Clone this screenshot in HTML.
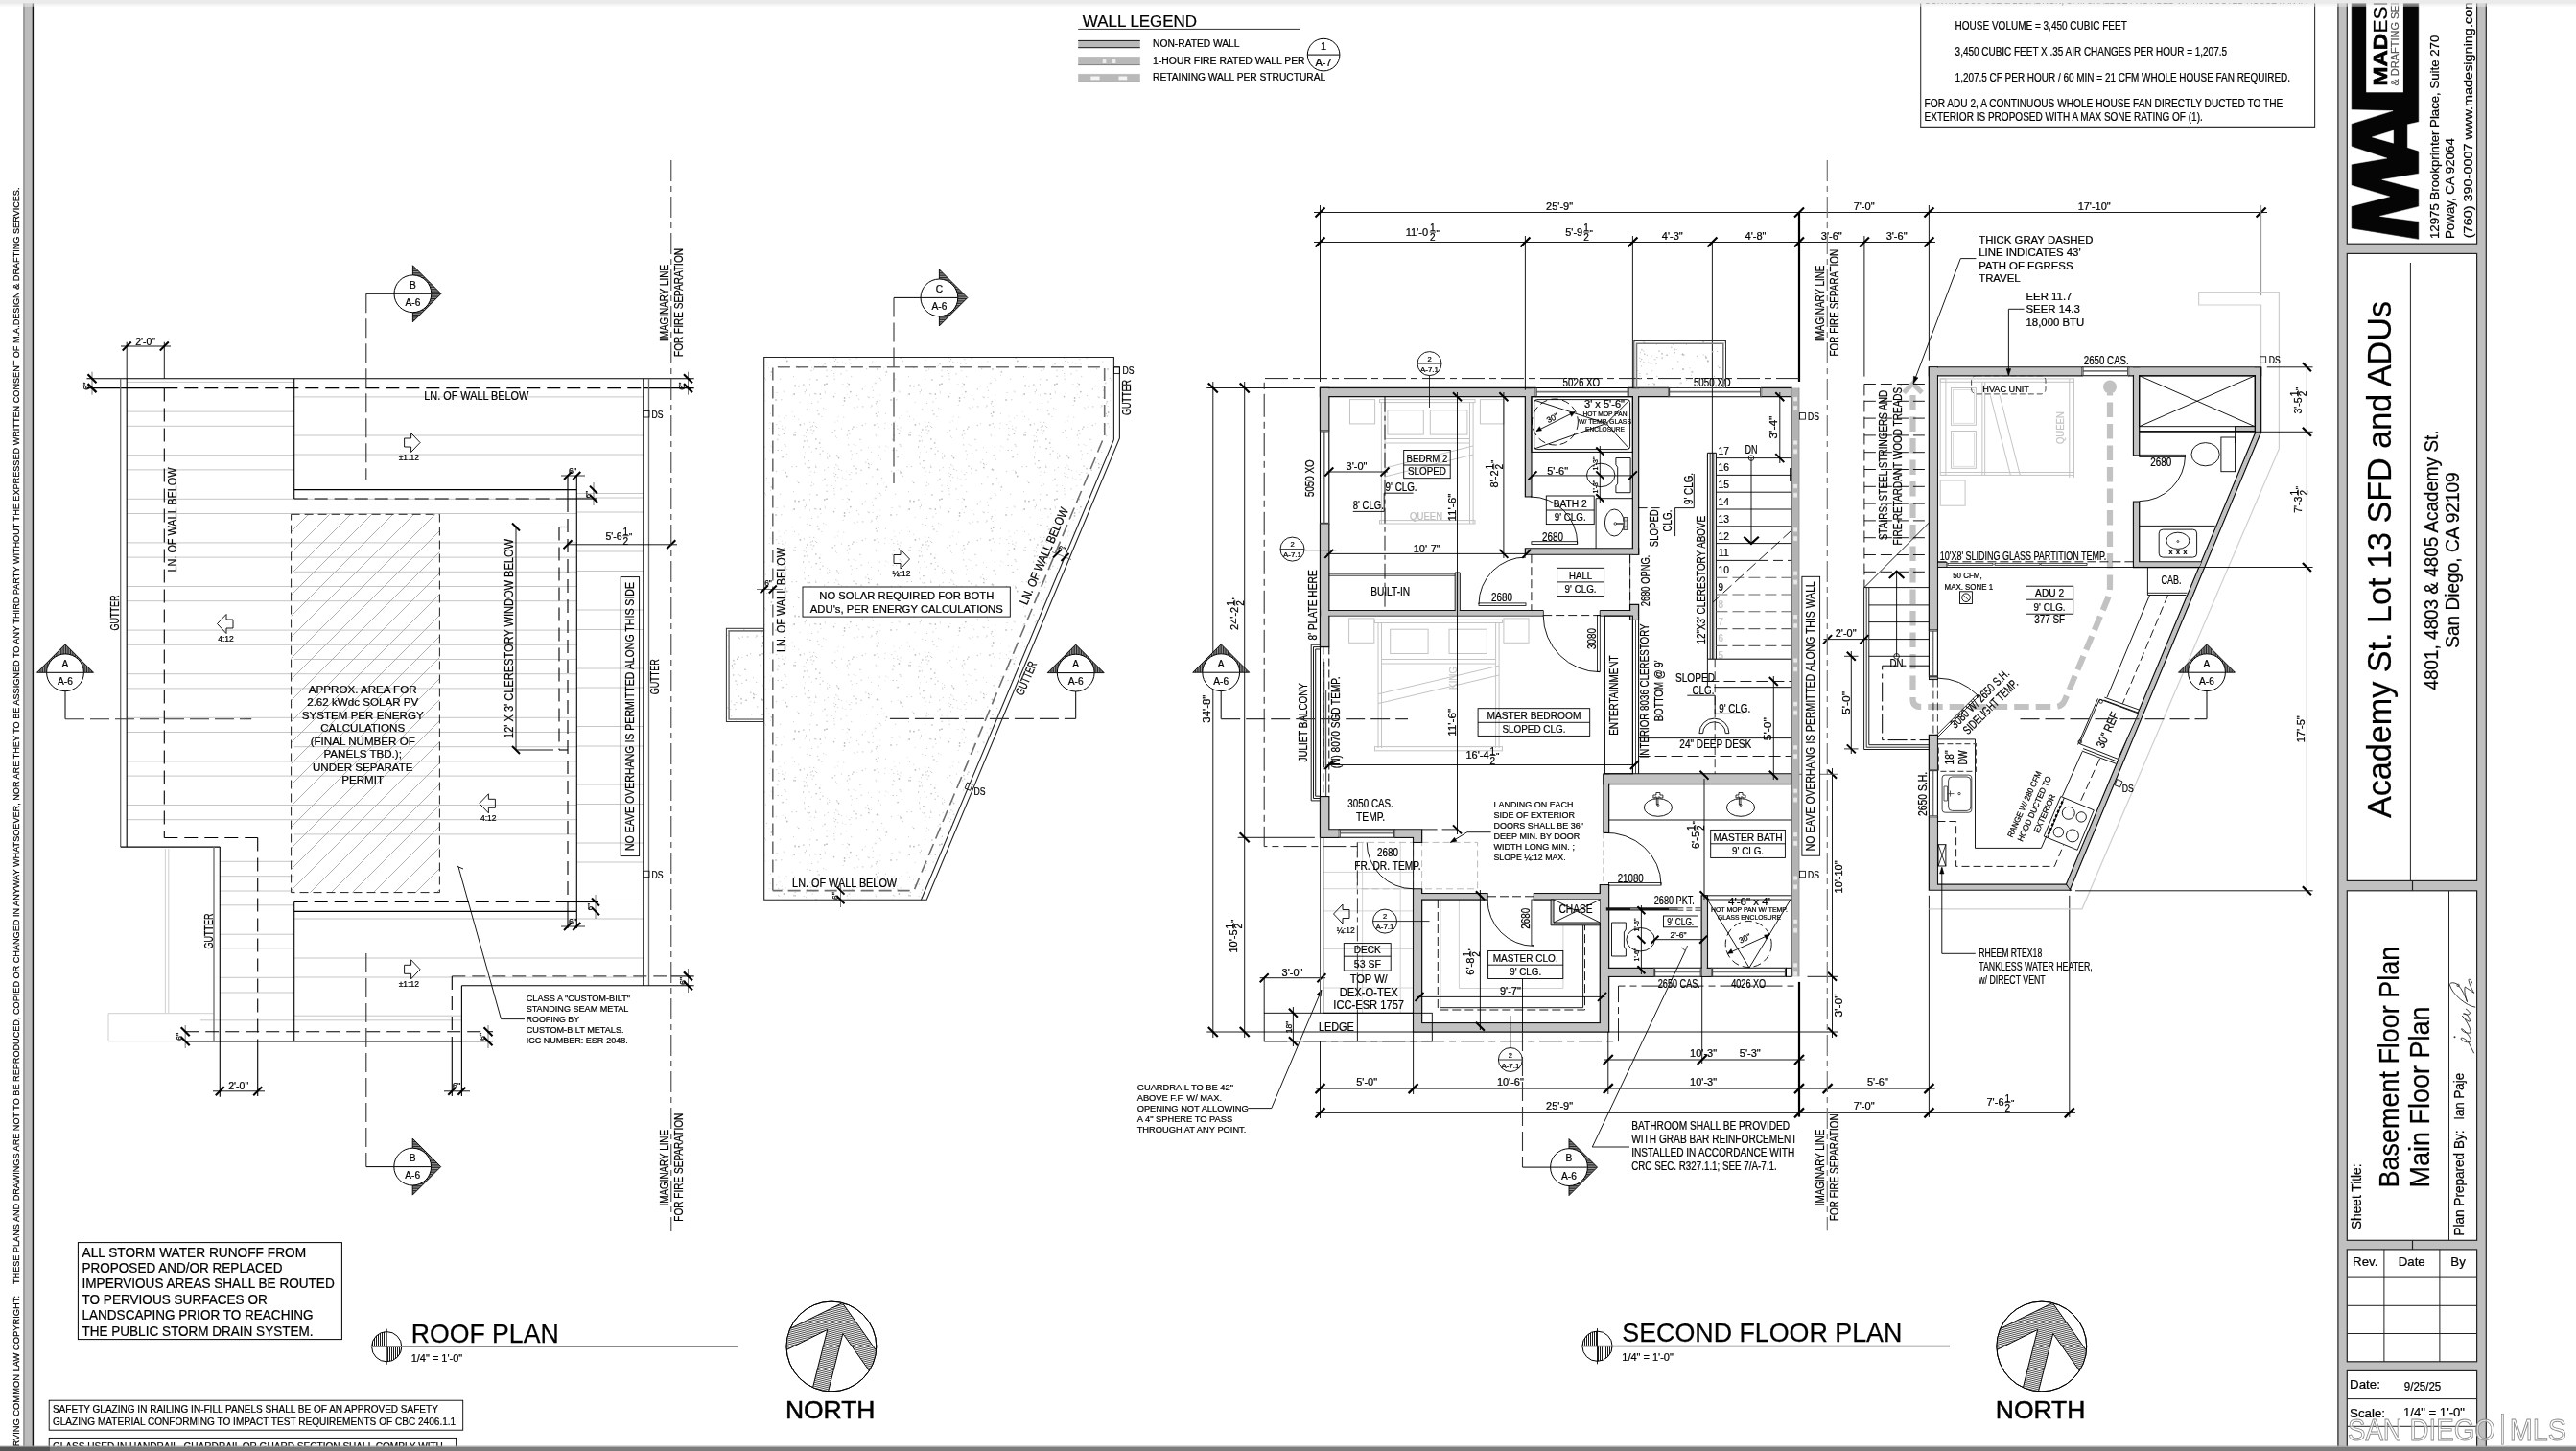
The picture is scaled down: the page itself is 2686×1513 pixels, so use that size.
<!DOCTYPE html>
<html><head><meta charset="utf-8"><title>Second Floor Plan</title>
<style>html,body{margin:0;padding:0;background:#fff;}svg{display:block}text{font-family:"Liberation Sans",sans-serif;}</style></head>
<body>
<svg xmlns="http://www.w3.org/2000/svg" width="2686" height="1513" viewBox="0 0 2686 1513" font-family="Liberation Sans, sans-serif" style="will-change:transform">
<defs>
<pattern id="hat" width="3" height="1.7" patternUnits="userSpaceOnUse"><rect width="3" height="1.7" fill="#e8e8e8"/><line x1="0" y1="0.6" x2="3" y2="0.6" stroke="#222" stroke-width="1.2"/></pattern>
<pattern id="hatu" width="1.7" height="3" patternUnits="userSpaceOnUse"><rect width="1.7" height="3" fill="#e8e8e8"/><line x1="0.6" y1="0" x2="0.6" y2="3" stroke="#222" stroke-width="1.2"/></pattern>
<pattern id="hatn" width="3" height="1.9" patternUnits="userSpaceOnUse"><rect width="3" height="1.9" fill="#fff"/><line x1="0" y1="0.5" x2="3" y2="0.5" stroke="#111" stroke-width="0.75"/></pattern>
<pattern id="hatv" width="2" height="3" patternUnits="userSpaceOnUse"><rect width="2" height="3" fill="#fff"/><line x1="0.5" y1="0" x2="0.5" y2="3" stroke="#000" stroke-width="0.9"/></pattern>
<pattern id="hatd" width="3" height="3" patternUnits="userSpaceOnUse" patternTransform="rotate(28)"><rect width="3" height="3" fill="#fff"/><line x1="0" y1="0.5" x2="3" y2="0.5" stroke="#000" stroke-width="1.1"/></pattern>
<pattern id="hats" width="22" height="22" patternUnits="userSpaceOnUse"><path d="M-1,23 L23,-1 M-12,12 L12,-12 M10,34 L34,10" stroke="#a8a8a8" stroke-width="0.9"/></pattern>
<pattern id="stip" width="120" height="120" patternUnits="userSpaceOnUse"><circle cx="38.9" cy="18.1" r="0.5" fill="#bdbdbd"/><circle cx="98.6" cy="11.3" r="0.6" fill="#bdbdbd"/><circle cx="4.5" cy="52.0" r="0.6" fill="#bdbdbd"/><circle cx="10.9" cy="50.9" r="0.6" fill="#bdbdbd"/><circle cx="75.7" cy="70.0" r="0.9" fill="#bdbdbd"/><circle cx="6.0" cy="26.5" r="0.7" fill="#cfcfcf"/><circle cx="50.3" cy="64.9" r="0.6" fill="#d9d9d9"/><circle cx="12.4" cy="68.5" r="0.7" fill="#cfcfcf"/><circle cx="11.7" cy="85.5" r="0.6" fill="#bdbdbd"/><circle cx="59.6" cy="63.8" r="0.9" fill="#d9d9d9"/><circle cx="70.3" cy="54.4" r="0.6" fill="#d9d9d9"/><circle cx="95.3" cy="83.9" r="0.5" fill="#cfcfcf"/><circle cx="68.9" cy="63.0" r="0.9" fill="#d9d9d9"/><circle cx="34.6" cy="117.6" r="0.9" fill="#bdbdbd"/><circle cx="19.8" cy="41.0" r="0.9" fill="#c4c4c4"/><circle cx="4.7" cy="80.2" r="0.7" fill="#d9d9d9"/><circle cx="83.4" cy="71.3" r="0.5" fill="#c4c4c4"/><circle cx="100.8" cy="113.4" r="0.5" fill="#c4c4c4"/><circle cx="7.3" cy="84.2" r="0.7" fill="#c4c4c4"/><circle cx="86.0" cy="106.4" r="0.5" fill="#d9d9d9"/><circle cx="112.9" cy="42.7" r="0.9" fill="#bdbdbd"/><circle cx="7.1" cy="92.2" r="0.6" fill="#cfcfcf"/><circle cx="47.7" cy="110.0" r="0.5" fill="#c4c4c4"/><circle cx="20.0" cy="48.2" r="0.6" fill="#d9d9d9"/><circle cx="98.3" cy="103.7" r="0.9" fill="#d9d9d9"/><circle cx="118.4" cy="81.9" r="0.6" fill="#c4c4c4"/><circle cx="18.1" cy="21.1" r="0.6" fill="#cfcfcf"/><circle cx="1.4" cy="99.7" r="0.7" fill="#cfcfcf"/><circle cx="33.8" cy="17.5" r="0.7" fill="#d9d9d9"/><circle cx="114.4" cy="82.9" r="0.9" fill="#bdbdbd"/><circle cx="107.9" cy="93.6" r="0.9" fill="#c4c4c4"/><circle cx="47.9" cy="12.4" r="0.5" fill="#c4c4c4"/><circle cx="22.9" cy="118.2" r="0.6" fill="#c4c4c4"/><circle cx="13.2" cy="72.1" r="0.5" fill="#bdbdbd"/><circle cx="68.0" cy="64.4" r="0.5" fill="#d9d9d9"/><circle cx="8.4" cy="25.0" r="0.6" fill="#c4c4c4"/><circle cx="76.1" cy="114.7" r="0.9" fill="#d9d9d9"/><circle cx="14.7" cy="101.9" r="0.9" fill="#c4c4c4"/><circle cx="58.1" cy="10.3" r="0.7" fill="#bdbdbd"/><circle cx="88.8" cy="57.4" r="0.5" fill="#cfcfcf"/><circle cx="24.6" cy="114.2" r="0.6" fill="#d9d9d9"/><circle cx="82.8" cy="109.7" r="0.5" fill="#d9d9d9"/><circle cx="83.5" cy="31.3" r="0.6" fill="#d9d9d9"/><circle cx="42.7" cy="26.7" r="0.6" fill="#d9d9d9"/><circle cx="73.6" cy="94.6" r="0.6" fill="#cfcfcf"/><circle cx="98.2" cy="88.8" r="0.6" fill="#cfcfcf"/><circle cx="62.1" cy="42.7" r="0.5" fill="#bdbdbd"/><circle cx="94.8" cy="56.7" r="0.7" fill="#cfcfcf"/><circle cx="53.7" cy="112.4" r="0.7" fill="#d9d9d9"/><circle cx="9.7" cy="12.3" r="0.6" fill="#c4c4c4"/><circle cx="40.5" cy="57.9" r="0.9" fill="#bdbdbd"/><circle cx="109.1" cy="41.3" r="0.5" fill="#bdbdbd"/><circle cx="109.2" cy="93.9" r="0.9" fill="#cfcfcf"/><circle cx="106.7" cy="52.1" r="0.5" fill="#d9d9d9"/><circle cx="96.1" cy="116.6" r="0.9" fill="#c4c4c4"/><circle cx="48.2" cy="113.6" r="0.6" fill="#cfcfcf"/><circle cx="119.2" cy="3.3" r="0.6" fill="#c4c4c4"/><circle cx="73.4" cy="71.5" r="0.7" fill="#c4c4c4"/><circle cx="18.7" cy="65.8" r="0.5" fill="#bdbdbd"/><circle cx="95.9" cy="87.2" r="0.6" fill="#bdbdbd"/><circle cx="52.1" cy="104.6" r="0.5" fill="#cfcfcf"/><circle cx="30.2" cy="35.2" r="0.7" fill="#cfcfcf"/><circle cx="31.1" cy="50.3" r="0.5" fill="#cfcfcf"/><circle cx="109.2" cy="42.5" r="0.9" fill="#c4c4c4"/><circle cx="99.3" cy="105.4" r="0.6" fill="#cfcfcf"/><circle cx="62.8" cy="2.2" r="0.6" fill="#c4c4c4"/><circle cx="73.0" cy="93.1" r="0.6" fill="#cfcfcf"/><circle cx="17.0" cy="74.3" r="0.5" fill="#bdbdbd"/><circle cx="39.1" cy="62.2" r="0.5" fill="#c4c4c4"/><circle cx="106.0" cy="6.8" r="0.7" fill="#cfcfcf"/><circle cx="5.1" cy="11.7" r="0.5" fill="#c4c4c4"/><circle cx="91.2" cy="109.5" r="0.7" fill="#c4c4c4"/><circle cx="73.5" cy="60.7" r="0.7" fill="#cfcfcf"/><circle cx="54.3" cy="64.0" r="0.6" fill="#c4c4c4"/><circle cx="83.9" cy="105.2" r="0.6" fill="#d9d9d9"/><circle cx="100.8" cy="16.5" r="0.9" fill="#bdbdbd"/><circle cx="53.1" cy="8.7" r="0.9" fill="#cfcfcf"/><circle cx="8.8" cy="80.3" r="0.6" fill="#bdbdbd"/><circle cx="112.7" cy="77.2" r="0.6" fill="#d9d9d9"/><circle cx="30.4" cy="16.5" r="0.6" fill="#c4c4c4"/><circle cx="89.6" cy="11.3" r="0.6" fill="#c4c4c4"/><circle cx="118.8" cy="99.9" r="0.9" fill="#cfcfcf"/><circle cx="119.3" cy="48.5" r="0.6" fill="#c4c4c4"/><circle cx="42.8" cy="11.1" r="0.5" fill="#d9d9d9"/><circle cx="40.6" cy="55.0" r="0.9" fill="#bdbdbd"/><circle cx="39.8" cy="74.9" r="0.5" fill="#bdbdbd"/><circle cx="118.2" cy="94.6" r="0.5" fill="#bdbdbd"/><circle cx="31.9" cy="4.8" r="0.7" fill="#cfcfcf"/><circle cx="90.7" cy="98.4" r="0.9" fill="#d9d9d9"/><circle cx="17.9" cy="110.3" r="0.7" fill="#c4c4c4"/><circle cx="10.7" cy="6.9" r="0.9" fill="#cfcfcf"/><circle cx="107.4" cy="32.3" r="0.5" fill="#bdbdbd"/><circle cx="96.2" cy="10.0" r="0.5" fill="#cfcfcf"/><circle cx="31.7" cy="14.6" r="0.7" fill="#bdbdbd"/><circle cx="119.3" cy="50.1" r="0.6" fill="#d9d9d9"/><circle cx="5.2" cy="85.1" r="0.6" fill="#bdbdbd"/><circle cx="31.4" cy="21.7" r="0.7" fill="#d9d9d9"/><circle cx="63.7" cy="24.7" r="0.6" fill="#c4c4c4"/><circle cx="32.5" cy="96.4" r="0.5" fill="#d9d9d9"/><circle cx="1.8" cy="88.0" r="0.9" fill="#cfcfcf"/><circle cx="29.5" cy="53.6" r="0.9" fill="#c4c4c4"/><circle cx="65.5" cy="106.6" r="0.6" fill="#d9d9d9"/><circle cx="117.9" cy="41.1" r="0.9" fill="#cfcfcf"/><circle cx="118.7" cy="117.8" r="0.5" fill="#cfcfcf"/><circle cx="8.5" cy="88.9" r="0.9" fill="#d9d9d9"/><circle cx="19.6" cy="10.1" r="0.7" fill="#c4c4c4"/><circle cx="71.9" cy="83.1" r="0.9" fill="#bdbdbd"/><circle cx="22.2" cy="32.3" r="0.7" fill="#bdbdbd"/><circle cx="43.7" cy="39.5" r="0.6" fill="#d9d9d9"/><circle cx="4.1" cy="105.9" r="0.7" fill="#cfcfcf"/><circle cx="22.0" cy="40.2" r="0.9" fill="#bdbdbd"/><circle cx="33.5" cy="78.7" r="0.5" fill="#cfcfcf"/><circle cx="10.9" cy="98.0" r="0.9" fill="#cfcfcf"/><circle cx="70.4" cy="47.3" r="0.7" fill="#d9d9d9"/><circle cx="75.6" cy="10.1" r="0.9" fill="#cfcfcf"/><circle cx="91.7" cy="86.5" r="0.6" fill="#c4c4c4"/><circle cx="34.1" cy="74.2" r="0.5" fill="#cfcfcf"/><circle cx="99.0" cy="85.8" r="0.6" fill="#c4c4c4"/><circle cx="109.2" cy="90.3" r="0.6" fill="#bdbdbd"/><circle cx="10.2" cy="5.0" r="0.5" fill="#d9d9d9"/><circle cx="45.2" cy="54.2" r="0.5" fill="#bdbdbd"/><circle cx="75.1" cy="81.7" r="0.7" fill="#c4c4c4"/><circle cx="0.4" cy="95.7" r="0.5" fill="#bdbdbd"/><circle cx="89.5" cy="56.9" r="0.7" fill="#bdbdbd"/><circle cx="28.2" cy="90.8" r="0.9" fill="#cfcfcf"/><circle cx="59.3" cy="45.9" r="0.7" fill="#c4c4c4"/><circle cx="92.0" cy="74.0" r="0.5" fill="#cfcfcf"/><circle cx="72.0" cy="39.8" r="0.6" fill="#d9d9d9"/><circle cx="1.5" cy="7.3" r="0.5" fill="#d9d9d9"/><circle cx="83.1" cy="81.1" r="0.7" fill="#d9d9d9"/><circle cx="55.8" cy="56.0" r="0.6" fill="#bdbdbd"/><circle cx="37.4" cy="10.3" r="0.5" fill="#c4c4c4"/><circle cx="34.8" cy="9.2" r="0.7" fill="#c4c4c4"/><circle cx="46.4" cy="110.0" r="0.5" fill="#cfcfcf"/><circle cx="69.8" cy="17.0" r="0.7" fill="#d9d9d9"/><circle cx="15.9" cy="98.4" r="0.5" fill="#d9d9d9"/><circle cx="84.4" cy="27.8" r="0.9" fill="#c4c4c4"/><circle cx="3.0" cy="0.4" r="0.9" fill="#c4c4c4"/><circle cx="48.7" cy="87.3" r="0.7" fill="#c4c4c4"/><circle cx="45.1" cy="14.5" r="0.5" fill="#d9d9d9"/><circle cx="38.9" cy="40.6" r="0.5" fill="#c4c4c4"/><circle cx="112.8" cy="23.5" r="0.7" fill="#bdbdbd"/><circle cx="30.4" cy="7.8" r="0.5" fill="#c4c4c4"/><circle cx="43.3" cy="51.4" r="0.5" fill="#d9d9d9"/><circle cx="33.7" cy="6.2" r="0.6" fill="#d9d9d9"/><circle cx="29.9" cy="31.9" r="0.6" fill="#d9d9d9"/><circle cx="92.8" cy="94.2" r="0.5" fill="#c4c4c4"/><circle cx="97.4" cy="75.7" r="0.5" fill="#cfcfcf"/><circle cx="5.9" cy="87.9" r="0.6" fill="#c4c4c4"/><circle cx="77.3" cy="34.3" r="0.6" fill="#bdbdbd"/><circle cx="20.5" cy="49.8" r="0.7" fill="#d9d9d9"/><circle cx="30.7" cy="88.6" r="0.9" fill="#d9d9d9"/><circle cx="78.7" cy="36.1" r="0.5" fill="#c4c4c4"/><circle cx="20.1" cy="19.4" r="0.9" fill="#cfcfcf"/><circle cx="66.0" cy="54.4" r="0.9" fill="#d9d9d9"/><circle cx="51.3" cy="65.7" r="0.5" fill="#cfcfcf"/><circle cx="21.0" cy="66.7" r="0.6" fill="#d9d9d9"/><circle cx="44.2" cy="97.1" r="0.5" fill="#cfcfcf"/><circle cx="90.0" cy="49.5" r="0.6" fill="#c4c4c4"/><circle cx="45.2" cy="40.6" r="0.9" fill="#bdbdbd"/><circle cx="33.3" cy="116.1" r="0.6" fill="#cfcfcf"/><circle cx="11.1" cy="107.6" r="0.9" fill="#c4c4c4"/><circle cx="77.5" cy="51.8" r="0.5" fill="#d9d9d9"/><circle cx="15.3" cy="51.0" r="0.9" fill="#c4c4c4"/><circle cx="0.0" cy="47.0" r="0.9" fill="#c4c4c4"/><circle cx="29.8" cy="13.1" r="0.6" fill="#cfcfcf"/><circle cx="62.7" cy="81.8" r="0.5" fill="#c4c4c4"/><circle cx="66.2" cy="4.7" r="0.6" fill="#cfcfcf"/><circle cx="68.3" cy="4.5" r="0.6" fill="#d9d9d9"/><circle cx="75.2" cy="63.4" r="0.5" fill="#c4c4c4"/><circle cx="11.9" cy="36.0" r="0.9" fill="#cfcfcf"/><circle cx="31.3" cy="94.9" r="0.5" fill="#bdbdbd"/><circle cx="64.5" cy="119.6" r="0.7" fill="#d9d9d9"/><circle cx="77.3" cy="106.1" r="0.6" fill="#c4c4c4"/><circle cx="65.6" cy="3.5" r="0.7" fill="#c4c4c4"/><circle cx="6.6" cy="23.3" r="0.5" fill="#c4c4c4"/><circle cx="30.9" cy="80.1" r="0.6" fill="#d9d9d9"/><circle cx="59.2" cy="83.5" r="0.7" fill="#c4c4c4"/><circle cx="81.9" cy="23.8" r="0.5" fill="#d9d9d9"/><circle cx="24.6" cy="116.4" r="0.6" fill="#d9d9d9"/><circle cx="27.7" cy="26.6" r="0.5" fill="#d9d9d9"/><circle cx="114.2" cy="59.5" r="0.6" fill="#cfcfcf"/><circle cx="58.2" cy="109.2" r="0.6" fill="#bdbdbd"/><circle cx="110.6" cy="6.5" r="0.6" fill="#bdbdbd"/><circle cx="49.8" cy="85.2" r="0.9" fill="#cfcfcf"/><circle cx="54.0" cy="85.4" r="0.5" fill="#d9d9d9"/><circle cx="119.7" cy="111.8" r="0.6" fill="#d9d9d9"/><circle cx="22.3" cy="112.3" r="0.5" fill="#c4c4c4"/><circle cx="37.4" cy="87.0" r="0.7" fill="#d9d9d9"/><circle cx="53.1" cy="13.1" r="0.7" fill="#bdbdbd"/><circle cx="9.7" cy="50.4" r="0.6" fill="#bdbdbd"/><circle cx="45.6" cy="92.2" r="0.9" fill="#d9d9d9"/><circle cx="10.5" cy="84.6" r="0.7" fill="#cfcfcf"/><circle cx="65.0" cy="53.6" r="0.7" fill="#d9d9d9"/><circle cx="88.5" cy="56.9" r="0.6" fill="#c4c4c4"/><circle cx="97.4" cy="92.0" r="0.9" fill="#bdbdbd"/><circle cx="4.2" cy="7.5" r="0.7" fill="#bdbdbd"/><circle cx="23.4" cy="7.5" r="0.7" fill="#d9d9d9"/><circle cx="32.7" cy="114.9" r="0.7" fill="#bdbdbd"/><circle cx="89.6" cy="82.7" r="0.7" fill="#d9d9d9"/><circle cx="0.5" cy="90.7" r="0.5" fill="#bdbdbd"/><circle cx="99.1" cy="12.9" r="0.9" fill="#c4c4c4"/><circle cx="94.8" cy="109.6" r="0.6" fill="#c4c4c4"/><circle cx="111.4" cy="22.0" r="0.6" fill="#d9d9d9"/><circle cx="72.9" cy="39.3" r="0.9" fill="#d9d9d9"/><circle cx="43.4" cy="93.9" r="0.6" fill="#bdbdbd"/><circle cx="47.0" cy="19.2" r="0.5" fill="#c4c4c4"/><circle cx="77.9" cy="57.8" r="0.6" fill="#d9d9d9"/><circle cx="117.6" cy="106.0" r="0.7" fill="#bdbdbd"/><circle cx="75.0" cy="25.0" r="0.9" fill="#c4c4c4"/><circle cx="118.6" cy="116.7" r="0.6" fill="#cfcfcf"/><circle cx="16.0" cy="55.3" r="0.5" fill="#cfcfcf"/><circle cx="93.6" cy="35.3" r="0.7" fill="#d9d9d9"/><circle cx="44.8" cy="88.6" r="0.9" fill="#cfcfcf"/><circle cx="29.7" cy="29.4" r="0.7" fill="#cfcfcf"/><circle cx="106.1" cy="69.4" r="0.5" fill="#d9d9d9"/><circle cx="47.5" cy="119.1" r="0.5" fill="#cfcfcf"/><circle cx="78.4" cy="118.9" r="0.5" fill="#bdbdbd"/><circle cx="57.0" cy="98.3" r="0.7" fill="#c4c4c4"/><circle cx="4.8" cy="35.2" r="0.5" fill="#bdbdbd"/><circle cx="22.7" cy="116.8" r="0.5" fill="#cfcfcf"/><circle cx="44.7" cy="103.9" r="0.7" fill="#c4c4c4"/><circle cx="93.0" cy="79.8" r="0.5" fill="#bdbdbd"/><circle cx="76.5" cy="85.2" r="0.6" fill="#d9d9d9"/><circle cx="4.5" cy="40.8" r="0.6" fill="#bdbdbd"/><circle cx="120.0" cy="4.6" r="0.5" fill="#cfcfcf"/><circle cx="98.3" cy="49.1" r="0.6" fill="#d9d9d9"/><circle cx="74.5" cy="9.4" r="0.9" fill="#bdbdbd"/><circle cx="65.8" cy="7.6" r="0.9" fill="#bdbdbd"/><circle cx="79.7" cy="18.5" r="0.6" fill="#bdbdbd"/><circle cx="47.7" cy="32.5" r="0.7" fill="#d9d9d9"/><circle cx="50.1" cy="6.2" r="0.9" fill="#d9d9d9"/><circle cx="50.0" cy="103.7" r="0.6" fill="#d9d9d9"/><circle cx="46.9" cy="48.6" r="0.9" fill="#bdbdbd"/><circle cx="108.2" cy="50.9" r="0.9" fill="#bdbdbd"/><circle cx="69.3" cy="43.8" r="0.6" fill="#cfcfcf"/><circle cx="1.8" cy="66.2" r="0.5" fill="#c4c4c4"/><circle cx="68.7" cy="111.3" r="0.6" fill="#cfcfcf"/><circle cx="41.8" cy="19.4" r="0.5" fill="#cfcfcf"/><circle cx="13.1" cy="58.9" r="0.7" fill="#cfcfcf"/><circle cx="15.2" cy="113.2" r="0.7" fill="#c4c4c4"/><circle cx="6.4" cy="111.1" r="0.5" fill="#c4c4c4"/><circle cx="108.5" cy="74.4" r="0.6" fill="#cfcfcf"/><circle cx="74.5" cy="73.8" r="0.9" fill="#cfcfcf"/><circle cx="22.0" cy="26.2" r="0.6" fill="#c4c4c4"/><circle cx="46.0" cy="14.8" r="0.6" fill="#cfcfcf"/><circle cx="4.9" cy="67.5" r="0.7" fill="#bdbdbd"/><circle cx="14.1" cy="71.9" r="0.9" fill="#d9d9d9"/><circle cx="37.0" cy="29.9" r="0.7" fill="#c4c4c4"/><circle cx="53.6" cy="52.6" r="0.5" fill="#bdbdbd"/><circle cx="74.3" cy="58.7" r="0.9" fill="#cfcfcf"/><circle cx="91.6" cy="93.6" r="0.6" fill="#c4c4c4"/><circle cx="97.3" cy="48.0" r="0.6" fill="#bdbdbd"/><circle cx="43.0" cy="43.8" r="0.5" fill="#c4c4c4"/><circle cx="4.9" cy="15.6" r="0.5" fill="#d9d9d9"/><circle cx="6.5" cy="60.5" r="0.6" fill="#c4c4c4"/><circle cx="3.1" cy="8.0" r="0.6" fill="#bdbdbd"/><circle cx="15.8" cy="106.3" r="0.6" fill="#d9d9d9"/><circle cx="82.3" cy="86.5" r="0.5" fill="#cfcfcf"/><circle cx="100.0" cy="73.3" r="0.6" fill="#d9d9d9"/></pattern>
<pattern id="firev" width="7.8" height="45.4" patternUnits="userSpaceOnUse" patternTransform="translate(1868.2 411.1)"><rect width="7.8" height="45.4" fill="#b3b3b3"/><rect x="2" y="3" width="3.8" height="4.2" fill="#e9e9e9"/><rect x="2" y="12" width="3.8" height="4.6" fill="#e9e9e9"/></pattern>
<linearGradient id="lg1" x1="0" y1="0" x2="1" y2="0"><stop offset="0" stop-color="#3a3a3a"/><stop offset="0.12" stop-color="#000"/><stop offset="0.85" stop-color="#000"/><stop offset="1" stop-color="#444"/></linearGradient>
</defs>
<rect x="0" y="0" width="2686" height="1513" fill="#fff" stroke="none" stroke-width="0"/>
<rect x="24.6" y="0" width="10" height="1513" fill="#bcbcbc" stroke="none" stroke-width="0"/>
<line x1="24.9" y1="0" x2="24.9" y2="1513" stroke="#555" stroke-width="0.8"/>
<line x1="34.4" y1="0" x2="34.4" y2="1513" stroke="#111" stroke-width="1.4"/>
<text x="19.9" y="1534" font-size="9.9" transform="rotate(-90 19.9 1534)" textLength="183" lengthAdjust="spacingAndGlyphs" stroke="#000" stroke-width="0.22">RESERVING COMMON LAW COPYRIGHT:</text>
<text x="19.9" y="1339" font-size="9.9" transform="rotate(-90 19.9 1339)" textLength="1143.5" lengthAdjust="spacingAndGlyphs" stroke="#000" stroke-width="0.22">THESE PLANS AND DRAWINGS ARE NOT  TO BE REPRODUCED, COPIED OR CHANGED IN ANYWAY WHATSOEVER, NOR ARE THEY TO BE ASSIGNED TO ANY THIRD PARTY WITHOUT THE EXPRESSED WRITTEN CONSENT OF M.A.DESIGN &amp; DRAFTING SERVICES.</text>
<text x="1128.8" y="28.3" font-size="16.2" textLength="119.3" lengthAdjust="spacingAndGlyphs" stroke="#000" stroke-width="0.22">WALL LEGEND</text>
<line x1="1124.2" y1="30.4" x2="1355.9" y2="30.4" stroke="#333" stroke-width="1"/>
<rect x="1124.2" y="42.4" width="64.6" height="7.2" fill="#b9b9b9" stroke="none" stroke-width="0"/>
<line x1="1124.2" y1="42.4" x2="1188.8" y2="42.4" stroke="#111" stroke-width="1"/>
<line x1="1124.2" y1="49.7" x2="1188.8" y2="49.7" stroke="#111" stroke-width="1"/>
<rect x="1124.2" y="59.6" width="64.6" height="7.9" fill="#b9b9b9" stroke="none" stroke-width="0"/>
<line x1="1124.2" y1="67.6" x2="1188.8" y2="67.6" stroke="#666" stroke-width="0.8"/>
<line x1="1124.2" y1="59.5" x2="1188.8" y2="59.5" stroke="#aaa" stroke-width="0.6"/>
<rect x="1149.7" y="61" width="3.7" height="5" fill="#ececec" stroke="none" stroke-width="0"/>
<rect x="1159" y="61" width="4.4" height="5" fill="#ececec" stroke="none" stroke-width="0"/>
<rect x="1124.2" y="77.5" width="64.6" height="7.8" fill="#b9b9b9" stroke="none" stroke-width="0"/>
<line x1="1124.2" y1="85.4" x2="1188.8" y2="85.4" stroke="#888" stroke-width="0.8"/>
<line x1="1124.2" y1="77.4" x2="1188.8" y2="77.4" stroke="#aaa" stroke-width="0.6"/>
<rect x="1137.3" y="79.5" width="9.3" height="3.8" fill="#f4f4f4" stroke="none" stroke-width="0"/>
<rect x="1166.5" y="79.5" width="8.7" height="3.8" fill="#f4f4f4" stroke="none" stroke-width="0"/>
<text x="1202.1" y="48.7" font-size="10" textLength="90.4" lengthAdjust="spacingAndGlyphs" stroke="#000" stroke-width="0.22">NON-RATED WALL</text>
<text x="1202.1" y="66.5" font-size="10" textLength="158.5" lengthAdjust="spacingAndGlyphs" stroke="#000" stroke-width="0.22">1-HOUR FIRE RATED WALL  PER</text>
<text x="1202.1" y="83.6" font-size="10" textLength="180.1" lengthAdjust="spacingAndGlyphs" stroke="#000" stroke-width="0.22">RETAINING WALL PER STRUCTURAL</text>
<circle cx="1380.1" cy="57.1" r="16.8" fill="none" stroke="#000" stroke-width="1"/>
<line x1="1363.3" y1="57.1" x2="1396.9" y2="57.1" stroke="#000" stroke-width="1"/>
<text x="1380.1" y="51.8" font-size="11" text-anchor="middle" stroke="#000" stroke-width="0.22">1</text>
<text x="1380.1" y="68.8" font-size="11" text-anchor="middle" stroke="#000" stroke-width="0.22">A-7</text>
<polyline points="2002.7,0 2002.7,132.4 2413.6,132.4 2413.6,0" fill="none" stroke="#333" stroke-width="1.1"/>
<text x="2006.6" y="4.3" font-size="12" textLength="400" lengthAdjust="spacingAndGlyphs" fill="#111" stroke="#111" stroke-width="0.22">CONTINUOUS USE &amp; LOCAL NON, CFM SHALL BE PROVIDED WITH A DUCTED HOUSE FAN IF:</text>
<text x="2038.6" y="31.1" font-size="12" textLength="179.2" lengthAdjust="spacingAndGlyphs" stroke="#000" stroke-width="0.22">HOUSE VOLUME = 3,450 CUBIC FEET</text>
<text x="2038.6" y="58.2" font-size="12" textLength="283.4" lengthAdjust="spacingAndGlyphs" stroke="#000" stroke-width="0.22">3,450 CUBIC FEET X .35 AIR CHANGES PER HOUR = 1,207.5</text>
<text x="2038.6" y="85.4" font-size="12" textLength="349.4" lengthAdjust="spacingAndGlyphs" stroke="#000" stroke-width="0.22">1,207.5 CF PER HOUR / 60 MIN = 21 CFM WHOLE HOUSE FAN REQUIRED.</text>
<text x="2006.6" y="112.2" font-size="12" textLength="373.7" lengthAdjust="spacingAndGlyphs" stroke="#000" stroke-width="0.22">FOR ADU 2, A CONTINUOUS WHOLE HOUSE FAN DIRECTLY DUCTED TO THE</text>
<text x="2006.6" y="125.8" font-size="12" textLength="290.2" lengthAdjust="spacingAndGlyphs" stroke="#000" stroke-width="0.22">EXTERIOR IS PROPOSED WITH A MAX SONE RATING OF (1).</text>
<line x1="132.2" y1="429.1" x2="306.7" y2="429.1" stroke="#c6c6c6" stroke-width="1"/>
<line x1="132.2" y1="444.3" x2="306.7" y2="444.3" stroke="#c6c6c6" stroke-width="1"/>
<line x1="132.2" y1="474.7" x2="306.7" y2="474.7" stroke="#c6c6c6" stroke-width="1"/>
<line x1="132.2" y1="489.9" x2="306.7" y2="489.9" stroke="#c6c6c6" stroke-width="1"/>
<line x1="132.2" y1="520.3" x2="601.3" y2="520.3" stroke="#c6c6c6" stroke-width="1"/>
<line x1="132.2" y1="535.5" x2="601.3" y2="535.5" stroke="#c6c6c6" stroke-width="1"/>
<line x1="132.2" y1="565.9" x2="601.3" y2="565.9" stroke="#c6c6c6" stroke-width="1"/>
<line x1="132.2" y1="581.1" x2="601.3" y2="581.1" stroke="#c6c6c6" stroke-width="1"/>
<line x1="306.7" y1="596.3" x2="601.3" y2="596.3" stroke="#c6c6c6" stroke-width="1"/>
<line x1="132.2" y1="611.5" x2="601.3" y2="611.5" stroke="#c6c6c6" stroke-width="1"/>
<line x1="132.2" y1="626.7" x2="601.3" y2="626.7" stroke="#c6c6c6" stroke-width="1"/>
<line x1="132.2" y1="657.1" x2="601.3" y2="657.1" stroke="#c6c6c6" stroke-width="1"/>
<line x1="132.2" y1="672.3" x2="601.3" y2="672.3" stroke="#c6c6c6" stroke-width="1"/>
<line x1="306.7" y1="687.5" x2="601.3" y2="687.5" stroke="#c6c6c6" stroke-width="1"/>
<line x1="132.2" y1="702.7" x2="601.3" y2="702.7" stroke="#c6c6c6" stroke-width="1"/>
<line x1="132.2" y1="717.9" x2="601.3" y2="717.9" stroke="#c6c6c6" stroke-width="1"/>
<line x1="132.2" y1="748.3" x2="601.3" y2="748.3" stroke="#c6c6c6" stroke-width="1"/>
<line x1="132.2" y1="763.5" x2="601.3" y2="763.5" stroke="#c6c6c6" stroke-width="1"/>
<line x1="306.7" y1="778.7" x2="601.3" y2="778.7" stroke="#c6c6c6" stroke-width="1"/>
<line x1="132.2" y1="793.9" x2="601.3" y2="793.9" stroke="#c6c6c6" stroke-width="1"/>
<line x1="132.2" y1="809.1" x2="601.3" y2="809.1" stroke="#c6c6c6" stroke-width="1"/>
<line x1="132.2" y1="839.5" x2="601.3" y2="839.5" stroke="#c6c6c6" stroke-width="1"/>
<line x1="132.2" y1="854.7" x2="601.3" y2="854.7" stroke="#c6c6c6" stroke-width="1"/>
<line x1="306.7" y1="869.9" x2="601.3" y2="869.9" stroke="#c6c6c6" stroke-width="1"/>
<line x1="306.7" y1="413.9" x2="670.8" y2="413.9" stroke="#c6c6c6" stroke-width="1"/>
<line x1="306.7" y1="454" x2="670.8" y2="454" stroke="#c6c6c6" stroke-width="1"/>
<line x1="306.7" y1="474" x2="670.8" y2="474" stroke="#c6c6c6" stroke-width="1"/>
<line x1="132.2" y1="398.4" x2="306.7" y2="398.4" stroke="#c6c6c6" stroke-width="1"/>
<line x1="601.3" y1="514.5" x2="670.8" y2="514.5" stroke="#c6c6c6" stroke-width="1"/>
<line x1="601.3" y1="519" x2="670.8" y2="519" stroke="#c6c6c6" stroke-width="1"/>
<line x1="601.3" y1="534" x2="670.8" y2="534" stroke="#c6c6c6" stroke-width="1"/>
<line x1="601.3" y1="575" x2="670.8" y2="575" stroke="#c6c6c6" stroke-width="1"/>
<line x1="601.3" y1="595.5" x2="670.8" y2="595.5" stroke="#c6c6c6" stroke-width="1"/>
<line x1="601.3" y1="636" x2="670.8" y2="636" stroke="#c6c6c6" stroke-width="1"/>
<line x1="601.3" y1="656.5" x2="670.8" y2="656.5" stroke="#c6c6c6" stroke-width="1"/>
<line x1="601.3" y1="697" x2="670.8" y2="697" stroke="#c6c6c6" stroke-width="1"/>
<line x1="601.3" y1="717" x2="670.8" y2="717" stroke="#c6c6c6" stroke-width="1"/>
<line x1="601.3" y1="757.5" x2="670.8" y2="757.5" stroke="#c6c6c6" stroke-width="1"/>
<line x1="601.3" y1="778" x2="670.8" y2="778" stroke="#c6c6c6" stroke-width="1"/>
<line x1="601.3" y1="818" x2="670.8" y2="818" stroke="#c6c6c6" stroke-width="1"/>
<line x1="601.3" y1="838.5" x2="670.8" y2="838.5" stroke="#c6c6c6" stroke-width="1"/>
<line x1="601.3" y1="879" x2="670.8" y2="879" stroke="#c6c6c6" stroke-width="1"/>
<line x1="601.3" y1="899" x2="670.8" y2="899" stroke="#c6c6c6" stroke-width="1"/>
<line x1="601.3" y1="939.5" x2="670.8" y2="939.5" stroke="#c6c6c6" stroke-width="1"/>
<line x1="229.3" y1="898.3" x2="306.7" y2="898.3" stroke="#c6c6c6" stroke-width="1"/>
<line x1="229.3" y1="913.7" x2="306.7" y2="913.7" stroke="#c6c6c6" stroke-width="1"/>
<line x1="229.3" y1="929" x2="306.7" y2="929" stroke="#c6c6c6" stroke-width="1"/>
<line x1="229.3" y1="943.8" x2="306.7" y2="943.8" stroke="#c6c6c6" stroke-width="1"/>
<line x1="229.3" y1="974.2" x2="306.7" y2="974.2" stroke="#c6c6c6" stroke-width="1"/>
<line x1="229.3" y1="988.8" x2="306.7" y2="988.8" stroke="#c6c6c6" stroke-width="1"/>
<line x1="229.3" y1="1019.3" x2="306.7" y2="1019.3" stroke="#c6c6c6" stroke-width="1"/>
<line x1="229.3" y1="1035" x2="306.7" y2="1035" stroke="#c6c6c6" stroke-width="1"/>
<line x1="306.7" y1="958" x2="670.8" y2="958" stroke="#c6c6c6" stroke-width="1"/>
<line x1="306.7" y1="999" x2="670.8" y2="999" stroke="#c6c6c6" stroke-width="1"/>
<line x1="306.7" y1="1019" x2="670.8" y2="1019" stroke="#c6c6c6" stroke-width="1"/>
<line x1="306.7" y1="1059.2" x2="481.4" y2="1059.2" stroke="#c6c6c6" stroke-width="1"/>
<line x1="209" y1="1063.8" x2="481.4" y2="1063.8" stroke="#c6c6c6" stroke-width="1"/>
<polyline points="223,1056.7 113,1056.7 113,1085.7 193,1085.7" fill="none" stroke="#cfcfcf" stroke-width="1"/>
<line x1="172.4" y1="885" x2="172.4" y2="1056.7" stroke="#cfcfcf" stroke-width="1"/>
<line x1="175.8" y1="885" x2="175.8" y2="1056.7" stroke="#cfcfcf" stroke-width="1"/>
<rect x="303.6" y="536.3" width="154.8" height="394.3" fill="url(#hats)" stroke="none" stroke-width="0"/>
<rect x="303.6" y="536.3" width="154.8" height="394.3" fill="none" stroke="#222" stroke-width="1" stroke-dasharray="9 5"/>
<line x1="90.5" y1="394.7" x2="723.7" y2="394.7" stroke="#000" stroke-width="1.1"/>
<line x1="90.5" y1="404.6" x2="171.3" y2="404.6" stroke="#000" stroke-width="1.1"/>
<line x1="670.8" y1="404.6" x2="723.7" y2="404.6" stroke="#000" stroke-width="1.1"/>
<line x1="171.3" y1="404.6" x2="670.8" y2="404.6" stroke="#000" stroke-width="1.1" stroke-dasharray="14 7"/>
<line x1="125.7" y1="394.7" x2="125.7" y2="883.1" stroke="#6a6a6a" stroke-width="1.3"/>
<line x1="132.2" y1="394.7" x2="132.2" y2="883.1" stroke="#000" stroke-width="1.1"/>
<line x1="125.7" y1="883.1" x2="229.3" y2="883.1" stroke="#000" stroke-width="1.4000000000000001"/>
<line x1="223" y1="883.1" x2="223" y2="1085.7" stroke="#6a6a6a" stroke-width="1.3"/>
<line x1="229.3" y1="883.1" x2="229.3" y2="1143.8" stroke="#000" stroke-width="1.1"/>
<line x1="670.8" y1="394.7" x2="670.8" y2="1027.7" stroke="#000" stroke-width="1.1"/>
<line x1="676.5" y1="394.7" x2="676.5" y2="1027.7" stroke="#6a6a6a" stroke-width="1.3"/>
<line x1="306.7" y1="394.7" x2="306.7" y2="520" stroke="#000" stroke-width="1.1"/>
<line x1="306.7" y1="510.7" x2="601.3" y2="510.7" stroke="#000" stroke-width="1.3"/>
<line x1="306.7" y1="520" x2="592.9" y2="520" stroke="#000" stroke-width="1.1" stroke-dasharray="14 7"/>
<line x1="592.9" y1="520" x2="622" y2="520" stroke="#000" stroke-width="1.1"/>
<line x1="601.3" y1="496" x2="601.3" y2="950.3" stroke="#000" stroke-width="1.1"/>
<line x1="592" y1="496" x2="592" y2="520" stroke="#000" stroke-width="1.1"/>
<line x1="592" y1="520" x2="592" y2="940.5" stroke="#000" stroke-width="1.1" stroke-dasharray="14 7"/>
<line x1="583" y1="549.5" x2="583" y2="782" stroke="#000" stroke-width="1.1" stroke-dasharray="14 7"/>
<line x1="583" y1="549.5" x2="592" y2="549.5" stroke="#000" stroke-width="1.1"/>
<line x1="583" y1="782" x2="592" y2="782" stroke="#000" stroke-width="1.1"/>
<line x1="306.7" y1="940.5" x2="592" y2="940.5" stroke="#000" stroke-width="1.1" stroke-dasharray="14 7"/>
<line x1="592" y1="940.5" x2="624" y2="940.5" stroke="#000" stroke-width="1.1"/>
<line x1="306.7" y1="950.3" x2="601.3" y2="950.3" stroke="#000" stroke-width="1.3"/>
<line x1="306.7" y1="940.5" x2="306.7" y2="1085.7" stroke="#000" stroke-width="1.1"/>
<line x1="592" y1="940.5" x2="592" y2="968" stroke="#000" stroke-width="1.1"/>
<line x1="601.3" y1="950.3" x2="601.3" y2="968" stroke="#000" stroke-width="1.1"/>
<line x1="171.3" y1="404.6" x2="171.3" y2="873.5" stroke="#000" stroke-width="1.1" stroke-dasharray="14 7"/>
<line x1="171.3" y1="873.5" x2="268.7" y2="873.5" stroke="#000" stroke-width="1.1" stroke-dasharray="14 7"/>
<line x1="268.7" y1="873.5" x2="268.7" y2="1085.7" stroke="#000" stroke-width="1.1" stroke-dasharray="14 7"/>
<line x1="268.7" y1="1085.7" x2="268.7" y2="1143" stroke="#000" stroke-width="1.1"/>
<line x1="193.2" y1="1085.7" x2="481.4" y2="1085.7" stroke="#000" stroke-width="1.4000000000000001"/>
<line x1="481.4" y1="1085.7" x2="514" y2="1085.7" stroke="#000" stroke-width="1.1"/>
<line x1="193.2" y1="1075.8" x2="514" y2="1075.8" stroke="#000" stroke-width="1.1" stroke-dasharray="14 7"/>
<line x1="471.3" y1="1017.9" x2="699.8" y2="1017.9" stroke="#444" stroke-width="1.1" stroke-dasharray="14 7"/>
<line x1="699.8" y1="1017.9" x2="723.7" y2="1017.9" stroke="#000" stroke-width="1.1"/>
<line x1="481.4" y1="1027.7" x2="723.7" y2="1027.7" stroke="#000" stroke-width="1.1"/>
<line x1="471.3" y1="1017.9" x2="471.3" y2="1085.7" stroke="#000" stroke-width="1.1" stroke-dasharray="14 7"/>
<line x1="471.3" y1="1085.7" x2="471.3" y2="1143" stroke="#000" stroke-width="1.1"/>
<line x1="481.4" y1="1027.7" x2="481.4" y2="1143" stroke="#000" stroke-width="1.1"/>
<line x1="132.2" y1="356.7" x2="132.2" y2="394.7" stroke="#000" stroke-width="0.9"/>
<line x1="171.3" y1="356.7" x2="171.3" y2="394.7" stroke="#000" stroke-width="0.9"/>
<line x1="126" y1="361" x2="178" y2="361" stroke="#000" stroke-width="0.9"/>
<line x1="127.7" y1="365.5" x2="136.7" y2="356.5" stroke="#000" stroke-width="2" stroke-linecap="butt"/>
<line x1="166.8" y1="365.5" x2="175.8" y2="356.5" stroke="#000" stroke-width="2" stroke-linecap="butt"/>
<text x="151.6" y="359.5" font-size="10.5" text-anchor="middle" stroke="#000" stroke-width="0.22">2&#x27;-0&quot;</text>
<line x1="96" y1="387.7" x2="96" y2="411.6" stroke="#555" stroke-width="0.8"/>
<line x1="91.5" y1="390.2" x2="100.5" y2="399.2" stroke="#000" stroke-width="2.2" stroke-linecap="butt"/>
<line x1="91.5" y1="400.1" x2="100.5" y2="409.1" stroke="#000" stroke-width="2.2" stroke-linecap="butt"/>
<text x="93" y="402.6" font-size="9" text-anchor="middle" transform="rotate(-90 93 402.6)" stroke="#000" stroke-width="0.22">6&quot;</text>
<line x1="717.5" y1="387.7" x2="717.5" y2="411.6" stroke="#555" stroke-width="0.8"/>
<line x1="713" y1="390.2" x2="722" y2="399.2" stroke="#000" stroke-width="2.2" stroke-linecap="butt"/>
<line x1="713" y1="400.1" x2="722" y2="409.1" stroke="#000" stroke-width="2.2" stroke-linecap="butt"/>
<text x="714.5" y="402.6" font-size="9" text-anchor="middle" transform="rotate(-90 714.5 402.6)" stroke="#000" stroke-width="0.22">6&quot;</text>
<line x1="585" y1="496" x2="610" y2="496" stroke="#000" stroke-width="0.8"/>
<line x1="588" y1="500" x2="596" y2="492" stroke="#000" stroke-width="2" stroke-linecap="butt"/>
<line x1="597.3" y1="500" x2="605.3" y2="492" stroke="#000" stroke-width="2" stroke-linecap="butt"/>
<text x="597" y="493.5" font-size="9" text-anchor="middle" stroke="#000" stroke-width="0.22">6&quot;</text>
<line x1="619" y1="503" x2="619" y2="527" stroke="#555" stroke-width="0.8"/>
<line x1="615" y1="506.7" x2="623" y2="514.7" stroke="#000" stroke-width="2" stroke-linecap="butt"/>
<line x1="615" y1="516" x2="623" y2="524" stroke="#000" stroke-width="2" stroke-linecap="butt"/>
<text x="616" y="515.5" font-size="8" text-anchor="middle" transform="rotate(-90 616 515.5)" stroke="#000" stroke-width="0.22">6&quot;</text>
<line x1="621" y1="933" x2="621" y2="958" stroke="#555" stroke-width="0.8"/>
<line x1="617" y1="936.5" x2="625" y2="944.5" stroke="#000" stroke-width="2" stroke-linecap="butt"/>
<line x1="617" y1="946.3" x2="625" y2="954.3" stroke="#000" stroke-width="2" stroke-linecap="butt"/>
<text x="618" y="945.5" font-size="8" text-anchor="middle" transform="rotate(-90 618 945.5)" stroke="#000" stroke-width="0.22">6&quot;</text>
<line x1="585" y1="966" x2="610" y2="966" stroke="#000" stroke-width="0.8"/>
<line x1="588" y1="970" x2="596" y2="962" stroke="#000" stroke-width="2" stroke-linecap="butt"/>
<line x1="597.3" y1="970" x2="605.3" y2="962" stroke="#000" stroke-width="2" stroke-linecap="butt"/>
<text x="597" y="963.5" font-size="9" text-anchor="middle" stroke="#000" stroke-width="0.22">6&quot;</text>
<line x1="717.5" y1="1010" x2="717.5" y2="1035" stroke="#555" stroke-width="0.8"/>
<line x1="713" y1="1013.4" x2="722" y2="1022.4" stroke="#000" stroke-width="2.2" stroke-linecap="butt"/>
<line x1="713" y1="1023.2" x2="722" y2="1032.2" stroke="#000" stroke-width="2.2" stroke-linecap="butt"/>
<text x="714.5" y="1023" font-size="9" text-anchor="middle" transform="rotate(-90 714.5 1023)" stroke="#000" stroke-width="0.22">6&quot;</text>
<line x1="193.2" y1="1069" x2="193.2" y2="1093" stroke="#555" stroke-width="0.8"/>
<line x1="188.7" y1="1071.3" x2="197.7" y2="1080.3" stroke="#000" stroke-width="2.2" stroke-linecap="butt"/>
<line x1="188.7" y1="1081.2" x2="197.7" y2="1090.2" stroke="#000" stroke-width="2.2" stroke-linecap="butt"/>
<text x="190.2" y="1081" font-size="9" text-anchor="middle" transform="rotate(-90 190.2 1081)" stroke="#000" stroke-width="0.22">6&quot;</text>
<line x1="509" y1="1069" x2="509" y2="1093" stroke="#555" stroke-width="0.8"/>
<line x1="504.5" y1="1071.3" x2="513.5" y2="1080.3" stroke="#000" stroke-width="2.2" stroke-linecap="butt"/>
<line x1="504.5" y1="1081.2" x2="513.5" y2="1090.2" stroke="#000" stroke-width="2.2" stroke-linecap="butt"/>
<text x="506" y="1081" font-size="9" text-anchor="middle" transform="rotate(-90 506 1081)" stroke="#000" stroke-width="0.22">6&quot;</text>
<line x1="222" y1="1137.8" x2="276" y2="1137.8" stroke="#000" stroke-width="0.9"/>
<line x1="224.8" y1="1142.3" x2="233.8" y2="1133.3" stroke="#000" stroke-width="2" stroke-linecap="butt"/>
<line x1="264.2" y1="1142.3" x2="273.2" y2="1133.3" stroke="#000" stroke-width="2" stroke-linecap="butt"/>
<text x="248.7" y="1135.5" font-size="10.5" text-anchor="middle" stroke="#000" stroke-width="0.22">2&#x27;-0&quot;</text>
<line x1="463" y1="1137.8" x2="490" y2="1137.8" stroke="#000" stroke-width="0.9"/>
<line x1="467.3" y1="1141.8" x2="475.3" y2="1133.8" stroke="#000" stroke-width="2" stroke-linecap="butt"/>
<line x1="477.4" y1="1141.8" x2="485.4" y2="1133.8" stroke="#000" stroke-width="2" stroke-linecap="butt"/>
<text x="476" y="1134.5" font-size="9.5" text-anchor="middle" stroke="#000" stroke-width="0.22">6&quot;</text>
<line x1="592" y1="567.8" x2="706" y2="567.8" stroke="#000" stroke-width="0.9"/>
<line x1="587.5" y1="572.3" x2="596.5" y2="563.3" stroke="#000" stroke-width="2" stroke-linecap="butt"/>
<line x1="695.3" y1="572.3" x2="704.3" y2="563.3" stroke="#000" stroke-width="2" stroke-linecap="butt"/>
<text x="631.4" y="562.5" font-size="10.5" stroke="#000" stroke-width="0.22">5&#x27;-6</text>
<text x="652.4" y="557.9" font-size="10" text-anchor="middle" stroke="#000" stroke-width="0.22">1</text>
<line x1="649.4" y1="558.7" x2="655.6" y2="558.7" stroke="#000" stroke-width="0.8"/>
<text x="652.4" y="567.8" font-size="10" text-anchor="middle" stroke="#000" stroke-width="0.22">2</text>
<text x="656" y="562.3" font-size="9.0" stroke="#000" stroke-width="0.22">&quot;</text>
<line x1="538" y1="548" x2="538" y2="782" stroke="#000" stroke-width="0.9"/>
<line x1="538" y1="549.5" x2="577" y2="549.5" stroke="#000" stroke-width="0.9"/>
<line x1="538" y1="782" x2="577" y2="782" stroke="#000" stroke-width="0.9"/>
<line x1="534" y1="545.5" x2="542" y2="553.5" stroke="#000" stroke-width="2" stroke-linecap="butt"/>
<line x1="534" y1="778" x2="542" y2="786" stroke="#000" stroke-width="2" stroke-linecap="butt"/>
<text x="535.3" y="666" font-size="12.8" text-anchor="middle" transform="rotate(-90 535.3 666)" textLength="208" lengthAdjust="spacingAndGlyphs" stroke="#000" stroke-width="0.22">12&#x27; X 3&#x27; CLERESTORY WINDOW BELOW</text>
<line x1="699.8" y1="167" x2="699.8" y2="1284" stroke="#333" stroke-width="1" stroke-dasharray="22 5 6 5"/>
<text x="696.6" y="316" font-size="12.8" text-anchor="middle" transform="rotate(-90 696.6 316)" textLength="80" lengthAdjust="spacingAndGlyphs" stroke="#000" stroke-width="0.22">IMAGINARY LINE</text>
<text x="711.6" y="315.5" font-size="12.8" text-anchor="middle" transform="rotate(-90 711.6 315.5)" textLength="113" lengthAdjust="spacingAndGlyphs" stroke="#000" stroke-width="0.22">FOR FIRE SEPARATION</text>
<text x="696.6" y="1217.7" font-size="12.8" text-anchor="middle" transform="rotate(-90 696.6 1217.7)" textLength="79.5" lengthAdjust="spacingAndGlyphs" stroke="#000" stroke-width="0.22">IMAGINARY LINE</text>
<text x="711.6" y="1217.2" font-size="12.8" text-anchor="middle" transform="rotate(-90 711.6 1217.2)" textLength="113" lengthAdjust="spacingAndGlyphs" stroke="#000" stroke-width="0.22">FOR FIRE SEPARATION</text>
<line x1="381.8" y1="306.3" x2="411" y2="306.3" stroke="#000" stroke-width="1"/>
<line x1="381.8" y1="306.3" x2="381.8" y2="500.3" stroke="#333" stroke-width="1.1" stroke-dasharray="20 6"/>
<polygon points="430.4,276.8 459.9,306.3 430.4,335.8" fill="url(#hat)" stroke="#000" stroke-width="0.9"/>
<circle cx="430.4" cy="306.3" r="19.4" fill="#fff" stroke="#000" stroke-width="1"/>
<line x1="411" y1="306.3" x2="449.8" y2="306.3" stroke="#000" stroke-width="1"/>
<text x="430.4" y="300.6" font-size="10.2" text-anchor="middle" stroke="#000" stroke-width="0.22">B</text>
<text x="430.4" y="318.9" font-size="10.2" text-anchor="middle" stroke="#000" stroke-width="0.22">A-6</text>
<line x1="381.8" y1="994" x2="381.8" y2="1216.6" stroke="#333" stroke-width="1.1" stroke-dasharray="20 6"/>
<line x1="381.8" y1="1216.6" x2="411" y2="1216.6" stroke="#000" stroke-width="1"/>
<polygon points="430.2,1187.1 459.7,1216.6 430.2,1246.1" fill="url(#hat)" stroke="#000" stroke-width="0.9"/>
<circle cx="430.2" cy="1216.6" r="19.4" fill="#fff" stroke="#000" stroke-width="1"/>
<line x1="410.8" y1="1216.6" x2="449.6" y2="1216.6" stroke="#000" stroke-width="1"/>
<text x="430.2" y="1210.9" font-size="10.2" text-anchor="middle" stroke="#000" stroke-width="0.22">B</text>
<text x="430.2" y="1229.2" font-size="10.2" text-anchor="middle" stroke="#000" stroke-width="0.22">A-6</text>
<line x1="68" y1="720" x2="68" y2="749.7" stroke="#000" stroke-width="1"/>
<line x1="68" y1="749.7" x2="262.2" y2="749.7" stroke="#333" stroke-width="1.1" stroke-dasharray="20 6"/>
<polygon points="38.5,701.3 68,671.8 97.5,701.3" fill="url(#hatu)" stroke="#000" stroke-width="0.9"/>
<circle cx="68" cy="701.3" r="19.4" fill="#fff" stroke="#000" stroke-width="1"/>
<line x1="48.6" y1="701.3" x2="87.4" y2="701.3" stroke="#000" stroke-width="1"/>
<text x="68" y="695.6" font-size="10.2" text-anchor="middle" stroke="#000" stroke-width="0.22">A</text>
<text x="68" y="713.9" font-size="10.2" text-anchor="middle" stroke="#000" stroke-width="0.22">A-6</text>
<text x="496.8" y="416.5" font-size="12.8" text-anchor="middle" textLength="109" lengthAdjust="spacingAndGlyphs" stroke="#000" stroke-width="0.22">LN. OF WALL BELOW</text>
<text x="184" y="542" font-size="12.8" text-anchor="middle" transform="rotate(-90 184 542)" textLength="109" lengthAdjust="spacingAndGlyphs" stroke="#000" stroke-width="0.22">LN. OF WALL BELOW</text>
<text x="124" y="639" font-size="12.8" text-anchor="middle" transform="rotate(-90 124 639)" textLength="37" lengthAdjust="spacingAndGlyphs" stroke="#000" stroke-width="0.22">GUTTER</text>
<text x="221.5" y="971" font-size="12.8" text-anchor="middle" transform="rotate(-90 221.5 971)" textLength="37" lengthAdjust="spacingAndGlyphs" stroke="#000" stroke-width="0.22">GUTTER</text>
<text x="687.5" y="705.7" font-size="12.8" text-anchor="middle" transform="rotate(-90 687.5 705.7)" textLength="37" lengthAdjust="spacingAndGlyphs" stroke="#000" stroke-width="0.22">GUTTER</text>
<rect x="647.2" y="601.6" width="19.4" height="291" fill="none" stroke="#000" stroke-width="0.9"/>
<text x="660.5" y="747" font-size="12.8" text-anchor="middle" transform="rotate(-90 660.5 747)" textLength="280" lengthAdjust="spacingAndGlyphs" stroke="#000" stroke-width="0.22">NO EAVE OVERHANG IS PERMITTED ALONG THIS SIDE</text>
<rect x="671" y="428.5" width="6" height="6.5" fill="none" stroke="#000" stroke-width="0.8"/>
<text x="679.5" y="435.8" font-size="10.5" textLength="12" lengthAdjust="spacingAndGlyphs" stroke="#000" stroke-width="0.22">DS</text>
<rect x="671" y="908.2" width="6" height="6.5" fill="none" stroke="#000" stroke-width="0.8"/>
<text x="679.5" y="915.5" font-size="10.5" textLength="12" lengthAdjust="spacingAndGlyphs" stroke="#000" stroke-width="0.22">DS</text>
<polygon points="421.6,457 428.6,457 428.6,451.5 438.1,461.5 428.6,471.5 428.6,466 421.6,466" fill="none" stroke="#000" stroke-width="0.9"/>
<text x="426.3" y="479.5" font-size="8.5" text-anchor="middle" stroke="#000" stroke-width="0.22">±1:12</text>
<polygon points="421.6,1006.3 428.6,1006.3 428.6,1000.8 438.1,1010.8 428.6,1020.8 428.6,1015.3 421.6,1015.3" fill="none" stroke="#000" stroke-width="0.9"/>
<text x="426.3" y="1028.5" font-size="8.5" text-anchor="middle" stroke="#000" stroke-width="0.22">±1:12</text>
<polygon points="243,646 236,646 236,640.5 226.5,650.5 236,660.5 236,655 243,655" fill="none" stroke="#000" stroke-width="0.9"/>
<text x="235.5" y="669" font-size="8.5" text-anchor="middle" stroke="#000" stroke-width="0.22">4:12</text>
<polygon points="516.4,833.3 509.4,833.3 509.4,827.8 499.9,837.8 509.4,847.8 509.4,842.3 516.4,842.3" fill="none" stroke="#000" stroke-width="0.9"/>
<text x="509.3" y="856" font-size="8.5" text-anchor="middle" stroke="#000" stroke-width="0.22">4:12</text>
<text x="378.2" y="722.5" font-size="11.6" text-anchor="middle" stroke="#000" stroke-width="0.22">APPROX. AREA FOR</text>
<text x="378.2" y="736" font-size="11.6" text-anchor="middle" stroke="#000" stroke-width="0.22">2.62 kWdc SOLAR PV</text>
<text x="378.2" y="749.6" font-size="11.6" text-anchor="middle" stroke="#000" stroke-width="0.22">SYSTEM PER ENERGY</text>
<text x="378.2" y="763.1" font-size="11.6" text-anchor="middle" stroke="#000" stroke-width="0.22">CALCULATIONS</text>
<text x="378.2" y="776.7" font-size="11.6" text-anchor="middle" stroke="#000" stroke-width="0.22">(FINAL NUMBER OF</text>
<text x="378.2" y="790.2" font-size="11.6" text-anchor="middle" stroke="#000" stroke-width="0.22">PANELS TBD.);</text>
<text x="378.2" y="803.8" font-size="11.6" text-anchor="middle" stroke="#000" stroke-width="0.22">UNDER SEPARATE</text>
<text x="378.2" y="817.4" font-size="11.6" text-anchor="middle" stroke="#000" stroke-width="0.22">PERMIT</text>
<text x="548.7" y="1044" font-size="9.4" textLength="108.4" lengthAdjust="spacingAndGlyphs" stroke="#000" stroke-width="0.22">CLASS A &quot;CUSTOM-BILT&quot;</text>
<text x="548.7" y="1055" font-size="9.4" textLength="106.7" lengthAdjust="spacingAndGlyphs" stroke="#000" stroke-width="0.22">STANDING SEAM METAL</text>
<text x="548.7" y="1066" font-size="9.4" textLength="55.4" lengthAdjust="spacingAndGlyphs" stroke="#000" stroke-width="0.22">ROOFING BY</text>
<text x="548.7" y="1077" font-size="9.4" textLength="101.9" lengthAdjust="spacingAndGlyphs" stroke="#000" stroke-width="0.22">CUSTOM-BILT METALS.</text>
<text x="548.7" y="1088" font-size="9.4" textLength="106.1" lengthAdjust="spacingAndGlyphs" stroke="#000" stroke-width="0.22">ICC NUMBER: ESR-2048.</text>
<polyline points="478,903.9 522.5,1062.6 547,1062.6" fill="none" stroke="#000" stroke-width="0.9"/>
<polyline points="476,902 478,903.9 483,906" fill="none" stroke="#000" stroke-width="0.9"/>
<rect x="757.6" y="656" width="38.9" height="96.8" fill="url(#stip)" stroke="none" stroke-width="0"/>
<rect x="757.6" y="656" width="38.9" height="96.8" fill="url(#stip)" stroke="none" stroke-width="0"/>
<rect x="757.4" y="655.3" width="39.1" height="97.2" fill="none" stroke="#333" stroke-width="1"/>
<polyline points="796.5,657.9 760.1,657.9 760.1,750 796.5,750" fill="none" stroke="#7c7c7c" stroke-width="1.6"/>
<polygon points="796.7,372.5 1161.4,372.5 1161.4,458.5 960.5,938.2 796.7,938.2" fill="url(#stip)" stroke="none" stroke-width="0"/>
<polygon points="796.7,372.5 1161.4,372.5 1161.4,458.5 960.5,938.2 796.7,938.2" fill="none" stroke="#222" stroke-width="1.1"/>
<polyline points="1161.4,382.7 1167.4,382.7 1167.4,457 966.2,938.2 960.5,938.2" fill="none" stroke="#222" stroke-width="1.1"/>
<polyline points="805.8,928.6 805.8,382.7 1151.7,382.7 1151.7,454.3 953,928.6 805.8,928.6" fill="none" stroke="#6e6e6e" stroke-width="1.6" stroke-dasharray="13 6"/>
<line x1="932" y1="310.4" x2="960.2" y2="310.4" stroke="#000" stroke-width="1"/>
<line x1="932" y1="310.4" x2="932" y2="504" stroke="#333" stroke-width="1.1" stroke-dasharray="20 6"/>
<polygon points="979.4,280.9 1008.9,310.4 979.4,339.9" fill="url(#hat)" stroke="#000" stroke-width="0.9"/>
<circle cx="979.4" cy="310.4" r="19.4" fill="#fff" stroke="#000" stroke-width="1"/>
<line x1="960" y1="310.4" x2="998.8" y2="310.4" stroke="#000" stroke-width="1"/>
<text x="979.4" y="304.7" font-size="10.2" text-anchor="middle" stroke="#000" stroke-width="0.22">C</text>
<text x="979.4" y="323" font-size="10.2" text-anchor="middle" stroke="#000" stroke-width="0.22">A-6</text>
<line x1="1121.7" y1="720" x2="1121.7" y2="749.4" stroke="#000" stroke-width="1"/>
<line x1="927.9" y1="749.4" x2="1121.7" y2="749.4" stroke="#333" stroke-width="1.1" stroke-dasharray="20 6"/>
<polygon points="1092.2,701.6 1121.7,672.1 1151.2,701.6" fill="url(#hatu)" stroke="#000" stroke-width="0.9"/>
<circle cx="1121.7" cy="701.6" r="19.4" fill="#fff" stroke="#000" stroke-width="1"/>
<line x1="1102.3" y1="701.6" x2="1141.1" y2="701.6" stroke="#000" stroke-width="1"/>
<text x="1121.7" y="695.9" font-size="10.2" text-anchor="middle" stroke="#000" stroke-width="0.22">A</text>
<text x="1121.7" y="714.2" font-size="10.2" text-anchor="middle" stroke="#000" stroke-width="0.22">A-6</text>
<rect x="1161.6" y="382.9" width="6" height="6.5" fill="none" stroke="#000" stroke-width="0.8"/>
<text x="1170.6" y="390.2" font-size="10.5" textLength="12" lengthAdjust="spacingAndGlyphs" stroke="#000" stroke-width="0.22">DS</text>
<text x="1178.8" y="414.4" font-size="12.8" text-anchor="middle" transform="rotate(-90 1178.8 414.4)" textLength="37" lengthAdjust="spacingAndGlyphs" stroke="#000" stroke-width="0.22">GUTTER</text>
<text x="1074" y="709" font-size="12.8" text-anchor="middle" transform="rotate(-66.5 1074 709)" textLength="37" lengthAdjust="spacingAndGlyphs" stroke="#000" stroke-width="0.22">GUTTER</text>
<rect x="1008.5" y="816" width="6" height="6.5" fill="none" stroke="#000" stroke-width="0.8" transform="rotate(22 1008.5 816)"/>
<text x="1015.5" y="829.3" font-size="10.5" textLength="12" lengthAdjust="spacingAndGlyphs" stroke="#000" stroke-width="0.22">DS</text>
<polygon points="932,578.5 939,578.5 939,573 948.5,583 939,593 939,587.5 932,587.5" fill="none" stroke="#000" stroke-width="0.9"/>
<text x="940" y="600.5" font-size="8.5" text-anchor="middle" stroke="#000" stroke-width="0.22">¼:12</text>
<rect x="837" y="612" width="216.3" height="31.1" fill="#fff" stroke="#000" stroke-width="0.9"/>
<text x="945.3" y="624.6" font-size="11.5" text-anchor="middle" textLength="182" lengthAdjust="spacingAndGlyphs" stroke="#000" stroke-width="0.22">NO SOLAR REQUIRED FOR BOTH</text>
<text x="945.3" y="638.6" font-size="11.5" text-anchor="middle" textLength="201" lengthAdjust="spacingAndGlyphs" stroke="#000" stroke-width="0.22">ADU&#x27;s, PER ENERGY CALCULATIONS</text>
<text x="818.5" y="625.5" font-size="12.8" text-anchor="middle" transform="rotate(-90 818.5 625.5)" textLength="109" lengthAdjust="spacingAndGlyphs" stroke="#000" stroke-width="0.22">LN. OF WALL BELOW</text>
<text x="1092.5" y="581.5" font-size="12.8" text-anchor="middle" transform="rotate(-66.5 1092.5 581.5)" textLength="109" lengthAdjust="spacingAndGlyphs" stroke="#000" stroke-width="0.22">LN. OF WALL BELOW</text>
<text x="880.6" y="925" font-size="12.8" text-anchor="middle" textLength="109" lengthAdjust="spacingAndGlyphs" stroke="#000" stroke-width="0.22">LN. OF WALL BELOW</text>
<line x1="789" y1="614.5" x2="816" y2="614.5" stroke="#555" stroke-width="0.8"/>
<line x1="792.7" y1="618.5" x2="800.7" y2="610.5" stroke="#000" stroke-width="2" stroke-linecap="butt"/>
<line x1="801.8" y1="618.5" x2="809.8" y2="610.5" stroke="#000" stroke-width="2" stroke-linecap="butt"/>
<text x="801" y="611" font-size="8.5" text-anchor="middle" stroke="#000" stroke-width="0.22">6&quot;</text>
<line x1="876.5" y1="921" x2="876.5" y2="946" stroke="#555" stroke-width="0.8"/>
<line x1="872.5" y1="924.6" x2="880.5" y2="932.6" stroke="#000" stroke-width="2" stroke-linecap="butt"/>
<line x1="872.5" y1="934.2" x2="880.5" y2="942.2" stroke="#000" stroke-width="2" stroke-linecap="butt"/>
<text x="873.5" y="934" font-size="8.5" text-anchor="middle" transform="rotate(-90 873.5 934)" stroke="#000" stroke-width="0.22">6&quot;</text>
<line x1="1097" y1="575.5" x2="1117" y2="583.5" stroke="#555" stroke-width="0.8"/>
<line x1="1098" y1="581.5" x2="1106" y2="573.5" stroke="#000" stroke-width="2" stroke-linecap="butt"/>
<line x1="1106.5" y1="585" x2="1114.5" y2="577" stroke="#000" stroke-width="2" stroke-linecap="butt"/>
<text x="1106" y="575" font-size="8" text-anchor="middle" transform="rotate(22 1106 575)" stroke="#000" stroke-width="0.22">6&quot;</text>
<rect x="81.4" y="1295.6" width="275" height="101" fill="none" stroke="#000" stroke-width="1"/>
<text x="85.5" y="1310.6" font-size="14.4" textLength="233.6" lengthAdjust="spacingAndGlyphs" stroke="#000" stroke-width="0.22">ALL STORM WATER RUNOFF FROM</text>
<text x="85.5" y="1327" font-size="14.4" textLength="209" lengthAdjust="spacingAndGlyphs" stroke="#000" stroke-width="0.22">PROPOSED AND/OR REPLACED</text>
<text x="85.5" y="1343.4" font-size="14.4" textLength="263.2" lengthAdjust="spacingAndGlyphs" stroke="#000" stroke-width="0.22">IMPERVIOUS AREAS SHALL BE ROUTED</text>
<text x="85.5" y="1359.8" font-size="14.4" textLength="193.3" lengthAdjust="spacingAndGlyphs" stroke="#000" stroke-width="0.22">TO PERVIOUS SURFACES OR</text>
<text x="85.5" y="1376.2" font-size="14.4" textLength="241" lengthAdjust="spacingAndGlyphs" stroke="#000" stroke-width="0.22">LANDSCAPING PRIOR TO REACHING</text>
<text x="85.5" y="1392.6" font-size="14.4" textLength="241" lengthAdjust="spacingAndGlyphs" stroke="#000" stroke-width="0.22">THE PUBLIC STORM DRAIN SYSTEM.</text>
<rect x="51.2" y="1460.2" width="431.5" height="31" fill="none" stroke="#000" stroke-width="0.9"/>
<text x="54.9" y="1472.8" font-size="11" textLength="402" lengthAdjust="spacingAndGlyphs" stroke="#000" stroke-width="0.22">SAFETY GLAZING IN RAILING IN-FILL PANELS SHALL BE OF AN APPROVED SAFETY</text>
<text x="54.9" y="1486.4" font-size="11" textLength="420.3" lengthAdjust="spacingAndGlyphs" stroke="#000" stroke-width="0.22">GLAZING MATERIAL CONFORMING TO IMPACT TEST REQUIREMENTS OF CBC 2406.1.1</text>
<rect x="51.2" y="1499.4" width="424.4" height="20.6" fill="none" stroke="#000" stroke-width="0.9"/>
<text x="54.9" y="1511.8" font-size="11" textLength="407" lengthAdjust="spacingAndGlyphs" stroke="#000" stroke-width="0.22">GLASS USED IN HANDRAIL, GUARDRAIL OR GUARD SECTION SHALL COMPLY WITH</text>
<rect x="1407.5" y="416.6" width="26.1" height="25.3" fill="none" stroke="#c4c4c4" stroke-width="1"/>
<rect x="1543.4" y="416.6" width="24.5" height="25.3" fill="none" stroke="#c4c4c4" stroke-width="1"/>
<rect x="1438.5" y="416.6" width="99.5" height="3" fill="none" stroke="#c4c4c4" stroke-width="1"/>
<line x1="1440.4" y1="419.6" x2="1440.4" y2="546" stroke="#c4c4c4" stroke-width="1"/>
<line x1="1444" y1="419.6" x2="1444" y2="546" stroke="#c4c4c4" stroke-width="1"/>
<line x1="1536.1" y1="419.6" x2="1536.1" y2="546" stroke="#c4c4c4" stroke-width="1"/>
<line x1="1532.5" y1="419.6" x2="1532.5" y2="546" stroke="#c4c4c4" stroke-width="1"/>
<rect x="1446.9" y="427.8" width="37.4" height="25.3" fill="none" stroke="#c4c4c4" stroke-width="1"/>
<rect x="1491.3" y="427.8" width="38.6" height="25.3" fill="none" stroke="#c4c4c4" stroke-width="1"/>
<line x1="1444" y1="457.5" x2="1532.5" y2="457.5" stroke="#c4c4c4" stroke-width="1"/>
<line x1="1444" y1="462" x2="1532.5" y2="462" stroke="#c4c4c4" stroke-width="1"/>
<line x1="1444" y1="488" x2="1536" y2="465" stroke="#c4c4c4" stroke-width="1"/>
<line x1="1444" y1="497" x2="1536" y2="474" stroke="#c4c4c4" stroke-width="1"/>
<rect x="1438.5" y="542.6" width="99.5" height="3.4" fill="none" stroke="#c4c4c4" stroke-width="1"/>
<text x="1487.1" y="542" font-size="11" text-anchor="middle" textLength="34" lengthAdjust="spacingAndGlyphs" fill="#bdbdbd" stroke="#bdbdbd" stroke-width="0.22">QUEEN</text>
<rect x="1406.6" y="644.9" width="26.2" height="25.4" fill="none" stroke="#c4c4c4" stroke-width="1"/>
<rect x="1567.9" y="644.9" width="26.1" height="25.4" fill="none" stroke="#c4c4c4" stroke-width="1"/>
<rect x="1433.5" y="646.3" width="133" height="3.2" fill="none" stroke="#c4c4c4" stroke-width="1"/>
<line x1="1437" y1="649.5" x2="1437" y2="780" stroke="#c4c4c4" stroke-width="1"/>
<line x1="1440.5" y1="649.5" x2="1440.5" y2="780" stroke="#c4c4c4" stroke-width="1"/>
<line x1="1563.1" y1="649.5" x2="1563.1" y2="780" stroke="#c4c4c4" stroke-width="1"/>
<line x1="1559.6" y1="649.5" x2="1559.6" y2="780" stroke="#c4c4c4" stroke-width="1"/>
<rect x="1449.7" y="656.2" width="39.4" height="25.3" fill="none" stroke="#c4c4c4" stroke-width="1"/>
<rect x="1511" y="656.2" width="39.4" height="25.3" fill="none" stroke="#c4c4c4" stroke-width="1"/>
<line x1="1440.5" y1="687.5" x2="1559.6" y2="687.5" stroke="#c4c4c4" stroke-width="1"/>
<line x1="1440.5" y1="692" x2="1559.6" y2="692" stroke="#c4c4c4" stroke-width="1"/>
<line x1="1437" y1="723.7" x2="1563.1" y2="694.2" stroke="#c4c4c4" stroke-width="1"/>
<line x1="1437" y1="733.6" x2="1563.1" y2="704" stroke="#c4c4c4" stroke-width="1"/>
<rect x="1433.5" y="778.6" width="133" height="4.2" fill="none" stroke="#c4c4c4" stroke-width="1"/>
<text x="1519" y="706.9" font-size="11" text-anchor="middle" transform="rotate(-90 1519 706.9)" textLength="24" lengthAdjust="spacingAndGlyphs" fill="#c9c9c9" stroke="#c9c9c9" stroke-width="0.22">KING</text>
<polyline points="1521.4,938 1521.4,1030.5 1629.9,1030.5 1629.9,964.8" fill="none" stroke="#d0d0d0" stroke-width="1"/>
<line x1="1380" y1="909.4" x2="1473.6" y2="909.4" stroke="#d4d4d4" stroke-width="1"/>
<line x1="1380" y1="926.7" x2="1473.6" y2="926.7" stroke="#d4d4d4" stroke-width="1"/>
<line x1="1380" y1="949.9" x2="1473.6" y2="949.9" stroke="#d4d4d4" stroke-width="1"/>
<line x1="1380" y1="989.5" x2="1473.6" y2="989.5" stroke="#d4d4d4" stroke-width="1"/>
<line x1="1380" y1="1030" x2="1473.6" y2="1030" stroke="#d4d4d4" stroke-width="1"/>
<line x1="1420.6" y1="878.4" x2="1420.6" y2="1056.3" stroke="#d4d4d4" stroke-width="1"/>
<line x1="1460.2" y1="878.4" x2="1460.2" y2="1056.3" stroke="#d4d4d4" stroke-width="1"/>
<rect x="1415" y="878.4" width="58.6" height="48.4" fill="none" stroke="#bbb" stroke-width="1" stroke-dasharray="7 4"/>
<rect x="1482.6" y="878.4" width="58" height="48.4" fill="none" stroke="#bbb" stroke-width="1" stroke-dasharray="7 4"/>
<polygon points="1376.5,404.5 1601.1,404.5 1601.1,413.7 1376.5,413.7" fill="#c2c2c2" stroke="#111" stroke-width="1.3" stroke-linejoin="miter"/>
<polygon points="1698.2,404.5 1739.6,404.5 1739.6,413.7 1698.2,413.7" fill="#c2c2c2" stroke="#111" stroke-width="1.3" stroke-linejoin="miter"/>
<polygon points="1836.7,404.5 1868.2,404.5 1868.2,413.7 1836.7,413.7" fill="#c2c2c2" stroke="#111" stroke-width="1.3" stroke-linejoin="miter"/>
<polygon points="1376.5,404.5 1385.8,404.5 1385.8,448.9 1376.5,448.9" fill="#c2c2c2" stroke="#111" stroke-width="1.3" stroke-linejoin="miter"/>
<polygon points="1376.5,546.4 1385.8,546.4 1385.8,674.5 1376.5,674.5" fill="#c2c2c2" stroke="#111" stroke-width="1.3" stroke-linejoin="miter"/>
<polygon points="1376.5,830.7 1385.8,830.7 1385.8,864.9 1396.2,864.9 1396.2,873.3 1376.5,873.3" fill="#c2c2c2" stroke="#111" stroke-width="1.3" stroke-linejoin="miter"/>
<polygon points="1454.5,864.9 1482.6,864.9 1482.6,878.4 1473.6,878.4 1473.6,873.3 1454.5,873.3" fill="#c2c2c2" stroke="#111" stroke-width="1.3" stroke-linejoin="miter"/>
<polygon points="1590.4,405.5 1596.9,405.5 1596.9,517.9 1590.4,517.9" fill="#c2c2c2" stroke="#111" stroke-width="1.3" stroke-linejoin="miter"/>
<polygon points="1702.4,405.5 1708.6,405.5 1708.6,578.2 1702.4,578.2" fill="#c2c2c2" stroke="#111" stroke-width="1.3" stroke-linejoin="miter"/>
<polygon points="1590.4,571.8 1708.6,571.8 1708.6,578.2 1590.4,578.2" fill="#c2c2c2" stroke="#111" stroke-width="1.3" stroke-linejoin="miter"/>
<polygon points="1699.6,630.3 1708.6,630.3 1708.6,646.3 1699.6,646.3" fill="#c2c2c2" stroke="#111" stroke-width="1.3" stroke-linejoin="miter"/>
<polygon points="1517.2,597 1522.3,597 1522.3,641 1517.2,641" fill="#c2c2c2" stroke="#111" stroke-width="1" stroke-linejoin="miter"/>
<polygon points="1377.5,636.5 1609.2,636.5 1609.2,642.1 1377.5,642.1" fill="#c2c2c2" stroke="#111" stroke-width="1" stroke-linejoin="miter"/>
<polygon points="1668.3,636.5 1707.5,636.5 1707.5,642.1 1668.3,642.1" fill="#c2c2c2" stroke="#111" stroke-width="1" stroke-linejoin="miter"/>
<polygon points="1672,806.8 1868.2,806.8 1868.2,817.5 1672,817.5" fill="#c2c2c2" stroke="#111" stroke-width="1.3" stroke-linejoin="miter"/>
<polygon points="1672,807.8 1677.6,807.8 1677.6,868.3 1672,868.3" fill="#c2c2c2" stroke="#111" stroke-width="1.3" stroke-linejoin="miter"/>
<polygon points="1473.6,926.8 1482.6,926.8 1482.6,931.6 1551,931.6 1551,938 1482.6,938 1482.6,1066.7 1668.3,1066.7 1668.3,938 1599.4,938 1599.4,931.6 1668.3,931.6 1668.3,922.6 1677.6,922.6 1677.6,1076 1473.6,1076" fill="#c2c2c2" stroke="#111" stroke-width="1.3" stroke-linejoin="miter"/>
<polygon points="1669.3,1009.3 1724.6,1009.3 1724.6,1018.3 1669.3,1018.3" fill="#c2c2c2" stroke="#111" stroke-width="1.3" stroke-linejoin="miter"/>
<polygon points="1774.2,933.8 1780.4,933.8 1780.4,1018.3 1774.2,1018.3" fill="#c2c2c2" stroke="#111" stroke-width="1.3" stroke-linejoin="miter"/>
<polygon points="1774.2,1009.3 1784.6,1009.3 1784.6,1018.3 1774.2,1018.3" fill="#c2c2c2" stroke="#111" stroke-width="1.3" stroke-linejoin="miter"/>
<polygon points="1377.2,405.2 1600.4,405.2 1600.4,413 1377.2,413" fill="#c2c2c2" stroke="none" transform="translate(0,0)" style="paint-order:stroke"/>
<polygon points="1698.9,405.2 1738.9,405.2 1738.9,413 1698.9,413" fill="#c2c2c2" stroke="none" transform="translate(0,0)" style="paint-order:stroke"/>
<polygon points="1837.4,405.2 1867.5,405.2 1867.5,413 1837.4,413" fill="#c2c2c2" stroke="none" transform="translate(0,0)" style="paint-order:stroke"/>
<polygon points="1377.2,405.2 1385.1,405.2 1385.1,448.2 1377.2,448.2" fill="#c2c2c2" stroke="none" transform="translate(0,0)" style="paint-order:stroke"/>
<polygon points="1377.2,547.1 1385.1,547.1 1385.1,673.8 1377.2,673.8" fill="#c2c2c2" stroke="none" transform="translate(0,0)" style="paint-order:stroke"/>
<polygon points="1377.2,831.4 1385.1,831.4 1385.1,865.6 1395.5,865.6 1395.5,872.6 1377.2,872.6" fill="#c2c2c2" stroke="none" transform="translate(0,0)" style="paint-order:stroke"/>
<polygon points="1455.2,865.6 1481.9,865.6 1481.9,877.7 1474.3,877.7 1474.3,872.6 1455.2,872.6" fill="#c2c2c2" stroke="none" transform="translate(0,0)" style="paint-order:stroke"/>
<polygon points="1591.1,406.2 1596.2,406.2 1596.2,517.2 1591.1,517.2" fill="#c2c2c2" stroke="none" transform="translate(0,0)" style="paint-order:stroke"/>
<polygon points="1703.1,406.2 1707.9,406.2 1707.9,577.5 1703.1,577.5" fill="#c2c2c2" stroke="none" transform="translate(0,0)" style="paint-order:stroke"/>
<polygon points="1591.1,572.5 1707.9,572.5 1707.9,577.5 1591.1,577.5" fill="#c2c2c2" stroke="none" transform="translate(0,0)" style="paint-order:stroke"/>
<polygon points="1700.3,631 1707.9,631 1707.9,645.6 1700.3,645.6" fill="#c2c2c2" stroke="none" transform="translate(0,0)" style="paint-order:stroke"/>
<polygon points="1517.8,597.5 1521.8,597.5 1521.8,640.5 1517.8,640.5" fill="#c2c2c2" stroke="none" transform="translate(0,0)" style="paint-order:stroke"/>
<polygon points="1378,637 1608.7,637 1608.7,641.6 1378,641.6" fill="#c2c2c2" stroke="none" transform="translate(0,0)" style="paint-order:stroke"/>
<polygon points="1668.8,637 1707,637 1707,641.6 1668.8,641.6" fill="#c2c2c2" stroke="none" transform="translate(0,0)" style="paint-order:stroke"/>
<polygon points="1672.7,807.5 1867.5,807.5 1867.5,816.8 1672.7,816.8" fill="#c2c2c2" stroke="none" transform="translate(0,0)" style="paint-order:stroke"/>
<polygon points="1672.7,808.5 1676.9,808.5 1676.9,867.6 1672.7,867.6" fill="#c2c2c2" stroke="none" transform="translate(0,0)" style="paint-order:stroke"/>
<polygon points="1474.3,927.5 1481.9,927.5 1481.9,932.3 1550.3,932.3 1550.3,937.3 1481.9,937.3 1481.9,1067.4 1669,1067.4 1669,937.3 1600.1,937.3 1600.1,932.3 1669,932.3 1669,923.3 1676.9,923.3 1676.9,1075.3 1474.3,1075.3" fill="#c2c2c2" stroke="none" transform="translate(0,0)" style="paint-order:stroke"/>
<polygon points="1670,1010 1723.9,1010 1723.9,1017.6 1670,1017.6" fill="#c2c2c2" stroke="none" transform="translate(0,0)" style="paint-order:stroke"/>
<polygon points="1774.9,934.5 1779.7,934.5 1779.7,1017.6 1774.9,1017.6" fill="#c2c2c2" stroke="none" transform="translate(0,0)" style="paint-order:stroke"/>
<polygon points="1774.9,1010 1783.9,1010 1783.9,1017.6 1774.9,1017.6" fill="#c2c2c2" stroke="none" transform="translate(0,0)" style="paint-order:stroke"/>
<rect x="1868.2" y="404.5" width="7.8" height="613.8" fill="url(#firev)" stroke="none" stroke-width="0"/>
<line x1="1868.2" y1="413.7" x2="1868.2" y2="1009.3" stroke="#444" stroke-width="0.9"/>
<line x1="1876" y1="404.5" x2="1876" y2="1018.3" stroke="#888" stroke-width="0.8"/>
<rect x="1601.1" y="404.5" width="97.1" height="9.2" fill="#fff" stroke="none" stroke-width="0"/>
<line x1="1601.1" y1="404.5" x2="1698.2" y2="404.5" stroke="#000" stroke-width="1.1"/>
<line x1="1601.1" y1="413.7" x2="1698.2" y2="413.7" stroke="#000" stroke-width="1.1"/>
<line x1="1602.1" y1="408.6" x2="1697.2" y2="408.6" stroke="#777" stroke-width="1.8"/>
<line x1="1602.1" y1="404.5" x2="1602.1" y2="413.7" stroke="#444" stroke-width="1.2"/>
<line x1="1697.2" y1="404.5" x2="1697.2" y2="413.7" stroke="#444" stroke-width="1.2"/>
<rect x="1739.6" y="404.5" width="97.1" height="9.2" fill="#fff" stroke="none" stroke-width="0"/>
<line x1="1739.6" y1="404.5" x2="1836.7" y2="404.5" stroke="#000" stroke-width="1.1"/>
<line x1="1739.6" y1="413.7" x2="1836.7" y2="413.7" stroke="#000" stroke-width="1.1"/>
<line x1="1740.6" y1="408.6" x2="1835.7" y2="408.6" stroke="#777" stroke-width="1.8"/>
<line x1="1740.6" y1="404.5" x2="1740.6" y2="413.7" stroke="#444" stroke-width="1.2"/>
<line x1="1835.7" y1="404.5" x2="1835.7" y2="413.7" stroke="#444" stroke-width="1.2"/>
<rect x="1376.5" y="448.9" width="9.3" height="97.5" fill="#fff" stroke="none" stroke-width="0"/>
<line x1="1376.5" y1="448.9" x2="1376.5" y2="546.4" stroke="#000" stroke-width="1.1"/>
<line x1="1385.8" y1="448.9" x2="1385.8" y2="546.4" stroke="#000" stroke-width="1.1"/>
<line x1="1380.7" y1="449.9" x2="1380.7" y2="545.4" stroke="#777" stroke-width="1.8"/>
<line x1="1376.5" y1="449.9" x2="1385.8" y2="449.9" stroke="#444" stroke-width="1.2"/>
<line x1="1376.5" y1="545.4" x2="1385.8" y2="545.4" stroke="#444" stroke-width="1.2"/>
<rect x="1396.2" y="864.9" width="58.3" height="8.4" fill="#fff" stroke="none" stroke-width="0"/>
<line x1="1396.2" y1="864.9" x2="1454.5" y2="864.9" stroke="#000" stroke-width="1.1"/>
<line x1="1396.2" y1="873.3" x2="1454.5" y2="873.3" stroke="#000" stroke-width="1.1"/>
<line x1="1397.2" y1="868.7" x2="1453.5" y2="868.7" stroke="#777" stroke-width="1.8"/>
<line x1="1397.2" y1="864.9" x2="1397.2" y2="873.3" stroke="#444" stroke-width="1.2"/>
<line x1="1453.5" y1="864.9" x2="1453.5" y2="873.3" stroke="#444" stroke-width="1.2"/>
<rect x="1724.6" y="1009.3" width="49.6" height="9" fill="#fff" stroke="none" stroke-width="0"/>
<line x1="1724.6" y1="1009.3" x2="1774.2" y2="1009.3" stroke="#000" stroke-width="1.1"/>
<line x1="1724.6" y1="1018.3" x2="1774.2" y2="1018.3" stroke="#000" stroke-width="1.1"/>
<line x1="1725.6" y1="1013.3" x2="1773.2" y2="1013.3" stroke="#777" stroke-width="1.8"/>
<line x1="1725.6" y1="1009.3" x2="1725.6" y2="1018.3" stroke="#444" stroke-width="1.2"/>
<line x1="1773.2" y1="1009.3" x2="1773.2" y2="1018.3" stroke="#444" stroke-width="1.2"/>
<rect x="1784.6" y="1009.3" width="77.9" height="9" fill="#fff" stroke="none" stroke-width="0"/>
<line x1="1784.6" y1="1009.3" x2="1862.5" y2="1009.3" stroke="#000" stroke-width="1.1"/>
<line x1="1784.6" y1="1018.3" x2="1862.5" y2="1018.3" stroke="#000" stroke-width="1.1"/>
<line x1="1785.6" y1="1013.3" x2="1861.5" y2="1013.3" stroke="#777" stroke-width="1.8"/>
<line x1="1785.6" y1="1009.3" x2="1785.6" y2="1018.3" stroke="#444" stroke-width="1.2"/>
<line x1="1861.5" y1="1009.3" x2="1861.5" y2="1018.3" stroke="#444" stroke-width="1.2"/>
<rect x="1862.5" y="1009.3" width="5.7" height="9" fill="#fff" stroke="#000" stroke-width="1"/>
<line x1="1376.5" y1="674.5" x2="1376.5" y2="830.7" stroke="#000" stroke-width="1"/>
<line x1="1385.8" y1="674.5" x2="1385.8" y2="830.7" stroke="#000" stroke-width="1" stroke-dasharray="8 4"/>
<line x1="1379.9" y1="674.5" x2="1379.9" y2="830.7" stroke="#000" stroke-width="0.8" stroke-dasharray="8 4"/>
<line x1="1382.7" y1="720" x2="1382.7" y2="830.7" stroke="#000" stroke-width="0.8"/>
<line x1="1380.7" y1="690" x2="1380.7" y2="800" stroke="#000" stroke-width="0.8"/>
<polyline points="1376.5,672.2 1367.2,672.2 1367.2,834.9 1376.5,834.9" fill="none" stroke="#000" stroke-width="0.9"/>
<polyline points="1376.5,674.6 1369.5,674.6 1369.5,832.5 1376.5,832.5" fill="none" stroke="#000" stroke-width="0.9"/>
<polyline points="1376.5,677 1371.7,677 1371.7,830.2 1376.5,830.2" fill="none" stroke="#000" stroke-width="0.9"/>
<line x1="1702.4" y1="646.3" x2="1702.4" y2="806.8" stroke="#000" stroke-width="1"/>
<line x1="1708.6" y1="646.3" x2="1708.6" y2="806.8" stroke="#000" stroke-width="1"/>
<line x1="1705.5" y1="646.3" x2="1705.5" y2="806.8" stroke="#000" stroke-width="0.7"/>
<line x1="1385.8" y1="598" x2="1517.2" y2="598" stroke="#000" stroke-width="1"/>
<line x1="1385.8" y1="600.2" x2="1517.2" y2="600.2" stroke="#000" stroke-width="0.8"/>
<rect x="1673.4" y="642.1" width="29" height="164.7" fill="none" stroke="#000" stroke-width="1"/>
<rect x="1620" y="938" width="48.3" height="24" fill="#fff" stroke="none" stroke-width="0"/>
<polygon points="1617.1,938 1617.1,964.8 1668.3,964.8 1668.3,962 1620,962 1620,938" fill="#c2c2c2" stroke="#000" stroke-width="0.9"/>
<line x1="1620" y1="938" x2="1668.3" y2="962" stroke="#000" stroke-width="0.9"/>
<line x1="1620" y1="962" x2="1668.3" y2="938" stroke="#000" stroke-width="0.9"/>
<text x="1643" y="952.1" font-size="12.8" text-anchor="middle" textLength="35" lengthAdjust="spacingAndGlyphs" stroke="#000" stroke-width="0.22">CHASE</text>
<polyline points="1501.6,938 1501.6,1050.7 1650.6,1050.7 1650.6,964.8" fill="none" stroke="#000" stroke-width="0.9"/>
<polyline points="1499.3,938 1499.3,1053 1652.5,1053 1652.5,964.8" fill="none" stroke="#000" stroke-width="0.9" stroke-dasharray="9 4"/>
<line x1="1876" y1="221.5" x2="1876" y2="398" stroke="#000" stroke-width="2.2"/>
<line x1="1876" y1="1023.9" x2="1876" y2="1164.6" stroke="#000" stroke-width="2.2"/>
<path d="M1591,581 A49,49 0 0 0 1542,630" fill="none" stroke="#000" stroke-width="0.9" />
<rect x="1542" y="628.9" width="49" height="2.5" fill="none" stroke="#000" stroke-width="0.8"/>
<text x="1565.9" y="627.3" font-size="12.8" text-anchor="middle" textLength="22" lengthAdjust="spacingAndGlyphs" stroke="#000" stroke-width="0.22">2680</text>
<path d="M1596,518 A48.7,48.7 0 0 1 1644.7,566.7" fill="none" stroke="#000" stroke-width="0.9" />
<rect x="1596.9" y="564.7" width="47.8" height="2.8" fill="none" stroke="#000" stroke-width="0.8"/>
<text x="1619.1" y="564" font-size="12.8" text-anchor="middle" textLength="22" lengthAdjust="spacingAndGlyphs" stroke="#000" stroke-width="0.22">2680</text>
<path d="M1609.2,641.6 A59.1,59.1 0 0 0 1668.3,700.7" fill="none" stroke="#000" stroke-width="0.9" />
<rect x="1665.5" y="641.6" width="2.8" height="58.6" fill="none" stroke="#000" stroke-width="0.8"/>
<text x="1663.7" y="666" font-size="12.8" text-anchor="middle" transform="rotate(-90 1663.7 666)" textLength="22" lengthAdjust="spacingAndGlyphs" stroke="#000" stroke-width="0.22">3080</text>
<line x1="1596.9" y1="578.2" x2="1596.9" y2="636.5" stroke="#000" stroke-width="0.9" stroke-dasharray="9 4"/>
<line x1="1699.6" y1="578.2" x2="1699.6" y2="636.5" stroke="#000" stroke-width="0.9" stroke-dasharray="9 4"/>
<line x1="1699.6" y1="578.2" x2="1699.6" y2="630.3" stroke="#000" stroke-width="0.6"/>
<line x1="1609.2" y1="641.6" x2="1668.3" y2="641.6" stroke="#000" stroke-width="0.9" stroke-dasharray="9 4"/>
<path d="M1425.2,878.4 A48.4,48.4 0 0 0 1473.6,926.8" fill="none" stroke="#000" stroke-width="0.9" />
<path d="M1551,938 A48.4,48.4 0 0 0 1599.4,986.4" fill="none" stroke="#000" stroke-width="0.9" />
<rect x="1596.9" y="938" width="2.5" height="47.5" fill="none" stroke="#000" stroke-width="0.8"/>
<text x="1595" y="957.8" font-size="12.8" text-anchor="middle" transform="rotate(-90 1595 957.8)" textLength="22" lengthAdjust="spacingAndGlyphs" stroke="#000" stroke-width="0.22">2680</text>
<line x1="1551" y1="934.8" x2="1599.4" y2="934.8" stroke="#000" stroke-width="0.9" stroke-dasharray="9 4"/>
<path d="M1672,868.3 A57.5,54.3 0 0 1 1732,922.6" fill="none" stroke="#000" stroke-width="0.9" />
<rect x="1677.6" y="920.6" width="54.4" height="2.5" fill="none" stroke="#000" stroke-width="0.8"/>
<text x="1700.2" y="919.6" font-size="12.8" text-anchor="middle" textLength="27" lengthAdjust="spacingAndGlyphs" stroke="#000" stroke-width="0.22">21080</text>
<line x1="1672" y1="868.3" x2="1672" y2="922.6" stroke="#999" stroke-width="0.9" stroke-dasharray="6 3"/>
<rect x="1674.8" y="946.3" width="74.6" height="3.2" fill="#111" stroke="none" stroke-width="0"/>
<line x1="1749.4" y1="946.8" x2="1774.2" y2="946.8" stroke="#000" stroke-width="0.8" stroke-dasharray="6 3"/>
<line x1="1749.4" y1="949.2" x2="1774.2" y2="949.2" stroke="#000" stroke-width="0.8" stroke-dasharray="6 3"/>
<line x1="1700" y1="947.9" x2="1749" y2="947.9" stroke="#fff" stroke-width="0.8" stroke-dasharray="10 30"/>
<text x="1745.8" y="942.6" font-size="12.8" text-anchor="middle" textLength="42" lengthAdjust="spacingAndGlyphs" stroke="#000" stroke-width="0.22">2680 PKT.</text>
<rect x="1596.9" y="413.7" width="105.5" height="57.7" fill="none" stroke="#000" stroke-width="1"/>
<rect x="1599.7" y="416.6" width="99.9" height="52" fill="none" stroke="#000" stroke-width="0.9" rx="3"/>
<line x1="1600.5" y1="417.4" x2="1674.9" y2="441.6" stroke="#000" stroke-width="0.9"/>
<line x1="1698.8" y1="417.4" x2="1674.9" y2="441.6" stroke="#000" stroke-width="0.9"/>
<line x1="1600.5" y1="467.8" x2="1674.9" y2="441.6" stroke="#000" stroke-width="0.9"/>
<line x1="1698.8" y1="467.8" x2="1674.9" y2="441.6" stroke="#000" stroke-width="0.9"/>
<circle cx="1674.9" cy="441.6" r="1.4" fill="#fff" stroke="#000" stroke-width="0.8"/>
<circle cx="1621.4" cy="440" r="24" fill="none" stroke="#000" stroke-width="0.9" stroke-dasharray="8 4"/>
<line x1="1602" y1="449.5" x2="1642" y2="429.5" stroke="#000" stroke-width="0.9"/>
<path d="M1602,449.5 l5.5,-0.6 l-2.2,-4.2 Z M1642,429.5 l-5.5,0.6 l2.2,4.2 Z" fill="#000" stroke="#000" stroke-width="0.5" />
<text x="1620" y="438.5" font-size="8.5" text-anchor="middle" transform="rotate(-27 1620 438.5)" stroke="#000" stroke-width="0.22">30&quot;</text>
<text x="1673" y="425.3" font-size="11.5" text-anchor="middle" textLength="42" lengthAdjust="spacingAndGlyphs" stroke="#000" stroke-width="0.22">3&#x27; x 5&#x27;-6&quot;</text>
<text x="1673.5" y="434" font-size="6.8" text-anchor="middle" textLength="46" lengthAdjust="spacingAndGlyphs" stroke="#000" stroke-width="0.22">HOT MOP PAN</text>
<text x="1673.5" y="442" font-size="6.8" text-anchor="middle" textLength="55" lengthAdjust="spacingAndGlyphs" stroke="#000" stroke-width="0.22">W/ TEMP. GLASS</text>
<text x="1673.5" y="449.8" font-size="6.8" text-anchor="middle" textLength="41" lengthAdjust="spacingAndGlyphs" stroke="#000" stroke-width="0.22">ENCLOSURE</text>
<ellipse cx="1669.2" cy="495.4" rx="14.7" ry="12.2" fill="none" stroke="#000" stroke-width="0.9"/>
<path d="M1684.9,477.5 h15.2 v36.2 h-15.2 v-7 l1.8,-2.5 v-17 l-1.8,-2.5 Z" fill="none" stroke="#000" stroke-width="0.9" />
<line x1="1668.3" y1="465" x2="1668.3" y2="524" stroke="#000" stroke-width="0.9"/>
<line x1="1664.3" y1="466.5" x2="1672.3" y2="474.5" stroke="#000" stroke-width="2" stroke-linecap="butt"/>
<line x1="1664.3" y1="491.4" x2="1672.3" y2="499.4" stroke="#000" stroke-width="2" stroke-linecap="butt"/>
<line x1="1664.3" y1="515.3" x2="1672.3" y2="523.3" stroke="#000" stroke-width="2" stroke-linecap="butt"/>
<text x="1665.5" y="483.5" font-size="7" text-anchor="middle" transform="rotate(-90 1665.5 483.5)" textLength="14" lengthAdjust="spacingAndGlyphs" stroke="#000" stroke-width="0.22">1&#x27;-3&quot;</text>
<text x="1665.5" y="507.5" font-size="7" text-anchor="middle" transform="rotate(-90 1665.5 507.5)" textLength="14" lengthAdjust="spacingAndGlyphs" stroke="#000" stroke-width="0.22">1&#x27;-3&quot;</text>
<polyline points="1702.4,519.7 1664.1,519.7 1664.1,571.8" fill="none" stroke="#000" stroke-width="0.9"/>
<ellipse cx="1683.3" cy="545" rx="9.9" ry="14" fill="none" stroke="#000" stroke-width="0.9"/>
<line x1="1684.5" y1="546" x2="1694" y2="546" stroke="#666" stroke-width="2"/>
<circle cx="1684.3" cy="546" r="1.3" fill="#fff" stroke="#000" stroke-width="0.7"/>
<rect x="1693.5" y="539.5" width="3" height="13" fill="#ddd" stroke="#444" stroke-width="0.8"/>
<rect x="1692.5" y="539.5" width="5" height="3.5" fill="none" stroke="#444" stroke-width="0.7"/>
<rect x="1692.5" y="549" width="5" height="3.5" fill="none" stroke="#444" stroke-width="0.7"/>
<line x1="1677.6" y1="855" x2="1868.2" y2="855" stroke="#000" stroke-width="0.9"/>
<ellipse cx="1728.9" cy="842" rx="14.6" ry="9.3" fill="none" stroke="#000" stroke-width="0.9"/>
<path d="M1723.9,829 h3 v-2.5 h4 v2.5 h3 v3 h-3 v-1 h-2 v8 h-1.6 v-8 h-1.4 v1 h-2 Z" fill="none" stroke="#000" stroke-width="0.8" />
<circle cx="1728.9" cy="839.5" r="1" fill="none" stroke="#000" stroke-width="0.7"/>
<ellipse cx="1815" cy="842" rx="14.6" ry="9.3" fill="none" stroke="#000" stroke-width="0.9"/>
<path d="M1810,829 h3 v-2.5 h4 v2.5 h3 v3 h-3 v-1 h-2 v8 h-1.6 v-8 h-1.4 v1 h-2 Z" fill="none" stroke="#000" stroke-width="0.8" />
<circle cx="1815" cy="839.5" r="1" fill="none" stroke="#000" stroke-width="0.7"/>
<ellipse cx="1710.6" cy="979.7" rx="14.7" ry="12.2" fill="none" stroke="#000" stroke-width="0.9"/>
<path d="M1680.5,962 h14.9 v7 l-2,3 v15 l2,3 v7 h-14.9 Z" fill="none" stroke="#000" stroke-width="0.9" />
<line x1="1711.4" y1="944" x2="1711.4" y2="1016" stroke="#000" stroke-width="0.9"/>
<line x1="1707.4" y1="945.3" x2="1715.4" y2="953.3" stroke="#000" stroke-width="2" stroke-linecap="butt"/>
<line x1="1707.4" y1="975.7" x2="1715.4" y2="983.7" stroke="#000" stroke-width="2" stroke-linecap="butt"/>
<line x1="1707.4" y1="1007.2" x2="1715.4" y2="1015.2" stroke="#000" stroke-width="2" stroke-linecap="butt"/>
<text x="1708.6" y="964.5" font-size="7" text-anchor="middle" transform="rotate(-90 1708.6 964.5)" textLength="14" lengthAdjust="spacingAndGlyphs" stroke="#000" stroke-width="0.22">1&#x27;-6&quot;</text>
<text x="1708.6" y="995.5" font-size="7" text-anchor="middle" transform="rotate(-90 1708.6 995.5)" textLength="14" lengthAdjust="spacingAndGlyphs" stroke="#000" stroke-width="0.22">1&#x27;-6&quot;</text>
<line x1="1724.1" y1="979.7" x2="1777" y2="979.7" stroke="#000" stroke-width="0.9"/>
<line x1="1721.5" y1="983.7" x2="1729.5" y2="975.7" stroke="#000" stroke-width="2" stroke-linecap="butt"/>
<line x1="1772.1" y1="983.7" x2="1780.1" y2="975.7" stroke="#000" stroke-width="2" stroke-linecap="butt"/>
<text x="1750" y="978" font-size="8.5" text-anchor="middle" stroke="#000" stroke-width="0.22">2&#x27;-6&quot;</text>
<rect x="1734.5" y="955" width="36" height="11.8" fill="none" stroke="#000" stroke-width="0.9"/>
<text x="1752.2" y="964.6" font-size="10.5" text-anchor="middle" textLength="28" lengthAdjust="spacingAndGlyphs" stroke="#000" stroke-width="0.22">9&#x27; CLG.</text>
<line x1="1777" y1="933.8" x2="1868.2" y2="933.8" stroke="#000" stroke-width="0.9"/>
<line x1="1780.4" y1="938" x2="1868.2" y2="938" stroke="#000" stroke-width="0.9"/>
<polyline points="1780.4,938 1824,1009 1867,938" fill="none" stroke="#000" stroke-width="0.9"/>
<circle cx="1823.2" cy="984.5" r="24" fill="none" stroke="#000" stroke-width="0.9" stroke-dasharray="8 4"/>
<line x1="1801.5" y1="994.3" x2="1845.1" y2="974.6" stroke="#000" stroke-width="0.9"/>
<path d="M1801.5,994.3 l5.5,-0.4 l-2,-4.3 Z M1845.1,974.6 l-5.5,0.4 l2,4.3 Z" fill="#000" stroke="#000" stroke-width="0.5" />
<text x="1820.5" y="981" font-size="8.5" text-anchor="middle" transform="rotate(-25 1820.5 981)" stroke="#000" stroke-width="0.22">30&quot;</text>
<text x="1824" y="943.7" font-size="11" text-anchor="middle" textLength="44" lengthAdjust="spacingAndGlyphs" stroke="#000" stroke-width="0.22">4&#x27;-6&quot; x 4&#x27;</text>
<text x="1824" y="950.9" font-size="6.6" text-anchor="middle" textLength="80" lengthAdjust="spacingAndGlyphs" stroke="#000" stroke-width="0.22">HOT MOP PAN W/ TEMP.</text>
<text x="1824" y="958.8" font-size="6.6" text-anchor="middle" textLength="66" lengthAdjust="spacingAndGlyphs" stroke="#000" stroke-width="0.22">GLASS ENCLOSURE</text>
<path d="M1771.9,764.6 A15.5,15.5 0 0 1 1802.9,764.6 M1775.6,764.6 A11.8,11.8 0 0 1 1799.2,764.6 M1771.9,764.6 h3.7 M1799.2,764.6 h3.7" fill="none" stroke="#000" stroke-width="0.9" />
<line x1="1780.4" y1="472.3" x2="1780.4" y2="687.2" stroke="#000" stroke-width="1"/>
<line x1="1783.2" y1="472.3" x2="1783.2" y2="687.2" stroke="#000" stroke-width="0.8"/>
<line x1="1786.8" y1="472.3" x2="1786.8" y2="687.2" stroke="#000" stroke-width="0.8"/>
<line x1="1789.4" y1="472.3" x2="1789.4" y2="687.2" stroke="#000" stroke-width="1"/>
<line x1="1780.4" y1="472.3" x2="1789.4" y2="472.3" stroke="#000" stroke-width="1"/>
<line x1="1785.4" y1="252.5" x2="1785.4" y2="687.2" stroke="#000" stroke-width="0.9"/>
<line x1="1789.4" y1="477.6" x2="1868.2" y2="477.6" stroke="#000" stroke-width="0.9"/>
<text x="1791.5" y="473.6" font-size="11" textLength="11.5" lengthAdjust="spacingAndGlyphs" stroke="#000" stroke-width="0.22">17</text>
<line x1="1789.4" y1="495.4" x2="1868.2" y2="495.4" stroke="#000" stroke-width="0.9"/>
<text x="1791.5" y="491.4" font-size="11" textLength="11.5" lengthAdjust="spacingAndGlyphs" stroke="#000" stroke-width="0.22">16</text>
<line x1="1789.4" y1="513.2" x2="1868.2" y2="513.2" stroke="#000" stroke-width="0.9"/>
<text x="1791.5" y="509.2" font-size="11" textLength="11.5" lengthAdjust="spacingAndGlyphs" stroke="#000" stroke-width="0.22">15</text>
<line x1="1789.4" y1="531" x2="1868.2" y2="531" stroke="#000" stroke-width="0.9"/>
<text x="1791.5" y="527" font-size="11" textLength="11.5" lengthAdjust="spacingAndGlyphs" stroke="#000" stroke-width="0.22">14</text>
<line x1="1789.4" y1="548.8" x2="1868.2" y2="548.8" stroke="#000" stroke-width="0.9"/>
<text x="1791.5" y="544.8" font-size="11" textLength="11.5" lengthAdjust="spacingAndGlyphs" stroke="#000" stroke-width="0.22">13</text>
<line x1="1789.4" y1="566.6" x2="1868.2" y2="566.6" stroke="#000" stroke-width="0.9"/>
<text x="1791.5" y="562.6" font-size="11" textLength="11.5" lengthAdjust="spacingAndGlyphs" stroke="#000" stroke-width="0.22">12</text>
<line x1="1789.4" y1="584.4" x2="1834" y2="584.4" stroke="#000" stroke-width="0.9"/>
<line x1="1834" y1="584.4" x2="1868.2" y2="584.4" stroke="#000" stroke-width="0.9" stroke-dasharray="10 5"/>
<text x="1791.5" y="580.4" font-size="11" textLength="11.5" lengthAdjust="spacingAndGlyphs" stroke="#000" stroke-width="0.22">11</text>
<line x1="1789.4" y1="602.2" x2="1868.2" y2="602.2" stroke="#666" stroke-width="1.1" stroke-dasharray="12 5"/>
<text x="1791.5" y="598.2" font-size="11" textLength="11.5" lengthAdjust="spacingAndGlyphs" stroke="#000" stroke-width="0.22">10</text>
<line x1="1789.4" y1="620" x2="1868.2" y2="620" stroke="#666" stroke-width="1.1" stroke-dasharray="12 5"/>
<text x="1791.5" y="616" font-size="11" textLength="5.5" lengthAdjust="spacingAndGlyphs" stroke="#000" stroke-width="0.22">9</text>
<line x1="1789.4" y1="637.8" x2="1868.2" y2="637.8" stroke="#666" stroke-width="1.1" stroke-dasharray="12 5"/>
<text x="1791.5" y="633.8" font-size="11" textLength="5.5" lengthAdjust="spacingAndGlyphs" fill="#c4c4c4" stroke="#c4c4c4" stroke-width="0.22">8</text>
<line x1="1789.4" y1="655.6" x2="1868.2" y2="655.6" stroke="#666" stroke-width="1.1" stroke-dasharray="12 5"/>
<text x="1791.5" y="651.6" font-size="11" textLength="5.5" lengthAdjust="spacingAndGlyphs" fill="#c4c4c4" stroke="#c4c4c4" stroke-width="0.22">7</text>
<line x1="1789.4" y1="673.4" x2="1868.2" y2="673.4" stroke="#666" stroke-width="1.1" stroke-dasharray="12 5"/>
<text x="1791.5" y="669.4" font-size="11" textLength="5.5" lengthAdjust="spacingAndGlyphs" fill="#c4c4c4" stroke="#c4c4c4" stroke-width="0.22">6</text>
<text x="1791.5" y="687.2" font-size="11" textLength="5.5" lengthAdjust="spacingAndGlyphs" fill="#c4c4c4" stroke="#c4c4c4" stroke-width="0.22">5</text>
<line x1="1868.2" y1="552.9" x2="1786" y2="628.1" stroke="#000" stroke-width="0.9" stroke-dasharray="12 5"/>
<line x1="1780.4" y1="687.2" x2="1868.2" y2="687.2" stroke="#000" stroke-width="1"/>
<line x1="1780.4" y1="687.2" x2="1780.4" y2="716.7" stroke="#000" stroke-width="0.9"/>
<line x1="1780.4" y1="710.5" x2="1868.2" y2="710.5" stroke="#000" stroke-width="0.9" stroke-dasharray="12 5"/>
<line x1="1787.4" y1="716.7" x2="1868.2" y2="716.7" stroke="#000" stroke-width="1"/>
<line x1="1788.2" y1="687.2" x2="1788.2" y2="806.8" stroke="#000" stroke-width="0.8" stroke-dasharray="9 4"/>
<text x="1826" y="473" font-size="12.8" text-anchor="middle" textLength="13" lengthAdjust="spacingAndGlyphs" stroke="#000" stroke-width="0.22">DN</text>
<circle cx="1826" cy="477.6" r="2.8" fill="none" stroke="#000" stroke-width="0.8"/>
<line x1="1826" y1="477.6" x2="1826" y2="566.7" stroke="#000" stroke-width="0.9"/>
<polyline points="1818.3,559.7 1826,566.9 1833.8,559.7" fill="none" stroke="#000" stroke-width="2.2"/>
<line x1="1855.8" y1="409" x2="1855.8" y2="483" stroke="#000" stroke-width="0.9"/>
<line x1="1851.3" y1="409.2" x2="1860.3" y2="418.2" stroke="#000" stroke-width="2" stroke-linecap="butt"/>
<line x1="1851.3" y1="473.1" x2="1860.3" y2="482.1" stroke="#000" stroke-width="2" stroke-linecap="butt"/>
<text x="1853.3" y="445.6" font-size="11" text-anchor="middle" transform="rotate(-90 1853.3 445.6)" textLength="24" lengthAdjust="spacingAndGlyphs" stroke="#000" stroke-width="0.22">3&#x27;-4&quot;</text>
<line x1="1867.2" y1="488" x2="1867.2" y2="502" stroke="#000" stroke-width="2"/>
<line x1="1708.6" y1="529.6" x2="1731" y2="529.6" stroke="#000" stroke-width="0.9" stroke-dasharray="9 4"/>
<polyline points="1746.6,559.1 1746.6,529.6 1766.3,529.6 1766.3,494" fill="none" stroke="#000" stroke-width="0.9"/>
<text x="1729.5" y="550.7" font-size="12.8" text-anchor="middle" transform="rotate(-90 1729.5 550.7)" textLength="39" lengthAdjust="spacingAndGlyphs" stroke="#000" stroke-width="0.22">SLOPED</text>
<text x="1742.5" y="543" font-size="12.8" text-anchor="middle" transform="rotate(-90 1742.5 543)" textLength="23" lengthAdjust="spacingAndGlyphs" stroke="#000" stroke-width="0.22">CLG.</text>
<text x="1765" y="509.5" font-size="12.8" text-anchor="middle" transform="rotate(-90 1765 509.5)" textLength="33" lengthAdjust="spacingAndGlyphs" stroke="#000" stroke-width="0.22">9&#x27; CLG.</text>
<text x="1719.8" y="605.5" font-size="12.8" text-anchor="middle" transform="rotate(-90 1719.8 605.5)" textLength="53.5" lengthAdjust="spacingAndGlyphs" stroke="#000" stroke-width="0.22">2680 OPNG.</text>
<text x="1778.3" y="604.7" font-size="12.8" text-anchor="middle" transform="rotate(-90 1778.3 604.7)" textLength="133.7" lengthAdjust="spacingAndGlyphs" stroke="#000" stroke-width="0.22">12&quot;X3&#x27; CLERESTORY ABOVE</text>
<text x="1719.3" y="720.4" font-size="12.8" text-anchor="middle" transform="rotate(-90 1719.3 720.4)" textLength="139.9" lengthAdjust="spacingAndGlyphs" stroke="#000" stroke-width="0.22">INTERIOR 8036 CLERESTORY</text>
<text x="1733.9" y="720.4" font-size="12.8" text-anchor="middle" transform="rotate(-90 1733.9 720.4)" textLength="63.9" lengthAdjust="spacingAndGlyphs" stroke="#000" stroke-width="0.22">BOTTOM @ 9&#x27;</text>
<text x="1788" y="710.5" font-size="12.8" text-anchor="end" textLength="41" lengthAdjust="spacingAndGlyphs" stroke="#000" stroke-width="0.22">SLOPED</text>
<text x="1787.5" y="723.7" font-size="12.8" text-anchor="end" textLength="23" lengthAdjust="spacingAndGlyphs" stroke="#000" stroke-width="0.22">CLG.</text>
<polyline points="1759.3,725.2 1788.2,725.2 1788.2,744.3 1818.3,744.3" fill="none" stroke="#000" stroke-width="0.9"/>
<text x="1792.2" y="742.6" font-size="12.8" textLength="33" lengthAdjust="spacingAndGlyphs" stroke="#000" stroke-width="0.22">9&#x27; CLG.</text>
<line x1="1708.6" y1="769.6" x2="1868.2" y2="769.6" stroke="#000" stroke-width="0.9"/>
<line x1="1708.6" y1="788.5" x2="1868.2" y2="788.5" stroke="#000" stroke-width="0.9" stroke-dasharray="12 5"/>
<text x="1788.8" y="780" font-size="12.8" text-anchor="middle" textLength="75" lengthAdjust="spacingAndGlyphs" stroke="#000" stroke-width="0.22">24&quot; DEEP DESK</text>
<line x1="1849.3" y1="705" x2="1849.3" y2="813" stroke="#000" stroke-width="0.9"/>
<line x1="1844.8" y1="706" x2="1853.8" y2="715" stroke="#000" stroke-width="2" stroke-linecap="butt"/>
<line x1="1844.8" y1="803.7" x2="1853.8" y2="812.7" stroke="#000" stroke-width="2" stroke-linecap="butt"/>
<text x="1847.2" y="760.3" font-size="11" text-anchor="middle" transform="rotate(-90 1847.2 760.3)" textLength="24" lengthAdjust="spacingAndGlyphs" stroke="#000" stroke-width="0.22">5&#x27;-0&quot;</text>
<line x1="1772.5" y1="803.7" x2="1781.5" y2="812.7" stroke="#000" stroke-width="2" stroke-linecap="butt"/>
<line x1="1370" y1="221.5" x2="2364" y2="221.5" stroke="#000" stroke-width="0.9"/>
<line x1="1370" y1="252.5" x2="2018" y2="252.5" stroke="#000" stroke-width="0.9"/>
<line x1="1371.5" y1="226.5" x2="1381.5" y2="216.5" stroke="#000" stroke-width="2.2" stroke-linecap="butt"/>
<line x1="1871" y1="226.5" x2="1881" y2="216.5" stroke="#000" stroke-width="2.2" stroke-linecap="butt"/>
<line x1="2006.4" y1="226.5" x2="2016.4" y2="216.5" stroke="#000" stroke-width="2.2" stroke-linecap="butt"/>
<line x1="2352.6" y1="226.5" x2="2362.6" y2="216.5" stroke="#000" stroke-width="2.2" stroke-linecap="butt"/>
<line x1="1371.5" y1="257.5" x2="1381.5" y2="247.5" stroke="#000" stroke-width="2.2" stroke-linecap="butt"/>
<line x1="1585.4" y1="257.5" x2="1595.4" y2="247.5" stroke="#000" stroke-width="2.2" stroke-linecap="butt"/>
<line x1="1697.4" y1="257.5" x2="1707.4" y2="247.5" stroke="#000" stroke-width="2.2" stroke-linecap="butt"/>
<line x1="1780.4" y1="257.5" x2="1790.4" y2="247.5" stroke="#000" stroke-width="2.2" stroke-linecap="butt"/>
<line x1="1871" y1="257.5" x2="1881" y2="247.5" stroke="#000" stroke-width="2.2" stroke-linecap="butt"/>
<line x1="1938.9" y1="257.5" x2="1948.9" y2="247.5" stroke="#000" stroke-width="2.2" stroke-linecap="butt"/>
<line x1="2006.4" y1="257.5" x2="2016.4" y2="247.5" stroke="#000" stroke-width="2.2" stroke-linecap="butt"/>
<line x1="1376.5" y1="214" x2="1376.5" y2="398" stroke="#000" stroke-width="0.9"/>
<line x1="1590.4" y1="246" x2="1590.4" y2="406.7" stroke="#000" stroke-width="0.9"/>
<line x1="1702.4" y1="246" x2="1702.4" y2="404" stroke="#000" stroke-width="0.9"/>
<line x1="1943.9" y1="246" x2="1943.9" y2="392.6" stroke="#000" stroke-width="0.9"/>
<line x1="2011.4" y1="214" x2="2011.4" y2="375.7" stroke="#000" stroke-width="0.9"/>
<line x1="2357.6" y1="214" x2="2357.6" y2="308.2" stroke="#888" stroke-width="0.9"/>
<text x="1626.1" y="219.3" font-size="11" text-anchor="middle" stroke="#000" stroke-width="0.22">25&#x27;-9&quot;</text>
<text x="1465.8" y="245.8" font-size="11" stroke="#000" stroke-width="0.22">11&#x27;-0</text>
<text x="1493.8" y="241.2" font-size="10" text-anchor="middle" stroke="#000" stroke-width="0.22">1</text>
<line x1="1490.8" y1="242" x2="1497" y2="242" stroke="#000" stroke-width="0.8"/>
<text x="1493.8" y="251.1" font-size="10" text-anchor="middle" stroke="#000" stroke-width="0.22">2</text>
<text x="1497.4" y="245.6" font-size="9.5" stroke="#000" stroke-width="0.22">&quot;</text>
<text x="1632.2" y="245.8" font-size="11" stroke="#000" stroke-width="0.22">5&#x27;-9</text>
<text x="1654" y="241.2" font-size="10" text-anchor="middle" stroke="#000" stroke-width="0.22">1</text>
<line x1="1651" y1="242" x2="1657.2" y2="242" stroke="#000" stroke-width="0.8"/>
<text x="1654" y="251.1" font-size="10" text-anchor="middle" stroke="#000" stroke-width="0.22">2</text>
<text x="1657.6" y="245.6" font-size="9.5" stroke="#000" stroke-width="0.22">&quot;</text>
<text x="1743.8" y="250.3" font-size="11" text-anchor="middle" stroke="#000" stroke-width="0.22">4&#x27;-3&quot;</text>
<text x="1830.5" y="250.3" font-size="11" text-anchor="middle" stroke="#000" stroke-width="0.22">4&#x27;-8&quot;</text>
<text x="1909.8" y="250.3" font-size="11" text-anchor="middle" stroke="#000" stroke-width="0.22">3&#x27;-6&quot;</text>
<text x="1977.6" y="250.3" font-size="11" text-anchor="middle" stroke="#000" stroke-width="0.22">3&#x27;-6&quot;</text>
<text x="1943.6" y="219.3" font-size="11" text-anchor="middle" stroke="#000" stroke-width="0.22">7&#x27;-0&quot;</text>
<text x="2183.7" y="219.3" font-size="11" text-anchor="middle" stroke="#000" stroke-width="0.22">17&#x27;-10&quot;</text>
<line x1="1258.3" y1="404.5" x2="1370.9" y2="404.5" stroke="#000" stroke-width="0.9"/>
<line x1="1264.8" y1="398" x2="1264.8" y2="1082" stroke="#000" stroke-width="0.9"/>
<line x1="1297.7" y1="398" x2="1297.7" y2="1082" stroke="#000" stroke-width="0.9"/>
<line x1="1259.8" y1="399.5" x2="1269.8" y2="409.5" stroke="#000" stroke-width="2.2" stroke-linecap="butt"/>
<line x1="1292.7" y1="399.5" x2="1302.7" y2="409.5" stroke="#000" stroke-width="2.2" stroke-linecap="butt"/>
<line x1="1290.7" y1="873.3" x2="1370.9" y2="873.3" stroke="#000" stroke-width="0.9"/>
<line x1="1292.7" y1="868.3" x2="1302.7" y2="878.3" stroke="#000" stroke-width="2.2" stroke-linecap="butt"/>
<line x1="1258.3" y1="1076" x2="1473.6" y2="1076" stroke="#000" stroke-width="0.9"/>
<line x1="1259.8" y1="1071" x2="1269.8" y2="1081" stroke="#000" stroke-width="2.2" stroke-linecap="butt"/>
<line x1="1292.7" y1="1071" x2="1302.7" y2="1081" stroke="#000" stroke-width="2.2" stroke-linecap="butt"/>
<g transform="rotate(-90 1291.5 639.3)">
<text x="1273.9" y="639.3" font-size="11" stroke="#000" stroke-width="0.22">24&#x27;-2</text>
<text x="1301.9" y="634.7" font-size="10" text-anchor="middle" stroke="#000" stroke-width="0.22">1</text>
<line x1="1298.9" y1="635.5" x2="1305.1" y2="635.5" stroke="#000" stroke-width="0.8"/>
<text x="1301.9" y="644.6" font-size="10" text-anchor="middle" stroke="#000" stroke-width="0.22">2</text>
<text x="1305.5" y="639.1" font-size="9.5" stroke="#000" stroke-width="0.22">&quot;</text>
</g>
<text x="1262.5" y="739.2" font-size="11" text-anchor="middle" transform="rotate(-90 1262.5 739.2)" textLength="29" lengthAdjust="spacingAndGlyphs" stroke="#000" stroke-width="0.22">34&#x27;-8&quot;</text>
<g transform="rotate(-90 1290.2 976)">
<text x="1272.6" y="976" font-size="11" stroke="#000" stroke-width="0.22">10&#x27;-5</text>
<text x="1300.6" y="971.4" font-size="10" text-anchor="middle" stroke="#000" stroke-width="0.22">1</text>
<line x1="1297.6" y1="972.2" x2="1303.8" y2="972.2" stroke="#000" stroke-width="0.8"/>
<text x="1300.6" y="981.3" font-size="10" text-anchor="middle" stroke="#000" stroke-width="0.22">2</text>
<text x="1304.2" y="975.8" font-size="9.5" stroke="#000" stroke-width="0.22">&quot;</text>
</g>
<polyline points="1876,394.6 1318.2,394.6 1318.2,882.6 1415,882.6" fill="none" stroke="#222" stroke-width="1" stroke-dasharray="24 5 7 5"/>
<polyline points="1318.2,1085.8 1687.5,1085.8 1687.5,1028.1 1876,1028.1" fill="none" stroke="#222" stroke-width="1" stroke-dasharray="24 5 7 5"/>
<line x1="1383.5" y1="492" x2="1447" y2="492" stroke="#000" stroke-width="0.9"/>
<line x1="1381.3" y1="496.5" x2="1390.3" y2="487.5" stroke="#000" stroke-width="2" stroke-linecap="butt"/>
<line x1="1439.5" y1="496.5" x2="1448.5" y2="487.5" stroke="#000" stroke-width="2" stroke-linecap="butt"/>
<text x="1414.5" y="489.5" font-size="11" text-anchor="middle" stroke="#000" stroke-width="0.22">3&#x27;-0&quot;</text>
<line x1="1444" y1="413.7" x2="1444" y2="636.5" stroke="#000" stroke-width="0.9" stroke-dasharray="16 4 5 4"/>
<text x="1444.6" y="512.3" font-size="12.8" textLength="33" lengthAdjust="spacingAndGlyphs" stroke="#000" stroke-width="0.22">9&#x27; CLG.</text>
<polyline points="1473.6,514.2 1443.2,514.2 1443.2,533.4 1410.8,533.4" fill="none" stroke="#000" stroke-width="0.9"/>
<text x="1410.8" y="531.1" font-size="12.8" textLength="32" lengthAdjust="spacingAndGlyphs" stroke="#000" stroke-width="0.22">8&#x27; CLG.</text>
<line x1="1519.5" y1="409" x2="1519.5" y2="870" stroke="#000" stroke-width="0.9"/>
<line x1="1515" y1="409.2" x2="1524" y2="418.2" stroke="#000" stroke-width="2" stroke-linecap="butt"/>
<line x1="1515" y1="860.4" x2="1524" y2="869.4" stroke="#000" stroke-width="2" stroke-linecap="butt"/>
<text x="1518" y="529.1" font-size="11" text-anchor="middle" transform="rotate(-90 1518 529.1)" textLength="29" lengthAdjust="spacingAndGlyphs" stroke="#000" stroke-width="0.22">11&#x27;-6&quot;</text>
<text x="1518" y="753.3" font-size="11" text-anchor="middle" transform="rotate(-90 1518 753.3)" textLength="29" lengthAdjust="spacingAndGlyphs" stroke="#000" stroke-width="0.22">11&#x27;-6&quot;</text>
<line x1="1567.9" y1="409" x2="1567.9" y2="582" stroke="#000" stroke-width="0.9"/>
<line x1="1563.4" y1="409.2" x2="1572.4" y2="418.2" stroke="#000" stroke-width="2" stroke-linecap="butt"/>
<line x1="1563.4" y1="572.9" x2="1572.4" y2="581.9" stroke="#000" stroke-width="2" stroke-linecap="butt"/>
<g transform="rotate(-90 1561.5 494)">
<text x="1547" y="494" font-size="11" stroke="#000" stroke-width="0.22">8&#x27;-2</text>
<text x="1568.8" y="489.4" font-size="10" text-anchor="middle" stroke="#000" stroke-width="0.22">1</text>
<line x1="1565.8" y1="490.2" x2="1572" y2="490.2" stroke="#000" stroke-width="0.8"/>
<text x="1568.8" y="499.3" font-size="10" text-anchor="middle" stroke="#000" stroke-width="0.22">2</text>
<text x="1572.4" y="493.8" font-size="9.5" stroke="#000" stroke-width="0.22">&quot;</text>
</g>
<line x1="1383.5" y1="577.4" x2="1591.8" y2="577.4" stroke="#000" stroke-width="0.9"/>
<line x1="1381.3" y1="581.9" x2="1390.3" y2="572.9" stroke="#000" stroke-width="2" stroke-linecap="butt"/>
<line x1="1587.3" y1="581.9" x2="1596.3" y2="572.9" stroke="#000" stroke-width="2" stroke-linecap="butt"/>
<text x="1487.7" y="575.8" font-size="11" text-anchor="middle" stroke="#000" stroke-width="0.22">10&#x27;-7&quot;</text>
<line x1="1596.9" y1="495.9" x2="1702.4" y2="495.9" stroke="#000" stroke-width="0.9"/>
<line x1="1593.5" y1="500.4" x2="1602.5" y2="491.4" stroke="#000" stroke-width="2" stroke-linecap="butt"/>
<line x1="1697.9" y1="500.4" x2="1706.9" y2="491.4" stroke="#000" stroke-width="2" stroke-linecap="butt"/>
<text x="1624.2" y="494.6" font-size="11" text-anchor="middle" stroke="#000" stroke-width="0.22">5&#x27;-6&quot;</text>
<line x1="1383.5" y1="797.5" x2="1706" y2="797.5" stroke="#000" stroke-width="0.9"/>
<line x1="1381.3" y1="802" x2="1390.3" y2="793" stroke="#000" stroke-width="2" stroke-linecap="butt"/>
<line x1="1699.9" y1="802" x2="1708.9" y2="793" stroke="#000" stroke-width="2" stroke-linecap="butt"/>
<text x="1528.4" y="791.3" font-size="11" stroke="#000" stroke-width="0.22">16&#x27;-4</text>
<text x="1556.4" y="786.7" font-size="10" text-anchor="middle" stroke="#000" stroke-width="0.22">1</text>
<line x1="1553.4" y1="787.5" x2="1559.6" y2="787.5" stroke="#000" stroke-width="0.8"/>
<text x="1556.4" y="796.6" font-size="10" text-anchor="middle" stroke="#000" stroke-width="0.22">2</text>
<text x="1560" y="791.1" font-size="9.5" stroke="#000" stroke-width="0.22">&quot;</text>
<line x1="1543.4" y1="928" x2="1543.4" y2="1074" stroke="#000" stroke-width="0.9"/>
<line x1="1538.9" y1="929.3" x2="1547.9" y2="938.3" stroke="#000" stroke-width="2" stroke-linecap="butt"/>
<line x1="1538.9" y1="1065.8" x2="1547.9" y2="1074.8" stroke="#000" stroke-width="2" stroke-linecap="butt"/>
<g transform="rotate(-90 1537.5 1002.2)">
<text x="1523" y="1002.2" font-size="11" stroke="#000" stroke-width="0.22">6&#x27;-8</text>
<text x="1544.8" y="997.6" font-size="10" text-anchor="middle" stroke="#000" stroke-width="0.22">1</text>
<line x1="1541.8" y1="998.4" x2="1548" y2="998.4" stroke="#000" stroke-width="0.8"/>
<text x="1544.8" y="1007.5" font-size="10" text-anchor="middle" stroke="#000" stroke-width="0.22">2</text>
<text x="1548.4" y="1002" font-size="9.5" stroke="#000" stroke-width="0.22">&quot;</text>
</g>
<line x1="1477.8" y1="1039.4" x2="1673.4" y2="1039.4" stroke="#000" stroke-width="0.9"/>
<line x1="1475.5" y1="1043.9" x2="1484.5" y2="1034.9" stroke="#000" stroke-width="2" stroke-linecap="butt"/>
<line x1="1666" y1="1043.9" x2="1675" y2="1034.9" stroke="#000" stroke-width="2" stroke-linecap="butt"/>
<text x="1574.9" y="1037.2" font-size="11" text-anchor="middle" stroke="#000" stroke-width="0.22">9&#x27;-7&quot;</text>
<line x1="1777" y1="812" x2="1777" y2="938" stroke="#000" stroke-width="0.9"/>
<line x1="1772.5" y1="929.3" x2="1781.5" y2="938.3" stroke="#000" stroke-width="2" stroke-linecap="butt"/>
<g transform="rotate(-90 1771.5 870.5)">
<text x="1757" y="870.5" font-size="11" stroke="#000" stroke-width="0.22">6&#x27;-5</text>
<text x="1778.8" y="865.9" font-size="10" text-anchor="middle" stroke="#000" stroke-width="0.22">1</text>
<line x1="1775.8" y1="866.7" x2="1782" y2="866.7" stroke="#000" stroke-width="0.8"/>
<text x="1778.8" y="875.8" font-size="10" text-anchor="middle" stroke="#000" stroke-width="0.22">2</text>
<text x="1782.4" y="870.3" font-size="9.5" stroke="#000" stroke-width="0.22">&quot;</text>
</g>
<line x1="1313.7" y1="1019.7" x2="1382.1" y2="1019.7" stroke="#000" stroke-width="0.9"/>
<line x1="1313.7" y1="1024.2" x2="1322.7" y2="1015.2" stroke="#000" stroke-width="2" stroke-linecap="butt"/>
<line x1="1373.4" y1="1024.2" x2="1382.4" y2="1015.2" stroke="#000" stroke-width="2" stroke-linecap="butt"/>
<text x="1347.5" y="1017.5" font-size="11" text-anchor="middle" stroke="#000" stroke-width="0.22">3&#x27;-0&quot;</text>
<line x1="1318.2" y1="1019.7" x2="1318.2" y2="1056.3" stroke="#000" stroke-width="0.9"/>
<line x1="1348.4" y1="1050" x2="1348.4" y2="1091" stroke="#000" stroke-width="0.9"/>
<line x1="1343.9" y1="1051.8" x2="1352.9" y2="1060.8" stroke="#000" stroke-width="2" stroke-linecap="butt"/>
<line x1="1343.9" y1="1081.3" x2="1352.9" y2="1090.3" stroke="#000" stroke-width="2" stroke-linecap="butt"/>
<text x="1346.5" y="1071" font-size="8.5" text-anchor="middle" transform="rotate(-90 1346.5 1071)" stroke="#000" stroke-width="0.22">18&quot;</text>
<line x1="1372.3" y1="1135.1" x2="2017.6" y2="1135.1" stroke="#000" stroke-width="0.9"/>
<line x1="1371.5" y1="1140.1" x2="1381.5" y2="1130.1" stroke="#000" stroke-width="2.2" stroke-linecap="butt"/>
<line x1="1468.6" y1="1140.1" x2="1478.6" y2="1130.1" stroke="#000" stroke-width="2.2" stroke-linecap="butt"/>
<line x1="1671.8" y1="1140.1" x2="1681.8" y2="1130.1" stroke="#000" stroke-width="2.2" stroke-linecap="butt"/>
<line x1="1871" y1="1140.1" x2="1881" y2="1130.1" stroke="#000" stroke-width="2.2" stroke-linecap="butt"/>
<line x1="1900.6" y1="1140.1" x2="1910.6" y2="1130.1" stroke="#000" stroke-width="2.2" stroke-linecap="butt"/>
<line x1="2006.4" y1="1140.1" x2="2016.4" y2="1130.1" stroke="#000" stroke-width="2.2" stroke-linecap="butt"/>
<line x1="1372.3" y1="1160.4" x2="2164" y2="1160.4" stroke="#000" stroke-width="0.9"/>
<line x1="1371.5" y1="1165.4" x2="1381.5" y2="1155.4" stroke="#000" stroke-width="2.2" stroke-linecap="butt"/>
<line x1="1871" y1="1165.4" x2="1881" y2="1155.4" stroke="#000" stroke-width="2.2" stroke-linecap="butt"/>
<line x1="2006.4" y1="1165.4" x2="2016.4" y2="1155.4" stroke="#000" stroke-width="2.2" stroke-linecap="butt"/>
<line x1="2152.8" y1="1165.4" x2="2162.8" y2="1155.4" stroke="#000" stroke-width="2.2" stroke-linecap="butt"/>
<line x1="1672" y1="1105" x2="1881.7" y2="1105" stroke="#000" stroke-width="0.9"/>
<line x1="1671.8" y1="1110" x2="1681.8" y2="1100" stroke="#000" stroke-width="2.2" stroke-linecap="butt"/>
<line x1="1769.7" y1="1110" x2="1779.7" y2="1100" stroke="#000" stroke-width="2.2" stroke-linecap="butt"/>
<line x1="1871" y1="1110" x2="1881" y2="1100" stroke="#000" stroke-width="2.2" stroke-linecap="butt"/>
<line x1="1376.5" y1="1085.8" x2="1376.5" y2="1166" stroke="#000" stroke-width="0.9"/>
<line x1="1473.6" y1="1076" x2="1473.6" y2="1141" stroke="#000" stroke-width="0.9"/>
<line x1="1676.8" y1="1076" x2="1676.8" y2="1141" stroke="#000" stroke-width="0.9"/>
<line x1="1774.7" y1="1018.3" x2="1774.7" y2="1109" stroke="#000" stroke-width="0.9"/>
<line x1="2011.4" y1="933.8" x2="2011.4" y2="1165" stroke="#000" stroke-width="0.9"/>
<line x1="2157.8" y1="933.8" x2="2157.8" y2="1165" stroke="#000" stroke-width="0.9"/>
<text x="1425.2" y="1132.3" font-size="11" text-anchor="middle" stroke="#000" stroke-width="0.22">5&#x27;-0&quot;</text>
<text x="1574.9" y="1132.3" font-size="11" text-anchor="middle" stroke="#000" stroke-width="0.22">10&#x27;-6&quot;</text>
<text x="1776.1" y="1132.3" font-size="11" text-anchor="middle" stroke="#000" stroke-width="0.22">10&#x27;-3&quot;</text>
<text x="1957.9" y="1132.3" font-size="11" text-anchor="middle" stroke="#000" stroke-width="0.22">5&#x27;-6&quot;</text>
<text x="1626.1" y="1157" font-size="11" text-anchor="middle" stroke="#000" stroke-width="0.22">25&#x27;-9&quot;</text>
<text x="1943.6" y="1157" font-size="11" text-anchor="middle" stroke="#000" stroke-width="0.22">7&#x27;-0&quot;</text>
<text x="2071.5" y="1153.4" font-size="11" stroke="#000" stroke-width="0.22">7&#x27;-6</text>
<text x="2093.3" y="1148.8" font-size="10" text-anchor="middle" stroke="#000" stroke-width="0.22">1</text>
<line x1="2090.3" y1="1149.6" x2="2096.5" y2="1149.6" stroke="#000" stroke-width="0.8"/>
<text x="2093.3" y="1158.7" font-size="10" text-anchor="middle" stroke="#000" stroke-width="0.22">2</text>
<text x="2096.9" y="1153.2" font-size="9.5" stroke="#000" stroke-width="0.22">&quot;</text>
<text x="1776.1" y="1102.1" font-size="11" text-anchor="middle" stroke="#000" stroke-width="0.22">10&#x27;-3&quot;</text>
<text x="1824.8" y="1102.1" font-size="11" text-anchor="middle" stroke="#000" stroke-width="0.22">5&#x27;-3&quot;</text>
<line x1="1910.5" y1="801" x2="1910.5" y2="1082" stroke="#000" stroke-width="0.9"/>
<line x1="1906" y1="802.8" x2="1915" y2="811.8" stroke="#000" stroke-width="2" stroke-linecap="butt"/>
<line x1="1906" y1="1013.8" x2="1915" y2="1022.8" stroke="#000" stroke-width="2" stroke-linecap="butt"/>
<line x1="1906" y1="1071.5" x2="1915" y2="1080.5" stroke="#000" stroke-width="2" stroke-linecap="butt"/>
<line x1="1876" y1="807.3" x2="1916" y2="807.3" stroke="#555" stroke-width="0.9"/>
<line x1="1884.5" y1="1018.3" x2="1916" y2="1018.3" stroke="#000" stroke-width="0.9"/>
<line x1="1677.6" y1="1076" x2="1916" y2="1076" stroke="#000" stroke-width="0.9"/>
<text x="1920.6" y="914.4" font-size="11" text-anchor="middle" transform="rotate(-90 1920.6 914.4)" textLength="34" lengthAdjust="spacingAndGlyphs" stroke="#000" stroke-width="0.22">10&#x27;-10&quot;</text>
<text x="1920.6" y="1048.5" font-size="11" text-anchor="middle" transform="rotate(-90 1920.6 1048.5)" textLength="24" lengthAdjust="spacingAndGlyphs" stroke="#000" stroke-width="0.22">3&#x27;-0&quot;</text>
<line x1="1901.4" y1="666.6" x2="1947.8" y2="666.6" stroke="#000" stroke-width="0.9"/>
<line x1="1901.1" y1="671.1" x2="1910.1" y2="662.1" stroke="#000" stroke-width="2" stroke-linecap="butt"/>
<line x1="1939.4" y1="671.1" x2="1948.4" y2="662.1" stroke="#000" stroke-width="2" stroke-linecap="butt"/>
<text x="1924.7" y="664.4" font-size="11" text-anchor="middle" stroke="#000" stroke-width="0.22">2&#x27;-0&quot;</text>
<line x1="1930.3" y1="679" x2="1930.3" y2="786" stroke="#000" stroke-width="0.9"/>
<line x1="1925.8" y1="679.8" x2="1934.8" y2="688.8" stroke="#000" stroke-width="2" stroke-linecap="butt"/>
<line x1="1925.8" y1="776.4" x2="1934.8" y2="785.4" stroke="#000" stroke-width="2" stroke-linecap="butt"/>
<line x1="1923" y1="684.3" x2="1937.5" y2="684.3" stroke="#000" stroke-width="0.8"/>
<line x1="1923" y1="780.9" x2="1937.5" y2="780.9" stroke="#000" stroke-width="0.8"/>
<text x="1928.5" y="733" font-size="11" text-anchor="middle" transform="rotate(-90 1928.5 733)" textLength="24" lengthAdjust="spacingAndGlyphs" stroke="#000" stroke-width="0.22">5&#x27;-0&quot;</text>
<line x1="1905.3" y1="167" x2="1905.3" y2="1283.2" stroke="#777" stroke-width="1.2" stroke-dasharray="22 5 6 5"/>
<text x="1901.7" y="316.3" font-size="12.8" text-anchor="middle" transform="rotate(-90 1901.7 316.3)" textLength="79.5" lengthAdjust="spacingAndGlyphs" stroke="#000" stroke-width="0.22">IMAGINARY LINE</text>
<text x="1916.7" y="315.6" font-size="12.8" text-anchor="middle" transform="rotate(-90 1916.7 315.6)" textLength="111.7" lengthAdjust="spacingAndGlyphs" stroke="#000" stroke-width="0.22">FOR FIRE SEPARATION</text>
<text x="1901.7" y="1217.5" font-size="12.8" text-anchor="middle" transform="rotate(-90 1901.7 1217.5)" textLength="79.5" lengthAdjust="spacingAndGlyphs" stroke="#000" stroke-width="0.22">IMAGINARY LINE</text>
<text x="1916.7" y="1217.2" font-size="12.8" text-anchor="middle" transform="rotate(-90 1916.7 1217.2)" textLength="111.7" lengthAdjust="spacingAndGlyphs" stroke="#000" stroke-width="0.22">FOR FIRE SEPARATION</text>
<rect x="1878.9" y="601.3" width="18.7" height="290.9" fill="#fff" stroke="#000" stroke-width="0.9"/>
<text x="1892.3" y="746.7" font-size="12.8" text-anchor="middle" transform="rotate(-90 1892.3 746.7)" textLength="281" lengthAdjust="spacingAndGlyphs" stroke="#000" stroke-width="0.22">NO EAVE OVERHANG IS PERMITTED ALONG THIS WALL</text>
<rect x="1876.6" y="430.6" width="6" height="6.5" fill="none" stroke="#000" stroke-width="0.8"/>
<text x="1885" y="437.9" font-size="10.5" textLength="12" lengthAdjust="spacingAndGlyphs" stroke="#000" stroke-width="0.22">DS</text>
<rect x="1876.6" y="908.3" width="6" height="6.5" fill="none" stroke="#000" stroke-width="0.8"/>
<text x="1885" y="915.6" font-size="10.5" textLength="12" lengthAdjust="spacingAndGlyphs" stroke="#000" stroke-width="0.22">DS</text>
<rect x="1463.7" y="469.5" width="48.5" height="29.2" fill="none" stroke="#000" stroke-width="0.9"/>
<line x1="1463.7" y1="485" x2="1512.2" y2="485" stroke="#000" stroke-width="0.9"/>
<text x="1488" y="481.8" font-size="11.5" text-anchor="middle" textLength="43" lengthAdjust="spacingAndGlyphs" stroke="#000" stroke-width="0.22">BEDRM 2</text>
<text x="1488" y="495.3" font-size="11.5" text-anchor="middle" textLength="40" lengthAdjust="spacingAndGlyphs" stroke="#000" stroke-width="0.22">SLOPED</text>
<rect x="1612.3" y="517" width="49.9" height="29.6" fill="none" stroke="#000" stroke-width="0.9"/>
<line x1="1612.3" y1="532" x2="1662.2" y2="532" stroke="#000" stroke-width="0.9"/>
<text x="1637.2" y="528.8" font-size="11.5" text-anchor="middle" textLength="35" lengthAdjust="spacingAndGlyphs" stroke="#000" stroke-width="0.22">BATH 2</text>
<text x="1637.2" y="543.2" font-size="11.5" text-anchor="middle" textLength="33" lengthAdjust="spacingAndGlyphs" stroke="#000" stroke-width="0.22">9&#x27; CLG.</text>
<rect x="1623.6" y="592.3" width="49" height="29.3" fill="none" stroke="#000" stroke-width="0.9"/>
<line x1="1623.6" y1="606.9" x2="1672.6" y2="606.9" stroke="#000" stroke-width="0.9"/>
<text x="1648.1" y="603.7" font-size="11.5" text-anchor="middle" textLength="24" lengthAdjust="spacingAndGlyphs" stroke="#000" stroke-width="0.22">HALL</text>
<text x="1648.1" y="618.2" font-size="11.5" text-anchor="middle" textLength="33" lengthAdjust="spacingAndGlyphs" stroke="#000" stroke-width="0.22">9&#x27; CLG.</text>
<rect x="1541.1" y="738.7" width="116.6" height="28.7" fill="none" stroke="#000" stroke-width="0.9"/>
<line x1="1541.1" y1="753.3" x2="1657.7" y2="753.3" stroke="#000" stroke-width="0.9"/>
<text x="1599.4" y="750.1" font-size="11.5" text-anchor="middle" textLength="98" lengthAdjust="spacingAndGlyphs" stroke="#000" stroke-width="0.22">MASTER BEDROOM</text>
<text x="1599.4" y="764" font-size="11.5" text-anchor="middle" textLength="66" lengthAdjust="spacingAndGlyphs" stroke="#000" stroke-width="0.22">SLOPED CLG.</text>
<rect x="1551.6" y="991.5" width="78.2" height="29" fill="none" stroke="#000" stroke-width="0.9"/>
<line x1="1551.6" y1="1006.2" x2="1629.8" y2="1006.2" stroke="#000" stroke-width="0.9"/>
<text x="1590.7" y="1003" font-size="11.5" text-anchor="middle" textLength="68" lengthAdjust="spacingAndGlyphs" stroke="#000" stroke-width="0.22">MASTER CLO.</text>
<text x="1590.7" y="1017.1" font-size="11.5" text-anchor="middle" textLength="33" lengthAdjust="spacingAndGlyphs" stroke="#000" stroke-width="0.22">9&#x27; CLG.</text>
<rect x="1783.7" y="865.4" width="77.7" height="29" fill="none" stroke="#000" stroke-width="0.9"/>
<line x1="1783.7" y1="879.8" x2="1861.4" y2="879.8" stroke="#000" stroke-width="0.9"/>
<text x="1822.6" y="876.6" font-size="11.5" text-anchor="middle" textLength="72" lengthAdjust="spacingAndGlyphs" stroke="#000" stroke-width="0.22">MASTER BATH</text>
<text x="1822.6" y="891" font-size="11.5" text-anchor="middle" textLength="33" lengthAdjust="spacingAndGlyphs" stroke="#000" stroke-width="0.22">9&#x27; CLG.</text>
<rect x="1401.3" y="983.6" width="48.9" height="28.5" fill="none" stroke="#000" stroke-width="0.9"/>
<line x1="1401.3" y1="997.2" x2="1450.2" y2="997.2" stroke="#000" stroke-width="0.9"/>
<text x="1425.8" y="994" font-size="11.5" text-anchor="middle" textLength="28" lengthAdjust="spacingAndGlyphs" stroke="#000" stroke-width="0.22">DECK</text>
<text x="1425.8" y="1008.7" font-size="11.5" text-anchor="middle" textLength="28" lengthAdjust="spacingAndGlyphs" stroke="#000" stroke-width="0.22">53 SF</text>
<text x="1449.7" y="621" font-size="12.8" text-anchor="middle" textLength="41" lengthAdjust="spacingAndGlyphs" stroke="#000" stroke-width="0.22">BUILT-IN</text>
<text x="1648.9" y="402.8" font-size="12.8" text-anchor="middle" textLength="38.6" lengthAdjust="spacingAndGlyphs" stroke="#000" stroke-width="0.22">5026 XO</text>
<text x="1785.2" y="402.8" font-size="12.8" text-anchor="middle" textLength="38.6" lengthAdjust="spacingAndGlyphs" stroke="#000" stroke-width="0.22">5050 XO</text>
<text x="1370.5" y="498.7" font-size="12.8" text-anchor="middle" transform="rotate(-90 1370.5 498.7)" textLength="38.6" lengthAdjust="spacingAndGlyphs" stroke="#000" stroke-width="0.22">5050 XO</text>
<text x="1373" y="630.9" font-size="12.8" text-anchor="middle" transform="rotate(-90 1373 630.9)" textLength="73.2" lengthAdjust="spacingAndGlyphs" stroke="#000" stroke-width="0.22">8&#x27; PLATE HERE</text>
<text x="1363.5" y="753.3" font-size="12.8" text-anchor="middle" transform="rotate(-90 1363.5 753.3)" textLength="82.5" lengthAdjust="spacingAndGlyphs" stroke="#000" stroke-width="0.22">JULIET BALCONY</text>
<text x="1397.5" y="753.3" font-size="12.8" text-anchor="middle" transform="rotate(-90 1397.5 753.3)" textLength="95.7" lengthAdjust="spacingAndGlyphs" stroke="#000" stroke-width="0.22">(N) 8070 SGD TEMP.</text>
<text x="1687.2" y="725.2" font-size="12.8" text-anchor="middle" transform="rotate(-90 1687.2 725.2)" textLength="83.3" lengthAdjust="spacingAndGlyphs" stroke="#000" stroke-width="0.22">ENTERTAINMENT</text>
<text x="1429.1" y="841.8" font-size="12.8" text-anchor="middle" textLength="47.5" lengthAdjust="spacingAndGlyphs" stroke="#000" stroke-width="0.22">3050 CAS.</text>
<text x="1429.1" y="855.9" font-size="12.8" text-anchor="middle" textLength="30" lengthAdjust="spacingAndGlyphs" stroke="#000" stroke-width="0.22">TEMP.</text>
<text x="1446.9" y="892.5" font-size="12.8" text-anchor="middle" textLength="22" lengthAdjust="spacingAndGlyphs" stroke="#000" stroke-width="0.22">2680</text>
<text x="1446.9" y="906.5" font-size="12.8" text-anchor="middle" textLength="69.2" lengthAdjust="spacingAndGlyphs" stroke="#000" stroke-width="0.22">FR. DR. TEMP.</text>
<text x="1427.2" y="1024.5" font-size="12.8" text-anchor="middle" textLength="39" lengthAdjust="spacingAndGlyphs" stroke="#000" stroke-width="0.22">TOP W/</text>
<text x="1427.2" y="1038.5" font-size="12.8" text-anchor="middle" textLength="61" lengthAdjust="spacingAndGlyphs" stroke="#000" stroke-width="0.22">DEX-O-TEX</text>
<text x="1427.2" y="1051.5" font-size="12.8" text-anchor="middle" textLength="73.7" lengthAdjust="spacingAndGlyphs" stroke="#000" stroke-width="0.22">ICC-ESR 1757</text>
<text x="1393.4" y="1075.1" font-size="12.8" text-anchor="middle" textLength="37" lengthAdjust="spacingAndGlyphs" stroke="#000" stroke-width="0.22">LEDGE</text>
<text x="1750.8" y="1030.3" font-size="12.8" text-anchor="middle" textLength="44" lengthAdjust="spacingAndGlyphs" stroke="#000" stroke-width="0.22">2650 CAS.</text>
<text x="1823.2" y="1030.3" font-size="12.8" text-anchor="middle" textLength="36" lengthAdjust="spacingAndGlyphs" stroke="#000" stroke-width="0.22">4026 XO</text>
<text x="1557.5" y="842.4" font-size="9.6" textLength="83" lengthAdjust="spacingAndGlyphs" stroke="#000" stroke-width="0.22">LANDING ON EACH</text>
<text x="1557.5" y="853.4" font-size="9.6" textLength="84.4" lengthAdjust="spacingAndGlyphs" stroke="#000" stroke-width="0.22">SIDE OF EXTERIOR</text>
<text x="1557.5" y="864.3" font-size="9.6" textLength="93.4" lengthAdjust="spacingAndGlyphs" stroke="#000" stroke-width="0.22">DOORS SHALL BE 36&quot;</text>
<text x="1557.5" y="875.2" font-size="9.6" textLength="89.8" lengthAdjust="spacingAndGlyphs" stroke="#000" stroke-width="0.22">DEEP MIN. BY DOOR</text>
<text x="1557.5" y="886.2" font-size="9.6" textLength="84.4" lengthAdjust="spacingAndGlyphs" stroke="#000" stroke-width="0.22">WIDTH LONG MIN. ;</text>
<text x="1557.5" y="897.1" font-size="9.6" textLength="75.1" lengthAdjust="spacingAndGlyphs" stroke="#000" stroke-width="0.22">SLOPE ¼:12 MAX.</text>
<polyline points="1554.6,867.7 1529.9,867.7 1512.4,878.4" fill="none" stroke="#000" stroke-width="0.9"/>
<path d="M1512.4,878.4 l6.5,-1.2 l-2.4,-3.9 Z" fill="#000" stroke="#000" stroke-width="0.5" />
<line x1="1482.6" y1="864.9" x2="1524" y2="864.9" stroke="#000" stroke-width="0.9" stroke-dasharray="16 5"/>
<text x="1185.7" y="1136.6" font-size="9.3" stroke="#000" stroke-width="0.22">GUARDRAIL TO BE 42&quot;</text>
<text x="1185.7" y="1147.6" font-size="9.3" stroke="#000" stroke-width="0.22">ABOVE F.F. W/ MAX.</text>
<text x="1185.7" y="1158.7" font-size="9.3" stroke="#000" stroke-width="0.22">OPENING NOT ALLOWING</text>
<text x="1185.7" y="1169.7" font-size="9.3" stroke="#000" stroke-width="0.22">A 4&quot; SPHERE TO PASS</text>
<text x="1185.7" y="1180.7" font-size="9.3" stroke="#000" stroke-width="0.22">THROUGH AT ANY POINT.</text>
<polyline points="1301.2,1155.6 1325.8,1155.6 1377.9,1032.3" fill="none" stroke="#000" stroke-width="0.9"/>
<path d="M1377.9,1032.3 l-0.6,6.6 l-4.3,-1.8 Z" fill="#000" stroke="#000" stroke-width="0.5" />
<text x="1701.2" y="1178.3" font-size="12" textLength="165" lengthAdjust="spacingAndGlyphs" stroke="#000" stroke-width="0.22">BATHROOM SHALL BE PROVIDED</text>
<text x="1701.2" y="1192.1" font-size="12" textLength="172.4" lengthAdjust="spacingAndGlyphs" stroke="#000" stroke-width="0.22">WITH GRAB BAR REINFORCEMENT</text>
<text x="1701.2" y="1205.8" font-size="12" textLength="170" lengthAdjust="spacingAndGlyphs" stroke="#000" stroke-width="0.22">INSTALLED IN ACCORDANCE WITH</text>
<text x="1701.2" y="1219.6" font-size="12" textLength="151.5" lengthAdjust="spacingAndGlyphs" stroke="#000" stroke-width="0.22">CRC SEC. R327.1.1; SEE 7/A-7.1.</text>
<polyline points="1699,1196 1660.3,1196 1757.3,991.5" fill="none" stroke="#000" stroke-width="0.9"/>
<polyline points="1753.5,988 1757.3,991.5 1759.5,986" fill="none" stroke="#000" stroke-width="0.8"/>
<line x1="1376.5" y1="873.3" x2="1376.5" y2="1056.3" stroke="#555" stroke-width="1"/>
<line x1="1379.9" y1="873.3" x2="1379.9" y2="1056.3" stroke="#555" stroke-width="1"/>
<line x1="1473.6" y1="878.4" x2="1473.6" y2="926.8" stroke="#000" stroke-width="0.9"/>
<rect x="1318.2" y="1056.3" width="175.1" height="29.5" fill="none" stroke="#000" stroke-width="0.9"/>
<line x1="1415.4" y1="878.4" x2="1415.4" y2="1056.3" stroke="#222" stroke-width="0.9" stroke-dasharray="16 4 5 4"/>
<line x1="1415.4" y1="1056.3" x2="1415.4" y2="1085.8" stroke="#000" stroke-width="0.9"/>
<line x1="1380" y1="1056.3" x2="1473.6" y2="1056.3" stroke="#000" stroke-width="0.9"/>
<polygon points="1407,948.5 1400,948.5 1400,943 1390.5,953 1400,963 1400,957.5 1407,957.5" fill="none" stroke="#000" stroke-width="0.9"/>
<text x="1403.2" y="972.7" font-size="8.5" text-anchor="middle" stroke="#000" stroke-width="0.22">¼:12</text>
<line x1="1490.5" y1="391" x2="1490.5" y2="425" stroke="#000" stroke-width="0.8"/>
<circle cx="1490.5" cy="379.1" r="12.5" fill="#fff" stroke="#000" stroke-width="0.9"/>
<line x1="1478" y1="379.1" x2="1503" y2="379.1" stroke="#000" stroke-width="0.8"/>
<text x="1490.5" y="376.6" font-size="7.5" text-anchor="middle" stroke="#000" stroke-width="0.22">2</text>
<text x="1490.5" y="387.6" font-size="7.5" text-anchor="middle" textLength="19" lengthAdjust="spacingAndGlyphs" stroke="#000" stroke-width="0.22">A-7.1</text>
<line x1="1360" y1="573.7" x2="1393.4" y2="573.7" stroke="#000" stroke-width="0.8"/>
<circle cx="1347.5" cy="572.6" r="12.5" fill="#fff" stroke="#000" stroke-width="0.9"/>
<line x1="1335" y1="572.6" x2="1360" y2="572.6" stroke="#000" stroke-width="0.8"/>
<text x="1347.5" y="570.1" font-size="7.5" text-anchor="middle" stroke="#000" stroke-width="0.22">2</text>
<text x="1347.5" y="581.1" font-size="7.5" text-anchor="middle" textLength="19" lengthAdjust="spacingAndGlyphs" stroke="#000" stroke-width="0.22">A-7.1</text>
<line x1="1456" y1="960.6" x2="1490.5" y2="960.6" stroke="#000" stroke-width="0.8"/>
<circle cx="1444" cy="960.6" r="12.5" fill="#fff" stroke="#000" stroke-width="0.9"/>
<line x1="1431.5" y1="960.6" x2="1456.5" y2="960.6" stroke="#000" stroke-width="0.8"/>
<text x="1444" y="958.1" font-size="7.5" text-anchor="middle" stroke="#000" stroke-width="0.22">2</text>
<text x="1444" y="969.1" font-size="7.5" text-anchor="middle" textLength="19" lengthAdjust="spacingAndGlyphs" stroke="#000" stroke-width="0.22">A-7.1</text>
<line x1="1574.9" y1="1059.1" x2="1574.9" y2="1093" stroke="#000" stroke-width="0.8"/>
<circle cx="1574.9" cy="1105" r="12.5" fill="#fff" stroke="#000" stroke-width="0.9"/>
<line x1="1562.4" y1="1105" x2="1587.4" y2="1105" stroke="#000" stroke-width="0.8"/>
<text x="1574.9" y="1102.5" font-size="7.5" text-anchor="middle" stroke="#000" stroke-width="0.22">2</text>
<text x="1574.9" y="1113.5" font-size="7.5" text-anchor="middle" textLength="19" lengthAdjust="spacingAndGlyphs" stroke="#000" stroke-width="0.22">A-7.1</text>
<line x1="1273.2" y1="720" x2="1273.2" y2="749.6" stroke="#000" stroke-width="1"/>
<line x1="1273.2" y1="749.6" x2="1468" y2="749.6" stroke="#333" stroke-width="1.1" stroke-dasharray="20 6"/>
<polygon points="1243.7,701.2 1273.2,671.7 1302.7,701.2" fill="url(#hatu)" stroke="#000" stroke-width="0.9"/>
<circle cx="1273.2" cy="701.2" r="19.4" fill="#fff" stroke="#000" stroke-width="1"/>
<line x1="1253.8" y1="701.2" x2="1292.6" y2="701.2" stroke="#000" stroke-width="1"/>
<text x="1273.2" y="695.5" font-size="10.2" text-anchor="middle" stroke="#000" stroke-width="0.22">A</text>
<text x="1273.2" y="713.8" font-size="10.2" text-anchor="middle" stroke="#000" stroke-width="0.22">A-6</text>
<line x1="1587.5" y1="1076" x2="1587.5" y2="1217.1" stroke="#333" stroke-width="1.1" stroke-dasharray="20 6"/>
<line x1="1587.5" y1="1020" x2="1587.5" y2="1076" stroke="#000" stroke-width="0.9"/>
<line x1="1587.5" y1="1217.1" x2="1617" y2="1217.1" stroke="#000" stroke-width="1"/>
<polygon points="1636,1187.6 1665.5,1217.1 1636,1246.6" fill="url(#hat)" stroke="#000" stroke-width="0.9"/>
<circle cx="1636" cy="1217.1" r="19.4" fill="#fff" stroke="#000" stroke-width="1"/>
<line x1="1616.6" y1="1217.1" x2="1655.4" y2="1217.1" stroke="#000" stroke-width="1"/>
<text x="1636" y="1211.4" font-size="10.2" text-anchor="middle" stroke="#000" stroke-width="0.22">B</text>
<text x="1636" y="1229.7" font-size="10.2" text-anchor="middle" stroke="#000" stroke-width="0.22">A-6</text>
<rect x="1703.8" y="355.5" width="95.7" height="49" fill="url(#stip)" stroke="none" stroke-width="0"/>
<rect x="1703.8" y="355.5" width="95.7" height="49" fill="url(#stip)" stroke="none" stroke-width="0"/>
<rect x="1703.8" y="355.5" width="95.7" height="49" fill="none" stroke="#333" stroke-width="1"/>
<polyline points="1706.5,404.5 1706.5,358.2 1796.8,358.2 1796.8,404.5" fill="none" stroke="#7c7c7c" stroke-width="1.6"/>
<rect x="2023.2" y="394.9" width="139.3" height="3.4" fill="none" stroke="#c4c4c4" stroke-width="1"/>
<rect x="2023.2" y="394.9" width="5.7" height="100.5" fill="none" stroke="#c4c4c4" stroke-width="1"/>
<line x1="2066.9" y1="398.3" x2="2066.9" y2="495.4" stroke="#c4c4c4" stroke-width="1"/>
<line x1="2069.7" y1="398.3" x2="2069.7" y2="495.4" stroke="#c4c4c4" stroke-width="1"/>
<line x1="2157.8" y1="394.9" x2="2157.8" y2="498" stroke="#c4c4c4" stroke-width="1"/>
<line x1="2162.5" y1="394.9" x2="2162.5" y2="498" stroke="#c4c4c4" stroke-width="1"/>
<line x1="2023.2" y1="495.4" x2="2162.5" y2="495.4" stroke="#c4c4c4" stroke-width="1"/>
<line x1="2023.2" y1="492.5" x2="2162.5" y2="492.5" stroke="#c4c4c4" stroke-width="1"/>
<rect x="2034.5" y="404.5" width="25.9" height="38.8" fill="none" stroke="#c4c4c4" stroke-width="1"/>
<rect x="2034.5" y="449.5" width="25.9" height="38.8" fill="none" stroke="#c4c4c4" stroke-width="1"/>
<rect x="2036.5" y="406.5" width="21.9" height="34.8" fill="none" stroke="#d6d6d6" stroke-width="0.8"/>
<rect x="2036.5" y="451.5" width="21.9" height="34.8" fill="none" stroke="#d6d6d6" stroke-width="0.8"/>
<line x1="2075.3" y1="412.3" x2="2096.4" y2="495.4" stroke="#c4c4c4" stroke-width="1"/>
<line x1="2085.1" y1="412.3" x2="2106.3" y2="495.4" stroke="#c4c4c4" stroke-width="1"/>
<rect x="2023.2" y="501" width="25.9" height="26.2" fill="none" stroke="#c4c4c4" stroke-width="1"/>
<text x="2152" y="446.1" font-size="11" text-anchor="middle" transform="rotate(-90 2152 446.1)" textLength="34" lengthAdjust="spacingAndGlyphs" fill="#c4c4c4" stroke="#c4c4c4" stroke-width="0.22">QUEEN</text>
<polyline points="2292.6,304.5 2376.4,304.5 2376.4,468 2171,947.8 2011.4,947.8" fill="none" stroke="#cfcfcf" stroke-width="1.2"/>
<polyline points="2292.6,304.5 2292.6,318 2357.6,318 2357.6,382.8" fill="none" stroke="#cfcfcf" stroke-width="1.2"/>
<path d="M1994.5,412 L1994.5,729 Q1994.5,737 2003,737 L2143,737 Q2150,737 2153,730 L2197,626 Q2200,619 2200,611 L2200,410" fill="none" stroke="#c2c2c2" stroke-width="6.2" stroke-dasharray="15.5 7" />
<circle cx="2200" cy="403.5" r="7" fill="#c2c2c2" stroke="none" stroke-width="0"/>
<polyline points="1985,409.5 1994.5,400 2004,409.5" fill="none" stroke="#c2c2c2" stroke-width="5"/>
<line x1="1943.9" y1="400.5" x2="1943.9" y2="612.6" stroke="#000" stroke-width="0.9" stroke-dasharray="12 5"/>
<line x1="1943.9" y1="400.5" x2="2011.4" y2="400.5" stroke="#000" stroke-width="0.9" stroke-dasharray="12 5"/>
<line x1="1943.9" y1="418.3" x2="2011.4" y2="418.3" stroke="#000" stroke-width="0.9" stroke-dasharray="12 5"/>
<line x1="1943.9" y1="436.1" x2="2011.4" y2="436.1" stroke="#000" stroke-width="0.9" stroke-dasharray="12 5"/>
<line x1="1943.9" y1="453.9" x2="2011.4" y2="453.9" stroke="#000" stroke-width="0.9" stroke-dasharray="12 5"/>
<line x1="1943.9" y1="471.7" x2="2011.4" y2="471.7" stroke="#000" stroke-width="0.9" stroke-dasharray="12 5"/>
<line x1="1943.9" y1="489.5" x2="2011.4" y2="489.5" stroke="#000" stroke-width="0.9" stroke-dasharray="12 5"/>
<line x1="1943.9" y1="507.3" x2="2011.4" y2="507.3" stroke="#000" stroke-width="0.9" stroke-dasharray="12 5"/>
<line x1="1943.9" y1="525.1" x2="2011.4" y2="525.1" stroke="#000" stroke-width="0.9" stroke-dasharray="12 5"/>
<line x1="1943.9" y1="542.9" x2="2011.4" y2="542.9" stroke="#000" stroke-width="0.9" stroke-dasharray="12 5"/>
<line x1="1943.9" y1="560.7" x2="2011.4" y2="560.7" stroke="#000" stroke-width="0.9" stroke-dasharray="12 5"/>
<line x1="1943.9" y1="578.5" x2="2011.4" y2="578.5" stroke="#000" stroke-width="0.9" stroke-dasharray="12 5"/>
<line x1="1943.9" y1="596.3" x2="2011.4" y2="596.3" stroke="#000" stroke-width="0.9" stroke-dasharray="12 5"/>
<line x1="1943.9" y1="612.6" x2="2011.4" y2="545" stroke="#000" stroke-width="0.9"/>
<line x1="1943.6" y1="612.6" x2="1943.6" y2="781.5" stroke="#000" stroke-width="0.9"/>
<line x1="1946.2" y1="612.6" x2="1946.2" y2="779.2" stroke="#000" stroke-width="0.8"/>
<line x1="1948.8" y1="612.6" x2="1948.8" y2="776.7" stroke="#000" stroke-width="0.9"/>
<line x1="1943.6" y1="781.5" x2="2011.4" y2="781.5" stroke="#000" stroke-width="0.9"/>
<line x1="1946.2" y1="779.2" x2="2011.4" y2="779.2" stroke="#000" stroke-width="0.8"/>
<line x1="1948.8" y1="776.7" x2="2011.4" y2="776.7" stroke="#000" stroke-width="0.9"/>
<line x1="1943.9" y1="612.6" x2="2011.4" y2="612.6" stroke="#000" stroke-width="0.9"/>
<line x1="1948.8" y1="630.9" x2="2011.4" y2="630.9" stroke="#000" stroke-width="0.9"/>
<line x1="1948.8" y1="648.6" x2="2011.4" y2="648.6" stroke="#000" stroke-width="0.9"/>
<line x1="1948.8" y1="666.6" x2="2011.4" y2="666.6" stroke="#000" stroke-width="0.9"/>
<line x1="1948.8" y1="684.3" x2="2011.4" y2="684.3" stroke="#000" stroke-width="0.9"/>
<polyline points="2011.4,694.2 1962.7,694.2 1962.7,771.6 2011.4,771.6" fill="none" stroke="#000" stroke-width="1" stroke-dasharray="20 4 5 4"/>
<circle cx="1977.6" cy="684.3" r="2.8" fill="none" stroke="#000" stroke-width="0.8"/>
<line x1="1977.6" y1="595.7" x2="1977.6" y2="684.3" stroke="#000" stroke-width="0.9"/>
<polyline points="1969.8,603 1977.6,595.7 1985.4,603" fill="none" stroke="#000" stroke-width="2.2"/>
<text x="1977.6" y="696.4" font-size="12.8" text-anchor="middle" textLength="14" lengthAdjust="spacingAndGlyphs" stroke="#000" stroke-width="0.22">DN</text>
<text x="1968.3" y="485" font-size="12.8" text-anchor="middle" transform="rotate(-90 1968.3 485)" textLength="156.6" lengthAdjust="spacingAndGlyphs" stroke="#000" stroke-width="0.22">STAIRS: STEEL STRINGERS AND</text>
<text x="1983" y="484.7" font-size="12.8" text-anchor="middle" transform="rotate(-90 1983 484.7)" textLength="167.4" lengthAdjust="spacingAndGlyphs" stroke="#000" stroke-width="0.22">FIRE-RETARDANT WOOD TREADS.</text>
<polygon points="2011.4,382.8 2171,382.8 2171,391.8 2011.4,391.8" fill="#c2c2c2" stroke="#111" stroke-width="1.3" stroke-linejoin="miter"/>
<polygon points="2219.7,382.8 2357.6,382.8 2357.6,391.8 2219.7,391.8" fill="#c2c2c2" stroke="#111" stroke-width="1.3" stroke-linejoin="miter"/>
<polygon points="2351.5,383.8 2357.6,383.8 2357.6,450.3 2158.1,928.1 2154.4,922.2 2351.5,451.6" fill="#c2c2c2" stroke="#111" stroke-width="1.3" stroke-linejoin="miter"/>
<polygon points="2011.4,382.8 2020.4,382.8 2020.4,657 2011.4,657" fill="#c2c2c2" stroke="#111" stroke-width="1.3" stroke-linejoin="miter"/>
<polygon points="2011.4,766.3 2020.4,766.3 2020.4,802.6 2011.4,802.6" fill="#c2c2c2" stroke="#111" stroke-width="1.3" stroke-linejoin="miter"/>
<polygon points="2011.4,851.9 2020.4,851.9 2020.4,922.2 2154.6,922.2 2159.1,928.1 2011.4,928.1" fill="#c2c2c2" stroke="#111" stroke-width="1.3" stroke-linejoin="miter"/>
<polygon points="2224.5,383.8 2230.7,383.8 2230.7,474.8 2224.5,474.8" fill="#c2c2c2" stroke="#111" stroke-width="1.3" stroke-linejoin="miter"/>
<polygon points="2224.5,523.1 2230.7,523.1 2230.7,585.8 2296,585.8 2293.6,591.5 2224.5,591.5" fill="#c2c2c2" stroke="#111" stroke-width="1.3" stroke-linejoin="miter"/>
<polygon points="2012.1,383.5 2170.3,383.5 2170.3,391.1 2012.1,391.1" fill="#c2c2c2" stroke="none" transform="translate(0,0)" style="paint-order:stroke"/>
<polygon points="2220.4,383.5 2356.9,383.5 2356.9,391.1 2220.4,391.1" fill="#c2c2c2" stroke="none" transform="translate(0,0)" style="paint-order:stroke"/>
<polygon points="2352.2,384.5 2356.9,384.5 2356.9,450.2 2158,926.6 2155.2,922.1 2352.2,451.7" fill="#c2c2c2" stroke="none" transform="translate(0,0)" style="paint-order:stroke"/>
<polygon points="2012.1,383.5 2019.7,383.5 2019.7,656.3 2012.1,656.3" fill="#c2c2c2" stroke="none" transform="translate(0,0)" style="paint-order:stroke"/>
<polygon points="2012.1,767 2019.7,767 2019.7,801.9 2012.1,801.9" fill="#c2c2c2" stroke="none" transform="translate(0,0)" style="paint-order:stroke"/>
<polygon points="2012.1,852.6 2019.7,852.6 2019.7,922.9 2154.3,922.9 2157.7,927.4 2012.1,927.4" fill="#c2c2c2" stroke="none" transform="translate(0,0)" style="paint-order:stroke"/>
<polygon points="2225.2,384.5 2230,384.5 2230,474.1 2225.2,474.1" fill="#c2c2c2" stroke="none" transform="translate(0,0)" style="paint-order:stroke"/>
<polygon points="2225.2,523.8 2230,523.8 2230,586.5 2295,586.5 2293.2,590.8 2225.2,590.8" fill="#c2c2c2" stroke="none" transform="translate(0,0)" style="paint-order:stroke"/>
<rect x="2171" y="382.8" width="48.7" height="9" fill="#fff" stroke="none" stroke-width="0"/>
<line x1="2171" y1="382.8" x2="2219.7" y2="382.8" stroke="#000" stroke-width="1.1"/>
<line x1="2171" y1="391.8" x2="2219.7" y2="391.8" stroke="#000" stroke-width="1.1"/>
<line x1="2172" y1="386.9" x2="2218.7" y2="386.9" stroke="#777" stroke-width="1.8"/>
<line x1="2172" y1="382.8" x2="2172" y2="391.8" stroke="#444" stroke-width="1.2"/>
<line x1="2218.7" y1="382.8" x2="2218.7" y2="391.8" stroke="#444" stroke-width="1.2"/>
<rect x="2011.4" y="657" width="9" height="48.8" fill="#fff" stroke="none" stroke-width="0"/>
<line x1="2011.4" y1="657" x2="2011.4" y2="705.8" stroke="#000" stroke-width="1.1"/>
<line x1="2020.4" y1="657" x2="2020.4" y2="705.8" stroke="#000" stroke-width="1.1"/>
<line x1="2015.5" y1="658" x2="2015.5" y2="704.8" stroke="#777" stroke-width="1.8"/>
<line x1="2011.4" y1="658" x2="2020.4" y2="658" stroke="#444" stroke-width="1.2"/>
<line x1="2011.4" y1="704.8" x2="2020.4" y2="704.8" stroke="#444" stroke-width="1.2"/>
<rect x="2011.4" y="802.6" width="9" height="49.3" fill="#fff" stroke="none" stroke-width="0"/>
<line x1="2011.4" y1="802.6" x2="2011.4" y2="851.9" stroke="#000" stroke-width="1.1"/>
<line x1="2020.4" y1="802.6" x2="2020.4" y2="851.9" stroke="#000" stroke-width="1.1"/>
<line x1="2015.5" y1="803.6" x2="2015.5" y2="850.9" stroke="#777" stroke-width="1.8"/>
<line x1="2011.4" y1="803.6" x2="2020.4" y2="803.6" stroke="#444" stroke-width="1.2"/>
<line x1="2011.4" y1="850.9" x2="2020.4" y2="850.9" stroke="#444" stroke-width="1.2"/>
<rect x="2011.4" y="705.8" width="9" height="2.8" fill="#c2c2c2" stroke="#000" stroke-width="0.9"/>
<rect x="2230.7" y="391.8" width="120.4" height="52.9" fill="none" stroke="#000" stroke-width="0.9"/>
<line x1="2230.7" y1="391.8" x2="2351.1" y2="444.7" stroke="#000" stroke-width="0.9"/>
<line x1="2230.7" y1="444.7" x2="2351.1" y2="391.8" stroke="#000" stroke-width="0.9"/>
<line x1="2230.7" y1="449.5" x2="2351.1" y2="449.5" stroke="#000" stroke-width="0.9"/>
<rect x="2330.6" y="444.7" width="20.5" height="4.8" fill="#c2c2c2" stroke="#000" stroke-width="0.9"/>
<line x1="2330.6" y1="449.5" x2="2330.6" y2="462" stroke="#000" stroke-width="0.9"/>
<line x1="2230.7" y1="450.3" x2="2411.6" y2="450.3" stroke="#000" stroke-width="0.9"/>
<rect x="2230.7" y="474.3" width="47.8" height="2.3" fill="none" stroke="#000" stroke-width="0.8"/>
<path d="M2278.5,474.8 A47.8,47.8 0 0 1 2230.7,522.6" fill="none" stroke="#000" stroke-width="0.9" />
<text x="2253.2" y="486.4" font-size="12.8" text-anchor="middle" textLength="22" lengthAdjust="spacingAndGlyphs" stroke="#000" stroke-width="0.22">2680</text>
<ellipse cx="2299.6" cy="473.7" rx="14.6" ry="12.1" fill="none" stroke="#000" stroke-width="0.9"/>
<rect x="2315.9" y="456" width="14.7" height="35.7" fill="none" stroke="#000" stroke-width="0.9"/>
<line x1="2230.7" y1="548.4" x2="2309.6" y2="548.4" stroke="#000" stroke-width="0.9"/>
<rect x="2251.2" y="552.1" width="39.4" height="29" fill="none" stroke="#000" stroke-width="0.9" rx="4"/>
<ellipse cx="2270.9" cy="563.8" rx="12" ry="8.6" fill="none" stroke="#000" stroke-width="0.9"/>
<circle cx="2270.9" cy="564.5" r="1" fill="none" stroke="#000" stroke-width="0.7"/>
<text x="2263.4" y="577.5" font-size="7" text-anchor="middle" font-weight="bold" stroke="#000" stroke-width="0.22">x</text>
<text x="2270.9" y="577.5" font-size="7" text-anchor="middle" font-weight="bold" stroke="#000" stroke-width="0.22">x</text>
<text x="2278.4" y="577.5" font-size="7" text-anchor="middle" font-weight="bold" stroke="#000" stroke-width="0.22">x</text>
<polyline points="2239.4,591.5 2239.4,620.5 2279.5,620.5" fill="none" stroke="#000" stroke-width="0.9"/>
<line x1="2239.4" y1="618.3" x2="2280.5" y2="618.3" stroke="#000" stroke-width="0.8"/>
<text x="2263.9" y="608.9" font-size="12.8" text-anchor="middle" textLength="21" lengthAdjust="spacingAndGlyphs" stroke="#000" stroke-width="0.22">CAB.</text>
<line x1="2020.4" y1="591.5" x2="2225" y2="591.5" stroke="#000" stroke-width="0.9"/>
<line x1="2020.4" y1="585.8" x2="2225" y2="585.8" stroke="#000" stroke-width="0.9" stroke-dasharray="9 4"/>
<rect x="2020.4" y="586.3" width="9.6" height="5.2" fill="#c2c2c2" stroke="#000" stroke-width="0.8"/>
<rect x="2031" y="587.3" width="47" height="2.2" fill="none" stroke="#000" stroke-width="0.7"/>
<rect x="2080" y="587.3" width="47" height="2.2" fill="none" stroke="#000" stroke-width="0.7"/>
<rect x="2128" y="587.3" width="48" height="2.2" fill="none" stroke="#000" stroke-width="0.7"/>
<text x="2022.7" y="583.7" font-size="12.8" textLength="173.6" lengthAdjust="spacingAndGlyphs" stroke="#000" stroke-width="0.22">10&#x27;X8&#x27; SLIDING GLASS PARTITION TEMP.</text>
<line x1="2241.5" y1="620.5" x2="2197" y2="727.2" stroke="#000" stroke-width="0.9"/>
<line x1="2260.5" y1="620.5" x2="2213.3" y2="733.7" stroke="#000" stroke-width="0.9" stroke-dasharray="9 4"/>
<polygon points="2189.4,729.1 2229.8,744 2208.4,791.4 2168.4,775.6" fill="#fff" stroke="#000" stroke-width="0.9"/>
<line x1="2194.4" y1="727.2" x2="2230.7" y2="740.2" stroke="#000" stroke-width="0.9"/>
<line x1="2193.5" y1="730" x2="2229.2" y2="743" stroke="#000" stroke-width="0.9"/>
<line x1="2172.1" y1="780.6" x2="2208" y2="794.2" stroke="#000" stroke-width="0.9"/>
<line x1="2170.8" y1="783" x2="2206.5" y2="796.4" stroke="#000" stroke-width="0.9"/>
<line x1="2187.5" y1="728.5" x2="2166.5" y2="776.5" stroke="#000" stroke-width="0.9"/>
<circle cx="2190.6" cy="731.5" r="1.8" fill="none" stroke="#000" stroke-width="0.8"/>
<circle cx="2168.8" cy="773.5" r="1.8" fill="none" stroke="#000" stroke-width="0.8"/>
<text x="2201.5" y="763" font-size="12.8" text-anchor="middle" transform="rotate(-65.7 2201.5 763)" textLength="39.6" lengthAdjust="spacingAndGlyphs" stroke="#000" stroke-width="0.22">30&quot; REF</text>
<line x1="2171" y1="784" x2="2150.3" y2="830.5" stroke="#000" stroke-width="0.9"/>
<line x1="2189.5" y1="791" x2="2168.5" y2="837.5" stroke="#000" stroke-width="0.9" stroke-dasharray="9 4"/>
<polygon points="2148.8,830.5 2183.3,844.8 2166.1,886.3 2131.2,872" fill="none" stroke="#000" stroke-width="0.9"/>
<line x1="2152.3" y1="832" x2="2135" y2="873.6" stroke="#000" stroke-width="0.9"/>
<line x1="2150.6" y1="835.5" x2="2135" y2="872" stroke="#000" stroke-width="2.2" stroke-dasharray="3 2"/>
<circle cx="2156.8" cy="847.8" r="6.5" fill="none" stroke="#000" stroke-width="0.9"/>
<circle cx="2170.2" cy="851.9" r="5.2" fill="none" stroke="#000" stroke-width="0.9"/>
<circle cx="2146.4" cy="867.7" r="5.2" fill="none" stroke="#000" stroke-width="0.9"/>
<circle cx="2160.9" cy="871.4" r="6.5" fill="none" stroke="#000" stroke-width="0.9"/>
<text x="2113.5" y="839.8" font-size="8.6" text-anchor="middle" transform="rotate(-65.7 2113.5 839.8)" textLength="74.5" lengthAdjust="spacingAndGlyphs" stroke="#000" stroke-width="0.22">RANGE W/ 280 CFM</text>
<text x="2124" y="844.5" font-size="8.6" text-anchor="middle" transform="rotate(-65.7 2124 844.5)" textLength="73.7" lengthAdjust="spacingAndGlyphs" stroke="#000" stroke-width="0.22">HOOD DUCTED TO</text>
<text x="2134.5" y="849.5" font-size="8.6" text-anchor="middle" transform="rotate(-65.7 2134.5 849.5)" textLength="42.8" lengthAdjust="spacingAndGlyphs" stroke="#000" stroke-width="0.22">EXTERIOR</text>
<polyline points="2020.4,770.9 2059.5,770.9 2059.5,884.4 2128.4,884.4 2134,871.5" fill="none" stroke="#000" stroke-width="0.9"/>
<polyline points="2020.4,856.5 2039.6,856.5 2039.6,903.4 2142.3,903.4 2151.5,881.5" fill="none" stroke="#000" stroke-width="0.9" stroke-dasharray="8 4"/>
<rect x="2021.4" y="775.6" width="39.1" height="28.8" fill="none" stroke="#555" stroke-width="1.1" stroke-dasharray="6 3"/>
<text x="2037.5" y="789.9" font-size="12.8" text-anchor="middle" transform="rotate(-90 2037.5 789.9)" textLength="15" lengthAdjust="spacingAndGlyphs" stroke="#000" stroke-width="0.22">18&quot;</text>
<text x="2051.5" y="789.9" font-size="12.8" text-anchor="middle" transform="rotate(-90 2051.5 789.9)" textLength="15" lengthAdjust="spacingAndGlyphs" stroke="#000" stroke-width="0.22">DW</text>
<rect x="2025.1" y="808.1" width="30.7" height="39.1" fill="none" stroke="#333" stroke-width="0.9" rx="3"/>
<rect x="2031.6" y="810" width="23.3" height="35.4" fill="none" stroke="#333" stroke-width="0.9" rx="4"/>
<path d="M2027,820 h3.5 v15 h-3.5 Z M2030.5,827.6 h7 M2033.5,824.5 v6" fill="none" stroke="#333" stroke-width="0.8" />
<circle cx="2043" cy="827.6" r="1.2" fill="none" stroke="#000" stroke-width="0.7"/>
<text x="2009" y="827.9" font-size="12.8" text-anchor="middle" transform="rotate(-90 2009 827.9)" textLength="46" lengthAdjust="spacingAndGlyphs" stroke="#000" stroke-width="0.22">2650 S.H.</text>
<rect x="2021" y="880.7" width="7.9" height="22.3" fill="none" stroke="#000" stroke-width="0.9"/>
<line x1="2021" y1="880.7" x2="2028.9" y2="903" stroke="#000" stroke-width="0.8"/>
<line x1="2021" y1="903" x2="2028.9" y2="880.7" stroke="#000" stroke-width="0.8"/>
<polyline points="2024.8,905 2024.8,994.3 2059.8,994.3" fill="none" stroke="#000" stroke-width="0.9"/>
<path d="M2024.8,904 l-2.2,7 h4.4 Z" fill="#000" stroke="#000" stroke-width="0.5" />
<text x="2063.2" y="998" font-size="12.8" textLength="66" lengthAdjust="spacingAndGlyphs" stroke="#000" stroke-width="0.22">RHEEM RTEX18</text>
<text x="2063.2" y="1012" font-size="12.8" textLength="118.5" lengthAdjust="spacingAndGlyphs" stroke="#000" stroke-width="0.22">TANKLESS WATER HEATER,</text>
<text x="2063.2" y="1025.9" font-size="12.8" textLength="69.5" lengthAdjust="spacingAndGlyphs" stroke="#000" stroke-width="0.22">w/ DIRECT VENT</text>
<rect x="2206" y="813.5" width="6" height="6.5" fill="none" stroke="#000" stroke-width="0.8" transform="rotate(23 2209 816.7)"/>
<text x="2212.7" y="825.6" font-size="10.5" textLength="12" lengthAdjust="spacingAndGlyphs" stroke="#000" stroke-width="0.22">DS</text>
<path d="M2020.4,707.1 A59.2,59.2 0 0 1 2061.4,724.4" fill="none" stroke="#000" stroke-width="0.9" />
<polyline points="2019.5,766.3 2061.4,724.4 2063,726 2021,768" fill="none" stroke="#000" stroke-width="0.8"/>
<line x1="2015.9" y1="708.6" x2="2015.9" y2="766.3" stroke="#000" stroke-width="0.8" stroke-dasharray="8 4"/>
<line x1="2020.4" y1="708.6" x2="2020.4" y2="766.3" stroke="#000" stroke-width="0.8" stroke-dasharray="8 4"/>
<text x="2067.5" y="731.5" font-size="12.8" text-anchor="middle" transform="rotate(-45 2067.5 731.5)" textLength="81" lengthAdjust="spacingAndGlyphs" stroke="#000" stroke-width="0.22">3080 W/ 2650 S.H.</text>
<text x="2078.5" y="740" font-size="12.8" text-anchor="middle" transform="rotate(-45 2078.5 740)" textLength="75" lengthAdjust="spacingAndGlyphs" stroke="#000" stroke-width="0.22">SIDELIGHT TEMP.</text>
<line x1="2405.4" y1="377.2" x2="2405.4" y2="934.5" stroke="#333" stroke-width="0.9"/>
<line x1="2400.9" y1="378.3" x2="2409.9" y2="387.3" stroke="#000" stroke-width="2.2" stroke-linecap="butt"/>
<line x1="2400.9" y1="445.8" x2="2409.9" y2="454.8" stroke="#000" stroke-width="2.2" stroke-linecap="butt"/>
<line x1="2400.9" y1="587" x2="2409.9" y2="596" stroke="#000" stroke-width="2.2" stroke-linecap="butt"/>
<line x1="2400.9" y1="924.3" x2="2409.9" y2="933.3" stroke="#000" stroke-width="2.2" stroke-linecap="butt"/>
<line x1="2363.8" y1="382.8" x2="2411.6" y2="382.8" stroke="#000" stroke-width="0.9"/>
<line x1="2225" y1="591.5" x2="2411.6" y2="591.5" stroke="#000" stroke-width="0.9"/>
<line x1="2164" y1="928.8" x2="2411.6" y2="928.8" stroke="#000" stroke-width="0.9"/>
<g transform="rotate(-90 2400.2 417.4)">
<text x="2386.1" y="417.4" font-size="10.5" stroke="#000" stroke-width="0.22">3&#x27;-5</text>
<text x="2407.1" y="412.8" font-size="10" text-anchor="middle" stroke="#000" stroke-width="0.22">1</text>
<line x1="2404.1" y1="413.6" x2="2410.3" y2="413.6" stroke="#000" stroke-width="0.8"/>
<text x="2407.1" y="422.7" font-size="10" text-anchor="middle" stroke="#000" stroke-width="0.22">2</text>
<text x="2410.7" y="417.2" font-size="9.0" stroke="#000" stroke-width="0.22">&quot;</text>
</g>
<g transform="rotate(-90 2400.2 520.7)">
<text x="2386.1" y="520.7" font-size="10.5" stroke="#000" stroke-width="0.22">7&#x27;-3</text>
<text x="2407.1" y="516.1" font-size="10" text-anchor="middle" stroke="#000" stroke-width="0.22">1</text>
<line x1="2404.1" y1="516.9" x2="2410.3" y2="516.9" stroke="#000" stroke-width="0.8"/>
<text x="2407.1" y="526" font-size="10" text-anchor="middle" stroke="#000" stroke-width="0.22">2</text>
<text x="2410.7" y="520.5" font-size="9.0" stroke="#000" stroke-width="0.22">&quot;</text>
</g>
<text x="2402.8" y="760.3" font-size="11" text-anchor="middle" transform="rotate(-90 2402.8 760.3)" textLength="28" lengthAdjust="spacingAndGlyphs" stroke="#000" stroke-width="0.22">17&#x27;-5&quot;</text>
<rect x="2356.7" y="371.8" width="6" height="6.5" fill="none" stroke="#000" stroke-width="0.8"/>
<text x="2365.7" y="379.1" font-size="10.5" textLength="12" lengthAdjust="spacingAndGlyphs" stroke="#000" stroke-width="0.22">DS</text>
<text x="2196.3" y="380.3" font-size="12.8" text-anchor="middle" textLength="47" lengthAdjust="spacingAndGlyphs" stroke="#000" stroke-width="0.22">2650 CAS.</text>
<rect x="2112.5" y="611.2" width="49.2" height="29" fill="none" stroke="#000" stroke-width="0.9"/>
<line x1="2112.5" y1="625.2" x2="2161.7" y2="625.2" stroke="#000" stroke-width="0.9"/>
<text x="2137.1" y="622" font-size="11.5" text-anchor="middle" textLength="30" lengthAdjust="spacingAndGlyphs" stroke="#000" stroke-width="0.22">ADU 2</text>
<text x="2137.1" y="636.8" font-size="11.5" text-anchor="middle" textLength="33" lengthAdjust="spacingAndGlyphs" stroke="#000" stroke-width="0.22">9&#x27; CLG.</text>
<text x="2137.2" y="649.7" font-size="12.8" text-anchor="middle" textLength="32" lengthAdjust="spacingAndGlyphs" stroke="#000" stroke-width="0.22">377 SF</text>
<text x="2051.4" y="603.3" font-size="8.5" text-anchor="middle" textLength="30.5" lengthAdjust="spacingAndGlyphs" stroke="#000" stroke-width="0.22">50 CFM,</text>
<text x="2052.8" y="614.5" font-size="8.5" text-anchor="middle" textLength="50.5" lengthAdjust="spacingAndGlyphs" stroke="#000" stroke-width="0.22">MAX. SONE 1</text>
<rect x="2043.5" y="616.8" width="12.9" height="12.7" fill="none" stroke="#000" stroke-width="0.9"/>
<circle cx="2050" cy="623.2" r="4.3" fill="none" stroke="#000" stroke-width="0.9"/>
<line x1="2047.4" y1="620.6" x2="2052.6" y2="625.8" stroke="#000" stroke-width="0.8"/>
<rect x="2055.6" y="391.8" width="77.4" height="19.1" fill="none" stroke="#333" stroke-width="0.9" stroke-dasharray="6 3" rx="5"/>
<text x="2091.6" y="408.8" font-size="9.2" text-anchor="middle" textLength="48.5" lengthAdjust="spacingAndGlyphs" stroke="#000" stroke-width="0.22">HVAC UNIT</text>
<text x="2063.2" y="254.2" font-size="11.4" stroke="#000" stroke-width="0.22">THICK GRAY DASHED</text>
<text x="2063.2" y="266.7" font-size="11.4" stroke="#000" stroke-width="0.22">LINE INDICATES 43&#x27;</text>
<text x="2063.2" y="280.6" font-size="11.4" stroke="#000" stroke-width="0.22">PATH OF EGRESS</text>
<text x="2063.2" y="293.6" font-size="11.4" stroke="#000" stroke-width="0.22">TRAVEL</text>
<polyline points="2060.4,269.6 2044.3,269.6 1995.1,399.7" fill="none" stroke="#000" stroke-width="0.9"/>
<path d="M1995.1,399.7 l0.3,-7.5 l4.6,1.7 Z" fill="#000" stroke="#000" stroke-width="0.5" />
<text x="2112.5" y="313" font-size="11.4" stroke="#000" stroke-width="0.22">EER 11.7</text>
<text x="2112.5" y="326.4" font-size="11.4" stroke="#000" stroke-width="0.22">SEER 14.3</text>
<text x="2112.5" y="339.7" font-size="11.4" stroke="#000" stroke-width="0.22">18,000 BTU</text>
<polyline points="2110.5,322.3 2094.4,322.3 2094.4,391.2" fill="none" stroke="#000" stroke-width="0.9"/>
<path d="M2094.4,391.8 l-2.3,-7.2 h4.6 Z" fill="#000" stroke="#000" stroke-width="0.5" />
<line x1="2301" y1="720" x2="2301" y2="749.6" stroke="#000" stroke-width="1"/>
<line x1="2106.5" y1="749.6" x2="2301" y2="749.6" stroke="#333" stroke-width="1.1" stroke-dasharray="20 6"/>
<polygon points="2271.5,701.2 2301,671.7 2330.5,701.2" fill="url(#hatu)" stroke="#000" stroke-width="0.9"/>
<circle cx="2301" cy="701.2" r="19.4" fill="#fff" stroke="#000" stroke-width="1"/>
<line x1="2281.6" y1="701.2" x2="2320.4" y2="701.2" stroke="#000" stroke-width="1"/>
<text x="2301" y="695.5" font-size="10.2" text-anchor="middle" stroke="#000" stroke-width="0.22">A</text>
<text x="2301" y="713.8" font-size="10.2" text-anchor="middle" stroke="#000" stroke-width="0.22">A-6</text>
<path d="M403.2,1404.2 L387.6,1404.2 A15.6,15.6 0 0 1 403.2,1388.6 Z" fill="url(#hatv)" stroke="none"/>
<path d="M403.2,1404.2 L418.8,1404.2 A15.6,15.6 0 0 1 403.2,1419.8 Z" fill="url(#hatv)" stroke="none"/>
<circle cx="403.2" cy="1404.2" r="15.6" fill="none" stroke="#000" stroke-width="1"/>
<line x1="386.7" y1="1404.2" x2="769.4" y2="1404.2" stroke="#8a8a8a" stroke-width="1.8"/>
<line x1="403.2" y1="1385.6" x2="403.2" y2="1422.8" stroke="#000" stroke-width="0.9"/>
<text x="428.7" y="1399.9" font-size="27.4" textLength="154" lengthAdjust="spacingAndGlyphs" stroke="#000" stroke-width="0.25">ROOF PLAN</text>
<text x="428.7" y="1419.6" font-size="11" textLength="53.5" lengthAdjust="spacingAndGlyphs" stroke="#000" stroke-width="0.22">1/4&quot; = 1&#x27;-0&quot;</text>
<path d="M1665.5,1403.7 L1649.9,1403.7 A15.6,15.6 0 0 1 1665.5,1388.1 Z" fill="url(#hatv)" stroke="none"/>
<path d="M1665.5,1403.7 L1681.1,1403.7 A15.6,15.6 0 0 1 1665.5,1419.3 Z" fill="url(#hatv)" stroke="none"/>
<circle cx="1665.5" cy="1403.7" r="15.6" fill="none" stroke="#000" stroke-width="1"/>
<line x1="1648.4" y1="1403.7" x2="2033" y2="1403.7" stroke="#8a8a8a" stroke-width="1.8"/>
<line x1="1665.5" y1="1385.1" x2="1665.5" y2="1422.3" stroke="#000" stroke-width="0.9"/>
<text x="1691.3" y="1399.4" font-size="27.4" textLength="292" lengthAdjust="spacingAndGlyphs" stroke="#000" stroke-width="0.25">SECOND FLOOR PLAN</text>
<text x="1691.3" y="1419.1" font-size="11" textLength="53.5" lengthAdjust="spacingAndGlyphs" stroke="#000" stroke-width="0.22">1/4&quot; = 1&#x27;-0&quot;</text>
<circle cx="866.9" cy="1404" r="46.9" fill="#fff" stroke="#000" stroke-width="1"/>
<g transform="rotate(14.2 866.9 1404)">
<clipPath id="nc866"><circle cx="866.9" cy="1404" r="46.5"/></clipPath>
<g clip-path="url(#nc866)">
<polygon points="866.9,1357.1 806.1,1409 810.2,1429.3 858.6,1388 858.6,1464 875.2,1464 875.2,1388 923.6,1429.3 927.7,1409" fill="url(#hatn)" stroke="#000" stroke-width="0.9"/>
</g></g>
<circle cx="866.9" cy="1404" r="46.9" fill="none" stroke="#000" stroke-width="1"/>
<text x="865.7" y="1479" font-size="26.4" text-anchor="middle" textLength="93.6" lengthAdjust="spacingAndGlyphs" stroke="#000" stroke-width="0.5">NORTH</text>
<circle cx="2128.8" cy="1404" r="46.9" fill="#fff" stroke="#000" stroke-width="1"/>
<g transform="rotate(14.2 2128.8 1404)">
<clipPath id="nc2128"><circle cx="2128.8" cy="1404" r="46.5"/></clipPath>
<g clip-path="url(#nc2128)">
<polygon points="2128.8,1357.1 2068,1409 2072.1,1429.3 2120.5,1388 2120.5,1464 2137.1,1464 2137.1,1388 2185.5,1429.3 2189.6,1409" fill="url(#hatn)" stroke="#000" stroke-width="0.9"/>
</g></g>
<circle cx="2128.8" cy="1404" r="46.9" fill="none" stroke="#000" stroke-width="1"/>
<text x="2127.6" y="1479" font-size="26.4" text-anchor="middle" textLength="93.6" lengthAdjust="spacingAndGlyphs" stroke="#000" stroke-width="0.5">NORTH</text>
<rect x="2437.9" y="0" width="154.4" height="1513" fill="#c0c0c0" stroke="none" stroke-width="0"/>
<line x1="2437.9" y1="0" x2="2437.9" y2="1513" stroke="#222" stroke-width="1.2"/>
<line x1="2592.3" y1="0" x2="2592.3" y2="1513" stroke="#222" stroke-width="1.2"/>
<rect x="2447.3" y="0" width="135.3" height="254.2" fill="#fff" stroke="#222" stroke-width="1.2"/>
<rect x="2447.3" y="264.4" width="135.3" height="654" fill="#fff" stroke="#222" stroke-width="1.2"/>
<rect x="2447.3" y="928.8" width="135.3" height="364.5" fill="#fff" stroke="#222" stroke-width="1.2"/>
<rect x="2447.3" y="1302.9" width="135.3" height="116.9" fill="#fff" stroke="#222" stroke-width="1.2"/>
<rect x="2447.3" y="1429.4" width="135.3" height="90.6" fill="#fff" stroke="#222" stroke-width="1.2"/>
<line x1="2515.5" y1="918.4" x2="2515.5" y2="928.8" stroke="#222" stroke-width="1.2"/>
<line x1="2515.5" y1="1293.3" x2="2515.5" y2="1302.9" stroke="#222" stroke-width="1.2"/>
<g>
<polygon points="2452.1,3 2521.8,3 2521.8,249.3 2452.1,237.9" fill="#050505" stroke="#222" stroke-width="0.6"/>
<polygon points="2450.9,114.5 2495.1,115.6 2450.9,129.3" fill="#fff" stroke="#fff" stroke-width="0.5"/>
<polygon points="2473.4,142.9 2495.6,136.1 2495.6,149.2" fill="#fff" stroke="#fff" stroke-width="0.5"/>
<polygon points="2523,127 2510.4,129.8 2510.4,153.7 2523,157.7" fill="#fff" stroke="#fff" stroke-width="0.5"/>
<polygon points="2450.9,152.4 2488.8,165.1 2450.9,171.4" fill="#fff" stroke="#fff" stroke-width="0.5"/>
<polygon points="2523,181 2483.7,187.3 2523,197.5" fill="#fff" stroke="#fff" stroke-width="0.5"/>
<polygon points="2450.9,193 2491.7,204.9 2450.9,215.2" fill="#fff" stroke="#fff" stroke-width="0.5"/>
<polygon points="2523,215.2 2481.4,225.4 2523,231.1" fill="#fff" stroke="#fff" stroke-width="0.5"/>
<rect x="2467.2" y="0" width="38.7" height="96.3" fill="#fff" stroke="none" stroke-width="0"/>
<text x="2489.3" y="89.6" font-size="21" transform="rotate(-90 2489.3 89.6)" textLength="54.7" lengthAdjust="spacingAndGlyphs" font-weight="bold" stroke="#000" stroke-width="0.7">MAD</text>
<text x="2489.3" y="34.4" font-size="21" transform="rotate(-90 2489.3 34.4)" textLength="65.3" lengthAdjust="spacingAndGlyphs" stroke="#000" stroke-width="0.22">ESIGN</text>
<text x="2501.5" y="89.6" font-size="11" transform="rotate(-90 2501.5 89.6)" fill="#555" stroke="#555" stroke-width="0.22">&amp; DRAFTING SERVICES</text>
</g>
<text x="2543" y="249" font-size="13.5" transform="rotate(-90 2543 249)" textLength="212.3" lengthAdjust="spacingAndGlyphs" stroke="#000" stroke-width="0.22">12975 Brookprinter Place, Suite 270</text>
<text x="2559.1" y="249" font-size="13.5" transform="rotate(-90 2559.1 249)" textLength="104.8" lengthAdjust="spacingAndGlyphs" stroke="#000" stroke-width="0.22">Poway, CA 92064</text>
<text x="2578" y="248.2" font-size="13.5" transform="rotate(-90 2578 248.2)" textLength="250.4" lengthAdjust="spacingAndGlyphs" stroke="#000" stroke-width="0.22">(760) 390-0007 www.madesigning.com</text>
<line x1="2513.4" y1="274" x2="2513.4" y2="918" stroke="#222" stroke-width="1"/>
<text x="2493.2" y="853" font-size="35.2" transform="rotate(-90 2493.2 853)" textLength="539" lengthAdjust="spacingAndGlyphs" stroke="#000" stroke-width="0.22">Academy St. Lot 13 SFD and ADUs</text>
<text x="2542.4" y="584" font-size="19.6" text-anchor="middle" transform="rotate(-90 2542.4 584)" textLength="271" lengthAdjust="spacingAndGlyphs" stroke="#000" stroke-width="0.22">4801, 4803 &amp; 4805 Academy St.</text>
<text x="2564.1" y="584" font-size="19.6" text-anchor="middle" transform="rotate(-90 2564.1 584)" textLength="183.5" lengthAdjust="spacingAndGlyphs" stroke="#000" stroke-width="0.22">San Diego, CA 92109</text>
<line x1="2553.5" y1="929" x2="2553.5" y2="1293" stroke="#222" stroke-width="1"/>
<text x="2461.9" y="1282" font-size="14.5" transform="rotate(-90 2461.9 1282)" textLength="68.5" lengthAdjust="spacingAndGlyphs" stroke="#000" stroke-width="0.22">Sheet Title:</text>
<text x="2501.1" y="1238.4" font-size="28.6" transform="rotate(-90 2501.1 1238.4)" textLength="251.6" lengthAdjust="spacingAndGlyphs" stroke="#000" stroke-width="0.22">Basement Floor Plan</text>
<text x="2533" y="1238.4" font-size="28.6" transform="rotate(-90 2533 1238.4)" textLength="189" lengthAdjust="spacingAndGlyphs" stroke="#000" stroke-width="0.22">Main Floor Plan</text>
<text x="2568.7" y="1288.5" font-size="15" transform="rotate(-90 2568.7 1288.5)" textLength="110" lengthAdjust="spacingAndGlyphs" stroke="#000" stroke-width="0.22">Plan Prepared By:</text>
<text x="2568.7" y="1167.8" font-size="15" transform="rotate(-90 2568.7 1167.8)" textLength="49" lengthAdjust="spacingAndGlyphs" stroke="#000" stroke-width="0.22">Ian Paje</text>
<path d="M2579.7,1098.3 L2573.9,1086.8 C2571,1083 2566,1081 2566,1083 C2567,1086 2574,1088 2576.5,1086 C2577,1082 2570,1074 2566.7,1072.6 C2566,1075 2572,1078 2576,1077 C2577,1072 2570,1062 2567.4,1059.3 C2570,1062 2574,1066 2575.5,1065 C2575,1060 2571,1056 2568.5,1057 C2572,1058 2575,1059 2575.5,1056 C2574,1054 2572,1052.5 2571,1052" fill="none" stroke="#222" stroke-width="0.9" />
<path d="M2581.2,1050.2 C2572,1049 2557,1037 2554.4,1027 C2554,1024 2560,1024 2563,1027 C2567,1031 2571,1040 2572.5,1044.6 C2571,1040 2569,1033 2570.3,1029 C2573,1031 2578,1034 2579.7,1035.4 C2577,1031 2574,1024 2574,1021.6 C2575,1020 2577,1022 2577.6,1025.3" fill="none" stroke="#222" stroke-width="0.9" />
<circle cx="2563.1" cy="1027.4" r="1.3" fill="none" stroke="#222" stroke-width="0.7"/>
<circle cx="2559.5" cy="1081.3" r="1" fill="#333" stroke="none" stroke-width="0"/>
<line x1="2485.9" y1="1302.9" x2="2485.9" y2="1419.8" stroke="#222" stroke-width="1"/>
<line x1="2543.9" y1="1302.9" x2="2543.9" y2="1419.8" stroke="#222" stroke-width="1"/>
<line x1="2447.3" y1="1332.1" x2="2582.6" y2="1332.1" stroke="#222" stroke-width="1"/>
<line x1="2447.3" y1="1361.3" x2="2582.6" y2="1361.3" stroke="#222" stroke-width="1"/>
<line x1="2447.3" y1="1390.5" x2="2582.6" y2="1390.5" stroke="#222" stroke-width="1"/>
<text x="2466.3" y="1320.4" font-size="13.3" text-anchor="middle" stroke="#000" stroke-width="0.22">Rev.</text>
<text x="2514.7" y="1320.4" font-size="13.3" text-anchor="middle" stroke="#000" stroke-width="0.22">Date</text>
<text x="2563.1" y="1320.4" font-size="13.3" text-anchor="middle" stroke="#000" stroke-width="0.22">By</text>
<line x1="2447.3" y1="1458.6" x2="2582.6" y2="1458.6" stroke="#222" stroke-width="1"/>
<text x="2450.1" y="1448.1" font-size="13.3" stroke="#000" stroke-width="0.22">Date:</text>
<text x="2506.8" y="1449.9" font-size="12" textLength="38.5" lengthAdjust="spacingAndGlyphs" stroke="#000" stroke-width="0.22">9/25/25</text>
<text x="2450.1" y="1478.4" font-size="13.3" stroke="#000" stroke-width="0.22">Scale:</text>
<text x="2506" y="1477.4" font-size="13.3" textLength="64" lengthAdjust="spacingAndGlyphs" stroke="#000" stroke-width="0.22">1/4&quot; = 1&#x27;-0&quot;</text>
<line x1="2447.3" y1="1487.3" x2="2582.6" y2="1487.3" stroke="#222" stroke-width="1"/>
<rect x="0" y="1508.6" width="2686" height="4.4" fill="#7c7c7c" stroke="none" stroke-width="0"/>
<rect x="0" y="1507.6" width="2686" height="1.2" fill="#a8a8a8" stroke="none" stroke-width="0"/>
<rect x="0" y="1508.6" width="52" height="4.4" fill="#555" stroke="none" stroke-width="0"/>
<rect x="0" y="0" width="2686" height="3" fill="#ebebeb" stroke="none" stroke-width="0"/>
<rect x="0" y="3" width="2686" height="1.3" fill="#e6e6e6" fill-opacity="0.75"/>
<rect x="0" y="4.3" width="2686" height="1.3" fill="#ededed" fill-opacity="0.6"/>
<rect x="0" y="5.6" width="2686" height="1.2" fill="#f6f6f6" fill-opacity="0.5"/>
<text x="2447.9" y="1502.2" font-size="31" textLength="154" lengthAdjust="spacingAndGlyphs" fill="#ffffff" fill-opacity="0.55" stroke="#8c8c8c" stroke-width="0.9">SAN DIEGO</text>
<text x="2616.8" y="1502.2" font-size="31" textLength="59.2" lengthAdjust="spacingAndGlyphs" fill="#ffffff" fill-opacity="0.55" stroke="#8c8c8c" stroke-width="0.9">MLS</text>
<rect x="2608.4" y="1474.4" width="2" height="31.8" fill="#eee" stroke="#8c8c8c" stroke-width="0.7"/>
</svg>
</body></html>
